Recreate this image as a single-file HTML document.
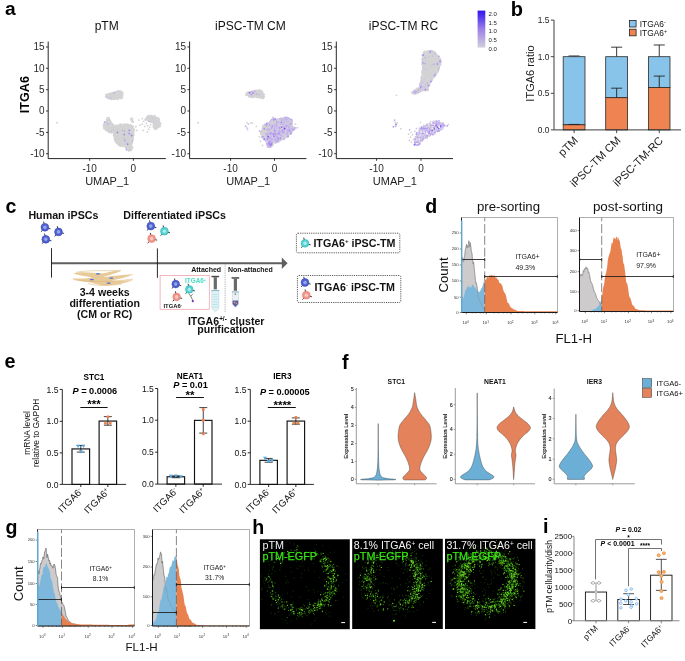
<!DOCTYPE html>
<html lang="en">
<head>
<meta charset="utf-8">
<title>ITGA6 iPSC-TM figure</title>
<style>
html,body{margin:0;padding:0;background:#fff;}
body{width:685px;height:661px;overflow:hidden;font-family:'Liberation Sans', Arial, Helvetica, sans-serif;}
svg{display:block;}
svg text{font-family:'Liberation Sans', Arial, Helvetica, sans-serif;}
</style>
</head>
<body>
<svg width="685" height="661" viewBox="0 0 685 661">
<rect width="685" height="661" fill="#fff"/>
<g id="panel-a"><text x="5" y="14.6" font-size="19.2" font-weight="bold">a</text><text x="29.4" y="94.6" font-size="12.6" text-anchor="middle" font-weight="bold" transform="rotate(-90 29.4 94.6)">ITGA6</text><text x="106.7" y="30.2" font-size="12" text-anchor="middle" fill="#111">pTM</text><text x="250.4" y="30.2" font-size="12" text-anchor="middle" fill="#111">iPSC-TM CM</text><text x="403.4" y="30.2" font-size="12" text-anchor="middle" fill="#111">iPSC-TM RC</text><path d="M48.2 41.5V158.6H165.8" fill="none" stroke="#1a1a1a" stroke-width="0.95"/><text x="44.6" y="50.4" font-size="10" text-anchor="end" fill="#2a2a2a">15</text><text x="44.6" y="71.7" font-size="10" text-anchor="end" fill="#2a2a2a">10</text><text x="44.6" y="93.1" font-size="10" text-anchor="end" fill="#2a2a2a">5</text><text x="44.6" y="114.4" font-size="10" text-anchor="end" fill="#2a2a2a">0</text><text x="44.6" y="135.8" font-size="10" text-anchor="end" fill="#2a2a2a">-5</text><text x="44.6" y="157.1" font-size="10" text-anchor="end" fill="#2a2a2a">-10</text><path d="M48.2 47h-2.2M48.2 68.3h-2.2M48.2 89.7h-2.2M48.2 111h-2.2M48.2 132.4h-2.2M48.2 153.7h-2.2M89.7 158.6v2.2M133.4 158.6v2.2" stroke="#1a1a1a" stroke-width="0.85" fill="none"/><text x="89.7" y="171.5" font-size="10" text-anchor="middle" fill="#2a2a2a">-10</text><text x="133.4" y="171.5" font-size="10" text-anchor="middle" fill="#2a2a2a">0</text><text x="107.2" y="185.3" font-size="11" text-anchor="middle" fill="#222">UMAP_1</text><path d="M118 94.6h0M115.9 95.9h0M120.2 94.8h0M116.7 95.9h0M116.4 95.3h0M114.9 93.4h0M117.4 93.1h0M116.3 96.8h0M118.7 96.2h0M115.5 94.5h0M122.7 95.1h0M119.7 91.9h0M106.3 97.2h0M113.5 93.7h0M112.5 92.7h0M108 97h0M107.3 95h0M107.7 97.5h0M118.6 97.9h0M112.4 98.6h0M116.2 91.7h0M113.5 97.4h0M121 96.1h0M114.5 94.7h0M122.1 97.9h0M118.5 98.8h0M110.3 98.1h0M105.7 96.5h0M110.2 96.6h0M118.6 90.8h0M108.5 93.9h0M118 98.5h0M121.7 91.9h0M110.8 95h0M111.4 96.9h0M118.3 91.5h0" stroke="#d3d3d3" stroke-width="1.9" stroke-linecap="round" fill="none"/><path d="M116.4 97.9h0M114.6 97.6h0" stroke="#c1acee" stroke-width="1.9" stroke-linecap="round" fill="none"/><path d="M114.3 92.8h0" stroke="#b094f0" stroke-width="1.9" stroke-linecap="round" fill="none"/><path d="M112.5 95.2h0M122.4 92.8h0M117.2 94.9h0M108.9 98.5h0M114.2 95.2h0M120.2 95.9h0M119.1 95.3h0M110.2 93.2h0M122.9 93.4h0M120.8 98.6h0M118 94.8h0M105.9 94.8h0M111.4 99.2h0M111.4 98.1h0M118.7 92.5h0M109.8 95.2h0M115 95.6h0M120.2 96.8h0M110.1 98.7h0M121.8 94h0M116.2 98.7h0M114.2 99h0M120.9 94.7h0M120.9 93.7h0M106.6 96.3h0M108.9 96.2h0M121.3 93.3h0M115.2 92.1h0M122.5 97.4h0M117.5 92h0M111.1 94.7h0M118.1 97.2h0M117.5 91.3h0M118.1 96h0M120.1 92.4h0M112 93.5h0M116.4 92.4h0" stroke="#d3d3d3" stroke-width="1.9" stroke-linecap="round" fill="none"/><path d="M110.5 97.6h0" stroke="#c1acee" stroke-width="1.9" stroke-linecap="round" fill="none"/><path d="M107.8 96.4h0" stroke="#cec4ea" stroke-width="1.9" stroke-linecap="round" fill="none"/><path d="M116.8 97.5h0M121.2 92h0M117.5 99.2h0M112.6 94.2h0M109.7 97h0M115.7 93.2h0M119.1 96.9h0M118.7 93.4h0M110.9 96.3h0M118.5 94.6h0M119.4 92.9h0M112.5 95.9h0M111.5 95.1h0M119.9 97.8h0M113.1 94.1h0M121.9 96.4h0M113 99.3h0M113.6 98.3h0M106.6 95.4h0M121.1 96.9h0M115.2 97.8h0M116.2 94.5h0M112.5 93.2h0M115.4 98.8h0M112.8 97.4h0M108 98.2h0M107.6 94.3h0M109.8 94.5h0M113.2 95.9h0M114.3 98h0M121.6 95.5h0M114 96.4h0M120.5 95.1h0M108.8 95.4h0M120.6 91.1h0M107 94.6h0" stroke="#d3d3d3" stroke-width="1.9" stroke-linecap="round" fill="none"/><path d="M57.1 122.8h0" stroke="#d3d3d3" stroke-width="1.9" stroke-linecap="round" fill="none"/><path d="M110.5 127h0M107.4 126h0" stroke="#c1acee" stroke-width="1.9" stroke-linecap="round" fill="none"/><path d="M121.1 143.1h0M117.9 130h0M123.6 130.3h0M124.5 139.4h0M128.6 128h0M122.2 133.6h0M117.8 132.6h0M117.3 133.9h0M132.5 132.3h0M117.4 127.2h0M128.6 141.4h0M108.9 128.2h0M131.7 136.7h0M112.9 132.4h0M129.5 138.8h0M133.9 134.9h0M119.4 127.9h0M111.3 131.5h0M130.3 148.9h0M114.2 134.7h0M125.8 128.1h0M132.5 140.5h0M104.2 128.8h0M128.3 134h0M127.3 139.6h0M131 148.1h0M117.1 129.5h0M122.8 146.5h0M130.5 144.4h0M109.5 120.7h0M116.3 132.9h0M117.3 135.1h0M131.1 132.5h0M119.9 138.2h0M117.3 125.7h0M130 130.6h0M121.1 137.5h0M128.7 134.8h0M126.6 137.7h0M121.5 131.4h0M126.5 148.6h0M129.6 142.4h0M128.8 135.4h0M124.1 136.4h0M109.1 120.9h0M131.1 134.3h0M109.6 130.9h0M121.5 145.1h0M107.3 121h0M124.5 124.4h0M128.4 140.1h0M125.4 133h0M127.4 144.3h0M121.5 140.7h0M130.9 137.6h0M126.8 131.6h0M111.6 127.7h0M131.6 141.4h0M124.7 137.2h0M111.1 132.4h0M115.4 136.5h0M124.9 130.4h0M126.2 144.2h0M104.4 124.1h0M107.7 119.2h0M107.4 128.2h0M129.4 140.3h0M119.7 144.3h0M115.6 129.3h0M130.9 125.1h0M112.9 128.4h0M115.6 127h0M109.6 131.9h0M120.1 132.7h0M122.2 130.7h0M129.6 134.9h0M115.7 129.9h0M114.6 137.2h0M124.4 124.8h0M128.9 150h0M116.4 134.5h0M120.6 136.7h0M133.3 132.1h0M105.7 130.1h0M112.7 130.1h0M123.4 133.7h0M120.7 130.1h0M120.7 140.1h0M122.6 138.8h0M125.9 147.7h0M123.3 140.3h0M127.2 140.3h0M119 126.8h0M109.3 126.2h0M126.2 136.6h0M124.2 140.4h0M126.1 136h0M119.3 131.2h0M126.6 127.1h0M129 129.9h0M119.3 136.1h0M110.4 132h0M132.4 141.7h0M128.1 139.8h0M126.1 132.9h0M128.7 139.4h0M123.9 130.4h0M114.9 131.5h0M130.1 131.6h0M133.7 129.3h0M116.3 135.3h0M121.3 135.5h0M123.1 128.7h0M107.7 122.3h0M108.8 124.4h0M129.4 136.6h0M125.4 143.8h0M112.8 125.7h0M114.4 133h0M124.3 141.6h0M108.3 131.1h0M108.6 119.6h0M127.1 147h0M130.7 128.8h0M132.7 136.9h0M130.6 141.8h0M122.2 134.6h0M105.6 123.8h0M125.5 139h0M104.7 127.9h0M128.4 145.9h0M122.7 125.4h0M117.3 125.3h0M127.9 147.1h0M117.3 128.2h0M126.5 138.1h0M122.2 138.7h0M127.2 133.8h0M129.9 139.4h0M132.1 143h0M120 142.7h0M125.7 144.9h0M112.7 127h0M127.6 128.1h0M112.2 127.7h0M124.4 142.8h0M106.1 128.1h0M121.8 125.2h0M120.3 127.7h0M120.7 125h0M113.2 124.9h0M111.1 126.3h0M129.9 145.4h0M121 141.3h0M103.9 124.6h0M122.9 126.3h0M116.1 138.3h0M119.1 129.7h0M118 141.4h0M130 124.9h0M112.1 130.5h0M115 132.3h0M106.7 122.1h0M119.5 135.1h0M105.6 127.1h0M121 134.3h0M133.3 137.3h0M127.1 145.3h0M118.9 136.6h0M122.9 134.6h0M130.7 136.9h0" stroke="#d3d3d3" stroke-width="1.9" stroke-linecap="round" fill="none"/><path d="M125.1 140.3h0M132.2 140.5h0M122.6 130.1h0M123.7 138.2h0" stroke="#b094f0" stroke-width="1.9" stroke-linecap="round" fill="none"/><path d="M113.5 127.6h0" stroke="#cec4ea" stroke-width="1.9" stroke-linecap="round" fill="none"/><path d="M115.7 139.8h0M105.2 125.6h0M119.9 145.4h0M129.6 150.1h0" stroke="#b094f0" stroke-width="1.9" stroke-linecap="round" fill="none"/><path d="M117.8 130.5h0M123.8 127.2h0M127.1 142.6h0M121.1 124.4h0" stroke="#cec4ea" stroke-width="1.9" stroke-linecap="round" fill="none"/><path d="M113.5 130h0M111.2 130.8h0M118.9 132.7h0" stroke="#c1acee" stroke-width="1.9" stroke-linecap="round" fill="none"/><path d="M110.4 120.4h0M129.2 149h0M105.2 123.6h0M108.5 125.8h0M110.7 122.7h0M127.8 131.2h0M116.4 140.4h0M112.3 125.2h0M111.7 123.2h0M121.8 132.4h0M130.9 143.2h0M116.3 130.4h0M128.7 145.5h0M124.9 125.3h0M119.5 131.9h0M115.5 140.7h0M128 148.6h0M132.4 137.3h0M131.3 127.9h0M123.2 132.1h0M134.2 129.9h0M104.4 123h0M130.7 126.6h0M113.9 133.4h0M127.7 134.9h0M131 147.4h0M115.6 125.8h0M131.7 149.3h0M107.6 129.3h0M109.5 132.4h0M112.3 128.9h0M120.8 130.9h0M126.4 131.1h0M107.5 127.1h0M110.6 124.6h0M118.4 125.5h0M118.1 135.6h0M131.7 130.8h0M127.3 146.1h0M120.6 132.4h0M112.3 127.4h0M121.2 139.3h0M109.4 130h0M106.4 126.9h0M125.4 134.3h0M118.8 140.1h0M124.3 125.7h0M123.5 143.3h0M117.8 125.9h0M133.6 130.2h0M130.5 137.3h0M109.5 119.5h0M117.7 142.2h0M118.8 128.8h0M132 148.8h0M130.5 127.8h0M111.7 124.1h0M124.1 145.8h0M121.6 136.3h0M130.8 131.2h0M126.5 146.1h0M129.7 129.3h0M132.5 128.4h0M108.4 128.3h0M122.7 142.6h0M133.3 131.2h0M120.5 134h0M129 126.2h0M123.2 127.4h0M107.8 131.4h0M133.6 130.6h0M120.3 135.6h0M128.1 142h0M117.3 132.1h0M128.8 147.7h0M125.9 125h0M126.7 127.9h0M118 131.4h0M124.6 135.6h0M115.9 128.2h0M103.9 126.9h0M111.2 128.5h0M118.9 142.3h0M130.5 149.7h0M131.6 139.5h0M103.9 127.7h0M128.6 130.7h0M121 138.3h0M119.2 141h0M108.5 130h0M133.7 132.3h0M113.7 135.2h0M115 130.4h0M108.5 120.2h0M128.3 144.4h0M132.7 139.5h0M116.6 141.4h0M132.8 138.5h0M128.3 136.9h0M131.7 127.3h0M115.1 134.4h0M128.4 127.1h0M129.1 143.7h0M128.3 138.1h0M123.6 135.2h0M120.7 126.2h0M127.6 141.1h0M103.6 125.9h0M118.1 143.2h0M130.4 135.6h0M129 137.1h0M123.7 134.4h0M123.1 132.3h0M123.1 144.4h0M122.6 137.3h0M129.9 147.8h0M127.2 147.9h0M121.8 125.7h0M123.9 145.6h0M103.6 124.9h0M130.1 126.1h0M130.9 138.8h0M122 144.6h0M132.9 135h0M108.3 125.4h0M112.5 123.9h0M123.6 137.4h0M120.5 139.7h0M129.9 126.9h0M119.1 145h0M117 143.4h0M118.5 130.8h0M128 142.9h0M127.9 124.4h0M128.7 150.9h0M119.4 137.4h0M127.6 132.2h0M107.1 120.7h0M109.1 132.5h0M130.4 143.2h0M117.8 133.5h0M109.7 127h0M111.6 132.8h0M125.4 134.1h0M116.2 131.5h0M131.4 132.5h0M132.8 132.1h0M132.8 126.7h0M106.1 125.1h0M122.2 142.6h0M109 117.9h0M129.8 144.4h0M111.6 129.4h0M116.1 136.8h0M129.9 133.7h0M115.5 137.3h0M107.9 125.3h0M109.5 122.4h0M112.5 131.5h0M119.3 128.6h0M125.6 143.4h0M121.8 126.8h0M114.3 136.6h0M120.2 143.1h0M131.9 128.6h0M109 128.7h0M108 118.2h0" stroke="#d3d3d3" stroke-width="1.9" stroke-linecap="round" fill="none"/><path d="M120.6 146h0M131.4 134.9h0M105.7 128.7h0M117 139.3h0M132.3 134.1h0M126.9 130.2h0M124.9 146.3h0M106.7 119.6h0M106.4 123.4h0M130 141.5h0M131.4 146.1h0M122.3 136h0M129.4 131.9h0M133.2 139.1h0M120 125.2h0M126.2 146.8h0M122.1 139.2h0M114.3 130.7h0M113.8 125.3h0M120.7 142h0M113.3 131.9h0M116.2 133.7h0M125.5 138.2h0M124 142.3h0M127 136.9h0M132.1 130.2h0M128.4 144.9h0M122.5 141.5h0M131.1 145h0M127.9 125.7h0M114.4 127h0M121.2 129.4h0M123.2 131.1h0M124.7 129.7h0M115.5 141.7h0M130.4 145.9h0M130.2 146.8h0M131.1 140.7h0M126.1 131.6h0M122 143.6h0M123.8 124.5h0M128.4 125.4h0M128.1 137.6h0M118.1 139.6h0M114.9 138h0M120.8 143.8h0M131.8 138.1h0M132.8 135.9h0M127 150h0M117.8 128.1h0M123.4 136.6h0M115.1 133.6h0M132.5 147.1h0M122.4 127.6h0M121 127.9h0M114.6 129h0M117.1 138.3h0M106.6 121.1h0M133.3 128.3h0M117.1 136.2h0M131.7 141.9h0M123.7 143.9h0M120 124.2h0M114.7 126.4h0M124.2 128.2h0M110.1 121.6h0M127.3 138.7h0M121.8 129.2h0M117.3 140.4h0M126.2 134.8h0M125.4 137.5h0M118.3 138.8h0M120 137.9h0M116.1 142.3h0M124.1 132.7h0M123.5 128h0M127 126h0M116.6 137.4h0M123.7 139.4h0M109 122.9h0M107.3 117.9h0M108.4 127.1h0M117.6 129h0M119.6 133.9h0M114.6 138.7h0M125.3 129.3h0M131.2 125.8h0M119.3 139.5h0M129.6 132.7h0M132.7 126.3h0M124.6 133.7h0M133.1 135.4h0M125.5 124.5h0M126.4 128.5h0M126.6 140.7h0M120.1 132h0M127.1 141h0M109.6 129h0M128.5 128.4h0M107.8 131.1h0M131.5 130.2h0M121.4 134.1h0M120.3 140.9h0M109.9 127.5h0M119.4 135.6h0M106.4 128.9h0M126.1 129.7h0M117.1 134.5h0M114.7 139.8h0M123.2 141.8h0M133.3 133.8h0M105.5 125.2h0M107.3 123.4h0M107.1 124.2h0M110.5 123.7h0M127.2 143.1h0M130.9 150.6h0M131.8 144h0M126.4 141.9h0M125.6 136.6h0M110.5 125.9h0M116.5 129h0M118.4 134.7h0M120.1 140h0M125.3 125.9h0M119.5 126.9h0M127.7 129h0M119 143.1h0M129.9 146.3h0M129.2 146.9h0M120.7 126.9h0M127 124.2h0M131.9 128.1h0M114.6 135.9h0M110.6 121.6h0M123.5 125.7h0M127.5 126.7h0M116.8 126.7h0M125.5 141.7h0M110.2 123.2h0M118.2 144.3h0M127.6 132.3h0M127.7 124.8h0M106.5 130.5h0M115.1 129.8h0M109.9 122.2h0M122.1 145.2h0M121 129.3h0M128.9 132.7h0M113.9 126.1h0M115 127.6h0M122.1 131.9h0M126.8 135.7h0M124 128.7h0M124.4 144.9h0M118.8 125.9h0M131.4 148h0M106.6 130.1h0M112.8 131h0M127.8 135.6h0M131.4 133.4h0M105.6 121.9h0M130.5 129.4h0M124.9 126.6h0M105.5 125.7h0M110.7 129.6h0M131 131.6h0M118.3 137.2h0M110.2 124.7h0M127.8 129.4h0" stroke="#d3d3d3" stroke-width="1.9" stroke-linecap="round" fill="none"/><path d="M129.2 133.5h0" stroke="#b094f0" stroke-width="1.9" stroke-linecap="round" fill="none"/><path d="M107.9 123.9h0M131.6 135.8h0M124.6 131.4h0M126.4 149.5h0M104.8 121.9h0" stroke="#c1acee" stroke-width="1.9" stroke-linecap="round" fill="none"/><path d="M125.5 142.2h0" stroke="#cec4ea" stroke-width="1.9" stroke-linecap="round" fill="none"/><path d="M131.4 118.2h0M132.4 120.6h0M135.8 126.8h0" stroke="#d3d3d3" stroke-width="1.9" stroke-linecap="round" fill="none"/><path d="M132.6 118.9h0M133.2 122h0M136.6 130.4h0" stroke="#d3d3d3" stroke-width="1.9" stroke-linecap="round" fill="none"/><path d="M131 119.8h0M131.8 121.6h0" stroke="#d3d3d3" stroke-width="1.9" stroke-linecap="round" fill="none"/><path d="M117.4 132.4h0M129.2 130.3h0M131.6 135.4h0M124.2 134.6h0M127.6 144.2h0" stroke="#9a84ea" stroke-width="1.7" stroke-linecap="round" fill="none"/><path d="M156.5 121.3h0M152.1 122.1h0M147.1 117.9h0M157 127.6h0M158.1 127.4h0M148.9 118.5h0M158.2 121.4h0M151.9 117.2h0M153.1 119.7h0M149.1 117.7h0M154.6 122.6h0M155.9 117.2h0M152.5 116h0M159.2 124.2h0M155.9 127.7h0M154.3 125.2h0M159.2 121.7h0M153.1 117.5h0M155.5 124.7h0M153.8 123.2h0M151.3 116.5h0M159 119.7h0M158.2 120.3h0M154.8 124h0M154.5 117.5h0M156.7 124.5h0M151.6 119.2h0M154.1 124h0M150.7 116.2h0M148.6 119.4h0M154.9 122.3h0M155.8 126h0M157.1 122.9h0M156.4 124.2h0M158.6 127h0M155.2 126.2h0M156.7 128.9h0M146 118.4h0M150.8 121.4h0M158.8 123.3h0M154.3 122.1h0" stroke="#d3d3d3" stroke-width="1.9" stroke-linecap="round" fill="none"/><path d="M147.7 117.2h0M150.8 118.3h0" stroke="#c1acee" stroke-width="1.9" stroke-linecap="round" fill="none"/><path d="M154.1 127.1h0M154.8 118.3h0M152.5 118.7h0M153.2 121h0M150.5 121.3h0M156.9 124.2h0M159.3 121.3h0M148.3 120.6h0M159 119h0M153.7 116.6h0M154.8 115.8h0M157.4 118.5h0M155.7 118h0M150.5 118.8h0M148.2 119.8h0M153.8 127.4h0M158.5 125.7h0M157.4 123.3h0M158.3 118h0M149.2 118.1h0M155.4 123.4h0M156.9 119.6h0M155.9 126.9h0M154.3 121.2h0M155.2 119.9h0M156.5 120.2h0M160 124.7h0M152 120.9h0M158.2 126.7h0M146.7 119.3h0M157.1 126.6h0M159.8 126.5h0M153.9 125.8h0M154.6 128.7h0M152.4 122.6h0M157.1 119.3h0M153.3 125.1h0" stroke="#d3d3d3" stroke-width="1.9" stroke-linecap="round" fill="none"/><path d="M152.7 118.4h0M153.8 118h0" stroke="#cec4ea" stroke-width="1.9" stroke-linecap="round" fill="none"/><path d="M149.2 121.3h0" stroke="#c1acee" stroke-width="1.9" stroke-linecap="round" fill="none"/><path d="M147.7 116.4h0" stroke="#cec4ea" stroke-width="1.9" stroke-linecap="round" fill="none"/><path d="M158.3 121.6h0M157.5 124.7h0M145.5 120h0M154.6 127.6h0M153.5 126.8h0M150.9 120.3h0M156.8 126h0M151.2 115.6h0M160.7 123.6h0M153.7 119.3h0M148.1 116.2h0M152 118.1h0M151.7 120.4h0M160.2 125.9h0M155.2 121.4h0M155.2 129h0M149.8 115.8h0M147.7 120.3h0M159.2 125.1h0M145.7 119.4h0M151 116.8h0M150.3 117.5h0M159.5 125.6h0M157.7 122.4h0M158.1 124.2h0M156.3 117.6h0M147.2 116.9h0M150.8 122h0M158 119h0M152.8 121.9h0M155.8 119.3h0M148.9 115.7h0M159.7 122.5h0M148.2 119.3h0M154.5 118.8h0M156 122.4h0M154.2 120.3h0M149.8 120h0" stroke="#d3d3d3" stroke-width="1.9" stroke-linecap="round" fill="none"/><path d="M138.9 120.1h0M143.6 121.4h0M143 130.4h0M146.2 123.4h0M147.6 125.8h0" stroke="#d3d3d3" stroke-width="1.8" stroke-linecap="round" fill="none"/><path d="M139.8 125.2h0M142.2 124.2h0M147.4 131.9h0M150.6 124.8h0M145.2 119.4h0" stroke="#d3d3d3" stroke-width="1.8" stroke-linecap="round" fill="none"/><path d="M142.3 118.6h0M144.8 126.4h0M148.6 129.4h0M149.6 127.4h0" stroke="#d3d3d3" stroke-width="1.8" stroke-linecap="round" fill="none"/><path d="M189.6 41.5V158.6H306.4" fill="none" stroke="#1a1a1a" stroke-width="0.95"/><text x="186" y="50.4" font-size="10" text-anchor="end" fill="#2a2a2a">15</text><text x="186" y="71.7" font-size="10" text-anchor="end" fill="#2a2a2a">10</text><text x="186" y="93.1" font-size="10" text-anchor="end" fill="#2a2a2a">5</text><text x="186" y="114.4" font-size="10" text-anchor="end" fill="#2a2a2a">0</text><text x="186" y="135.8" font-size="10" text-anchor="end" fill="#2a2a2a">-5</text><text x="186" y="157.1" font-size="10" text-anchor="end" fill="#2a2a2a">-10</text><path d="M189.6 47h-2.2M189.6 68.3h-2.2M189.6 89.7h-2.2M189.6 111h-2.2M189.6 132.4h-2.2M189.6 153.7h-2.2M230.6 158.6v2.2M274.5 158.6v2.2" stroke="#1a1a1a" stroke-width="0.85" fill="none"/><text x="230.6" y="171.5" font-size="10" text-anchor="middle" fill="#2a2a2a">-10</text><text x="274.5" y="171.5" font-size="10" text-anchor="middle" fill="#2a2a2a">0</text><text x="248.2" y="185.3" font-size="11" text-anchor="middle" fill="#222">UMAP_1</text><path d="M253.6 94.4h0M256.3 94.7h0M257.5 95.2h0M262.9 97.1h0M257.3 97h0M256.2 96.3h0M249.4 95.9h0M260.1 95.1h0M260.7 92.1h0M250.7 93.8h0M248.6 92.9h0M252.8 95.8h0M250.7 92.1h0M262.3 91.7h0M252.8 91.4h0M256.2 97.1h0M247.9 93.4h0M260.4 90.3h0M257.8 94.2h0M257.9 91.4h0M254.4 96h0M252.2 91.4h0M251.6 97.2h0M260 93.5h0M249.1 96.8h0M247.9 92.3h0M263.2 98.4h0M262.5 93.8h0M260.5 98h0M261.3 98h0M261.8 92.3h0" stroke="#d3d3d3" stroke-width="1.9" stroke-linecap="round" fill="none"/><path d="M256.1 91.8h0" stroke="#b094f0" stroke-width="1.9" stroke-linecap="round" fill="none"/><path d="M253.9 93.4h0M251.2 97.1h0" stroke="#cec4ea" stroke-width="1.9" stroke-linecap="round" fill="none"/><path d="M251.3 92h0M256 92.9h0M249.4 95.4h0M252.3 93.4h0" stroke="#c1acee" stroke-width="1.9" stroke-linecap="round" fill="none"/><path d="M256.8 94.3h0M262.8 95.1h0M258.3 95.9h0M258.8 91.9h0M262 95.8h0M254.1 96.2h0M246.7 93.7h0M261.1 96.3h0M252.8 92.1h0M260.8 91.1h0M253.2 97.2h0M254.4 96.8h0M260.4 97.1h0M249.5 92.1h0M256.7 96.2h0M260.4 95.9h0M248.3 95.6h0M263.6 94.4h0M259.6 93.6h0M251.3 93.6h0M246.1 94.1h0M258.8 90.1h0M261.8 91.1h0M258.4 90.4h0M248.9 94.4h0M257.1 92.9h0M258.2 92.2h0M260.1 91.2h0M251.3 93.3h0" stroke="#d3d3d3" stroke-width="1.9" stroke-linecap="round" fill="none"/><path d="M258.8 94.5h0M254.9 90.7h0M256.1 94.3h0M254.6 93.7h0" stroke="#c1acee" stroke-width="1.9" stroke-linecap="round" fill="none"/><path d="M249.5 92.7h0" stroke="#9270f2" stroke-width="1.9" stroke-linecap="round" fill="none"/><path d="M253.4 92h0" stroke="#b094f0" stroke-width="1.9" stroke-linecap="round" fill="none"/><path d="M264.2 94.6h0M253.9 91h0M252.8 93.8h0" stroke="#cec4ea" stroke-width="1.9" stroke-linecap="round" fill="none"/><path d="M250.6 95.1h0" stroke="#c1acee" stroke-width="1.9" stroke-linecap="round" fill="none"/><path d="M252.8 93.3h0M251.8 94.8h0" stroke="#b094f0" stroke-width="1.9" stroke-linecap="round" fill="none"/><path d="M251.4 96.2h0M264 96.9h0" stroke="#cec4ea" stroke-width="1.9" stroke-linecap="round" fill="none"/><path d="M261.6 95.1h0M260.8 94.9h0M255.4 95.1h0M258.2 97.5h0M254.6 91.9h0M248.8 95h0M260.9 92.8h0M246.4 95.3h0M248.1 93.9h0M261 93.9h0M256.7 91.6h0M262.2 97.5h0M250.6 96h0M258.4 96.6h0M263.1 93.1h0M259.6 96.9h0M255.2 93.1h0M259.5 95.8h0M257.2 92.2h0M253 94.9h0M258.4 93.2h0M254.1 94.9h0M259.4 92.6h0M263.6 97.5h0M262.2 96.7h0M262.2 93.4h0M255.3 96.6h0M263.2 96h0M246.5 93.2h0M256.9 90.4h0M247.9 94.8h0M258.7 91.5h0" stroke="#d3d3d3" stroke-width="1.9" stroke-linecap="round" fill="none"/><path d="M198.1 122.8h0" stroke="#d3d3d3" stroke-width="1.9" stroke-linecap="round" fill="none"/><path d="M246.8 128h0" stroke="#cec4ea" stroke-width="1.8" stroke-linecap="round" fill="none"/><path d="M247.2 122.6h0" stroke="#d3d3d3" stroke-width="1.8" stroke-linecap="round" fill="none"/><path d="M248.4 124h0M247.6 129.6h0" stroke="#cec4ea" stroke-width="1.8" stroke-linecap="round" fill="none"/><path d="M245.6 126.2h0" stroke="#c1acee" stroke-width="1.8" stroke-linecap="round" fill="none"/><path d="M256.3 126.3h0M250.8 122.8h0M252.2 123.2h0" stroke="#d3d3d3" stroke-width="1.7" stroke-linecap="round" fill="none"/><path d="M284.7 132.6h0M267.9 144.7h0M276.9 141.6h0M291.8 126.3h0M271.1 120.7h0" stroke="#9270f2" stroke-width="2.0" stroke-linecap="round" fill="none"/><path d="M275 123.8h0M287.6 118.2h0M284 123.3h0M284.1 135.7h0M285.5 128.8h0M289.7 125.9h0M279.5 130h0M269.7 144.5h0M274.8 122.2h0M269 125.4h0M281.8 120.5h0M283.4 138.6h0M268 141h0M265.5 134.9h0M286.4 119.4h0M289.7 120.9h0M271.3 125h0M282.7 120.4h0M294.3 129.2h0M266.4 141h0M282.1 136.4h0M266.8 131.2h0M288.7 130.8h0M284 134.3h0M284.4 127h0M280.6 124.4h0M276.2 131.7h0" stroke="#b094f0" stroke-width="2.0" stroke-linecap="round" fill="none"/><path d="M269.5 139h0M279.5 134h0M286 130h0M276.4 135.5h0M270.4 132.5h0M270.3 136.8h0M285.3 133.6h0M285.7 136h0M277.5 135h0M264.5 131.5h0M275.5 134.7h0M275.2 124h0M281.1 133.4h0M267.1 144.5h0M272.3 123h0M280.9 122.5h0M281.8 126.5h0M274.1 124.4h0M279.5 122.3h0M286.3 133.9h0M270.4 123.4h0M285 120.5h0M279.6 126.8h0M270.5 127.5h0M276.4 119.4h0M276 127.8h0M269.5 132.4h0M272.5 125.7h0M277.4 127.9h0M265.4 127.5h0M268.2 130.9h0M288.7 127.8h0M269.3 124.1h0M280.4 132.7h0M277.1 135.3h0M270.9 138.8h0M265.9 138.7h0M291.4 128.2h0M268.9 133.6h0M276.2 122.3h0M274.4 142.5h0M283 123.3h0M263.3 135.1h0M286.8 130.7h0M264.4 124.5h0M272.7 143.3h0M273.3 130h0M265.5 134.3h0M286.4 118.5h0M288.6 135h0M272.6 127.1h0M290.3 127.8h0M278.4 139.3h0M270.6 142.3h0M282.1 119.3h0M279.1 124.6h0M273.9 137.7h0M264.8 127.1h0M284.3 117.4h0M273.3 140.1h0M281.2 137.1h0M266.2 135.5h0M266 129.1h0M272 130.7h0M283.5 136.9h0M270.6 122.8h0M282.1 122.8h0M278.5 123.8h0M285.5 137.2h0M268.8 144.5h0M286.5 134.9h0M267.6 135.4h0M279.1 140h0M270.4 121.6h0M277.6 139.2h0M272.4 144.5h0M261.6 133.9h0M264.4 136h0M261.3 132.8h0M273.8 142.3h0M264.3 134h0M263.2 130.5h0M275.6 121.8h0M278.6 119.7h0M287.6 120.6h0M290.8 123.2h0M283.7 124h0M270.3 134.5h0M279.2 140.2h0M293.4 127.5h0M286.8 136.4h0M285 119h0M285.1 122.2h0M265.9 139.7h0M287.7 130.6h0M272.5 118.5h0M284.5 135.3h0M265.6 126.1h0M277.3 136.2h0M281 131.1h0M283.7 127.4h0M271.4 126.4h0M267.8 125.4h0" stroke="#d3d3d3" stroke-width="2.0" stroke-linecap="round" fill="none"/><path d="M286.6 117.6h0M280 135h0M279.1 131.4h0M278 121.3h0M268.1 142.5h0M278.8 121.7h0M287.4 122h0M284.1 137.2h0M289.5 132h0M282.6 136.3h0M288.5 123.4h0M273.3 122.2h0M290.8 119.4h0M282.6 132.1h0M274.5 129.2h0M275.4 139.6h0M278 130.3h0M283.1 125h0M274.8 127.3h0M267.4 137.7h0M275.5 135.8h0M292.1 129.1h0M279.6 119h0M270.1 129.2h0M269.8 146.4h0M291.8 124h0M291.6 131.9h0M272.3 135h0M285.2 117.7h0M276.8 132.6h0M267.6 124.1h0M287.9 123.4h0M275.7 137.2h0M268.8 132.3h0M276.1 124.3h0M264.7 125.2h0M274.1 132.1h0M271.1 127h0M274.3 139.8h0M268.1 145.2h0M284.3 118.2h0M282.6 126.6h0" stroke="#c1acee" stroke-width="2.0" stroke-linecap="round" fill="none"/><path d="M271.5 130.4h0M289.6 130.4h0M278.3 120.6h0M279.8 119.7h0M283.3 133.2h0M271.9 137.4h0M280.8 135.6h0M266.7 129.7h0M277.7 133.1h0M287.1 124.1h0M281.1 119.5h0M275.2 133.4h0M283.5 119.8h0M269.4 122.3h0M270.4 138.1h0M271.9 139.5h0M286 123h0M274.3 120.3h0M295.8 128.1h0M289.7 133.5h0M280.2 138.3h0M265.5 129.8h0M274 129.9h0M264.2 131.9h0M292 121.3h0M288.1 119.7h0M275.7 127.1h0M276.4 127.6h0M285.6 125h0M290.2 125.4h0M288 136h0M274.3 121.8h0M282.6 131.1h0M291.1 121.7h0" stroke="#cec4ea" stroke-width="2.0" stroke-linecap="round" fill="none"/><path d="M288.6 124.7h0M275.6 125.7h0M272.1 122.3h0M288.7 132.2h0M287.7 134.4h0M261.4 134.5h0M270.5 125.9h0M268.2 128.1h0M266.7 131.6h0M286.2 128.5h0M285.9 120.5h0M284.2 122.3h0M285.4 130.1h0M268 127.4h0M271.1 135h0M272.5 119.7h0M278.7 128.5h0M282.3 134.5h0M277.5 119.2h0M287.2 128.4h0M266.3 141.3h0M264.5 135.3h0M289 121.4h0M273.7 122.3h0M275.3 128.2h0M283.8 137.4h0M272.8 138h0M269.7 126.4h0M288.7 120h0M285 136.2h0M286 122.9h0M276.4 138.7h0M262.6 134.5h0M291.7 131.4h0M276.5 125h0M275.1 141.8h0M263.2 129.3h0M266 124.4h0M262.8 137.4h0M284 129.9h0M268.9 130.3h0M261.2 131.7h0M264.8 135.8h0M278.4 126.5h0M262.9 126h0M290.9 126.6h0M278.3 138.1h0M270.6 147h0M278.8 122.7h0M269.3 129.3h0M282.9 127.8h0M266.7 128.4h0M262.3 137.4h0M271.7 131.7h0M285.8 127.4h0M262.4 133h0M281.9 137.6h0M262.7 136h0M273.3 133.5h0M292 125.6h0M264.3 126.1h0M284.6 119.2h0M271 129.5h0M269.9 128.6h0M273.6 123.3h0M272.7 145h0M281.8 121.5h0M274.2 136.7h0M265.4 124.2h0M267.2 142.9h0M270 145.1h0M265.3 128h0M287.1 125.9h0M272.1 145.6h0M272.2 137.2h0M271.3 131h0M264.2 128.1h0M276.9 121.3h0M276.2 141.6h0M261.1 133.6h0M279.2 132.1h0M264.8 132.3h0M280.7 133.9h0M265.7 130.7h0" stroke="#d3d3d3" stroke-width="2.0" stroke-linecap="round" fill="none"/><path d="M283.8 128.6h0M273.2 134.9h0M268.4 132.8h0M268.2 137.8h0M283 128.9h0M287.3 125.5h0M285.9 125.9h0M287.4 133h0M267.7 146.2h0M268.6 139.9h0M276.3 142.3h0M286.9 127.2h0M275.2 126.3h0M288.8 129.5h0M278.8 139h0M289.6 118.7h0M266.7 136.4h0M276.6 136.6h0M289.8 128.2h0M291.3 122.7h0M283.5 126.4h0M281.8 131.6h0M276.4 128.9h0M294.1 128h0M271.6 119.9h0M277.5 137.3h0M276.9 133.8h0M282 133.2h0M268.1 136.8h0M274.6 133.3h0M284 139.1h0M290.8 131.8h0M274.7 129.9h0M270.8 132.2h0M284.8 127.9h0M282.5 126.9h0M287.6 130.5h0M288 134h0M290.6 122.8h0M265.8 133h0M273.5 133.4h0M274.8 125h0M261.4 131.5h0M268.2 126.5h0M273 141.3h0M281.3 138.7h0M266.7 133.5h0M271.1 140h0M282.5 118.7h0M271.9 142.8h0M271 136.5h0M270.3 138.7h0M268.3 138.3h0M282.4 133.5h0M272.2 141h0M267.8 145.5h0M287 132.9h0M277.5 122.6h0" stroke="#c1acee" stroke-width="2.0" stroke-linecap="round" fill="none"/><path d="M276.5 125.9h0M287.9 120.2h0M278.2 136h0M280.9 129.2h0M272.2 133.4h0M285.9 134.9h0M267 127.8h0M271 140.6h0M267.7 147h0M281.7 136h0M273.6 118.9h0M277.5 127.4h0M290.3 132.7h0M269.3 131.2h0M283.6 121.3h0M266.1 136.6h0M278.3 124.8h0M271.8 135.4h0M287.2 136h0M284.9 126h0M280.3 125.7h0M272.8 121.6h0M273.8 128.4h0M275.8 138.8h0M286.8 129h0M281.5 125.1h0M288.3 126.3h0M275.7 142.7h0M280 136.7h0M280.8 128.6h0M268.7 140.4h0M280.3 121.9h0M276.5 139.8h0M272 141.5h0M285.2 130.7h0M284.3 125.5h0M279.9 128.7h0M270.8 143.4h0M268.9 133.2h0M279.2 127.4h0M270.7 141.7h0M281.3 128.1h0M287.5 128.8h0M270.4 127.8h0M279.5 125.9h0M289.9 119.6h0" stroke="#cec4ea" stroke-width="2.0" stroke-linecap="round" fill="none"/><path d="M281.4 126.9h0M267.1 123.6h0" stroke="#9270f2" stroke-width="2.0" stroke-linecap="round" fill="none"/><path d="M269.2 129.7h0M284.7 121.5h0M273.8 129.1h0M276.3 123.8h0M291.6 120.1h0M288 136.5h0M279.3 132.9h0M269.5 137.4h0M288 122.1h0M280.3 139.9h0M276.5 120.7h0M275.7 140.5h0M271 132.9h0M263.6 137h0M284.9 129h0M278.3 134.1h0M275.8 131.3h0M290.9 133.7h0M279.5 127.9h0M273.6 136.2h0M290.8 129.8h0" stroke="#b094f0" stroke-width="2.0" stroke-linecap="round" fill="none"/><path d="M267.8 126.1h0M279.4 137.6h0M275.6 119.9h0M283.6 120.9h0M280.2 126.1h0M262 131.7h0M288.5 133.3h0M275.1 120.4h0M292.3 123.5h0M266 126.4h0M274.6 140.8h0M275.4 132.2h0M262.8 131.5h0M262.6 128.6h0M265.2 137.9h0M268.9 127.4h0M283.1 134.5h0M266.5 132.5h0M273.2 120.8h0M293.5 129.9h0M291.2 130.4h0M274.2 141.1h0M264.5 130h0M267.1 131.9h0M287.6 127.6h0M262 130.3h0M271.7 121h0M267.1 127.1h0M264 137.7h0M268.3 141.8h0M282.9 138h0M277.1 130.2h0M289.1 122.7h0M275.9 137.8h0M278.5 129.4h0M270 131.4h0M266.3 138.2h0M265 136.8h0M267.7 143.1h0M277 131.6h0M282.3 125.5h0M290.1 121.2h0M263.8 130.8h0M280.2 120.1h0M273 136.2h0M263.1 132.2h0M264.4 132.9h0M278.9 125.3h0M273.6 121.1h0M263.2 133h0M293.2 130.6h0M263.4 126.9h0M291 130.9h0M271.1 123.4h0M272.6 131.7h0M287 123.6h0M285.4 133.3h0M282 128.8h0M276 133.5h0M288 117.9h0M282.6 123.5h0M277.6 130.7h0M290.8 125.1h0M271.4 144.2h0M268.6 123.8h0M272.1 124.4h0M292.5 126.9h0M290 127.6h0M281.6 139.8h0M263 133.9h0M279.9 120.6h0M272.4 129.2h0M284.9 132h0M288.5 125.1h0M261.6 136.2h0M282.2 139.1h0M283.4 131.3h0M275.8 123.6h0M262.6 128.8h0M262.7 127.5h0M277.7 120.3h0M278.6 137.2h0M279.9 140.6h0M268.8 124.6h0M286.2 137.6h0" stroke="#d3d3d3" stroke-width="2.0" stroke-linecap="round" fill="none"/><path d="M281.4 123.1h0" stroke="#9270f2" stroke-width="2.0" stroke-linecap="round" fill="none"/><path d="M283.8 132.4h0M269.2 143.5h0M290.2 129.3h0M274.2 119.4h0M272 139h0M277.1 126.3h0M287.9 130h0M281.6 121h0M270 124.9h0M266.7 143.7h0M293.3 129.1h0M288.8 127.3h0M269.9 135.5h0M267.6 139.4h0M270.5 140.6h0M268.4 135h0M280.2 131.6h0M273.2 125.4h0M274.3 139h0M288 118.3h0M287.4 132.1h0M269.9 141.2h0M273.2 127.6h0M281.9 130.3h0M278.5 141.4h0M268.8 143.7h0M286.4 121.5h0M266 125h0M291 132.6h0M269.2 147h0M266.7 134.8h0M274.9 138.2h0M285.4 119.4h0M284 131.5h0M277.2 124.3h0M272.1 133.6h0M283.2 124.2h0M281 135.1h0M271.8 143.6h0M292.7 129.9h0M278.7 132.2h0M289.5 124.8h0M267.4 130.3h0M279.3 135h0M287.3 133.6h0M281 118.4h0M276.9 141h0M277.4 137.1h0M267.4 133.7h0M279.8 131.1h0M271.4 128.2h0M270.9 142.3h0M266.7 125.7h0M267.7 129.2h0M262.3 137.1h0M274.3 135.1h0M292.8 128.6h0M277.6 140.3h0M264.4 138.4h0" stroke="#c1acee" stroke-width="2.0" stroke-linecap="round" fill="none"/><path d="M273.9 136.6h0M289.7 130.8h0M278.1 138.4h0M286.5 125.5h0M273.7 119.8h0M274.8 131.2h0M290.5 124h0M270.3 133.9h0M282.4 130.4h0M269.2 142.1h0M280.4 137.9h0M275.2 118.9h0M273.6 134.2h0M270 134.3h0M264.3 128.8h0M272.6 126.2h0M275.5 133.7h0M267.3 139h0" stroke="#b094f0" stroke-width="2.0" stroke-linecap="round" fill="none"/><path d="M270.4 135.7h0M285.3 124.1h0M281.5 123.9h0M290.8 120.5h0M278.2 129.5h0M269.4 139.8h0M294.5 128.1h0M273.3 124.5h0M265.6 140.8h0M286.3 124.6h0M270.3 145.8h0M277.9 123.7h0M273.3 117.6h0M279.5 135.6h0M269.4 146.3h0M291.4 127.4h0M271.2 121.5h0M273.8 138.5h0M271.5 146.3h0M270.3 130.1h0M276.5 131.1h0M267.3 129.5h0M284.7 137.5h0M267.1 141.3h0M294.8 127.4h0M290.7 129.2h0M281 130.5h0M275.2 128.8h0M270.9 124.6h0M283 122.2h0M285.5 121.1h0M277.7 125.2h0M273.1 128.2h0M286.5 132.3h0M279.6 123.1h0M268.1 123.3h0M276.5 130.1h0M287.5 121.6h0M289.6 123.7h0M273.8 126h0M269.1 134.7h0M268.6 136.2h0M282 134.1h0M273.2 140.7h0M269.4 136.4h0M281.6 118.5h0M273.1 130.6h0" stroke="#cec4ea" stroke-width="2.0" stroke-linecap="round" fill="none"/><path d="M284.6 128.6h0M268.2 136.4h0" stroke="#6a48ee" stroke-width="1.5" stroke-linecap="round" fill="none"/><path d="M270.4 145.6h0M269.2 143.8h0M271.4 144.2h0M264.2 139.4h0" stroke="#9077ec" stroke-width="1.8" stroke-linecap="round" fill="none"/><path d="M295.4 124.2h0" stroke="#d3d3d3" stroke-width="1.7" stroke-linecap="round" fill="none"/><path d="M259.6 131.2h0" stroke="#c1acee" stroke-width="1.7" stroke-linecap="round" fill="none"/><path d="M297.6 127.6h0M262.6 145.4h0" stroke="#d3d3d3" stroke-width="1.7" stroke-linecap="round" fill="none"/><path d="M260.6 141.4h0M259.2 136.8h0" stroke="#d3d3d3" stroke-width="1.7" stroke-linecap="round" fill="none"/><path d="M336.3 41.5V158.6H453" fill="none" stroke="#1a1a1a" stroke-width="0.95"/><text x="332.7" y="50.4" font-size="10" text-anchor="end" fill="#2a2a2a">15</text><text x="332.7" y="71.7" font-size="10" text-anchor="end" fill="#2a2a2a">10</text><text x="332.7" y="93.1" font-size="10" text-anchor="end" fill="#2a2a2a">5</text><text x="332.7" y="114.4" font-size="10" text-anchor="end" fill="#2a2a2a">0</text><text x="332.7" y="135.8" font-size="10" text-anchor="end" fill="#2a2a2a">-5</text><text x="332.7" y="157.1" font-size="10" text-anchor="end" fill="#2a2a2a">-10</text><path d="M336.3 47h-2.2M336.3 68.3h-2.2M336.3 89.7h-2.2M336.3 111h-2.2M336.3 132.4h-2.2M336.3 153.7h-2.2M376.6 158.6v2.2M421 158.6v2.2" stroke="#1a1a1a" stroke-width="0.85" fill="none"/><text x="376.6" y="171.5" font-size="10" text-anchor="middle" fill="#2a2a2a">-10</text><text x="421" y="171.5" font-size="10" text-anchor="middle" fill="#2a2a2a">0</text><text x="394.85" y="185.3" font-size="11" text-anchor="middle" fill="#222">UMAP_1</text><path d="M416.6 91.3h0M419.5 90.6h0M421.6 84.9h0M419.4 88.9h0M421.6 80.5h0M425.1 84.5h0M415.9 93.5h0M427.2 86.7h0M430.6 72.1h0M423.5 89.6h0M417.9 92.8h0M417.1 91.9h0M437.9 67.7h0M423.9 61.8h0M423.2 66.5h0M438.5 65.8h0" stroke="#c1acee" stroke-width="2.0" stroke-linecap="round" fill="none"/><path d="M436.7 72.9h0M429 67.7h0M421.9 87.8h0M417.3 90.8h0M424 55.6h0M434.8 62.2h0M426.6 85.7h0M426.9 51.9h0M424.4 87.7h0M433 51.5h0M421.3 81.7h0M427.1 60.1h0M423.6 86.5h0" stroke="#cec4ea" stroke-width="2.0" stroke-linecap="round" fill="none"/><path d="M425.2 87.1h0M439.7 60.7h0M424.2 84.4h0M429.7 69.1h0M416.2 92.5h0M421.5 85.7h0" stroke="#b094f0" stroke-width="2.0" stroke-linecap="round" fill="none"/><path d="M422.2 77.9h0" stroke="#9270f2" stroke-width="2.0" stroke-linecap="round" fill="none"/><path d="M425.1 60.1h0M430.8 66h0M435.8 69.6h0M432.8 77.4h0M425 82.4h0M431.9 59.4h0M438.3 61.3h0M433 66.2h0M428.3 82.3h0M426.3 69.3h0M434.6 56.6h0M422.1 72.7h0M429.8 79h0M430.6 62h0M427 77.3h0M422.9 67.8h0M428.4 53.6h0M424.2 80.5h0M435.1 70.1h0M425.8 63.2h0M425.3 63h0M426.6 80.3h0M431.3 71h0M425.4 81.8h0M418.5 89.6h0M422.8 58.3h0M432.4 67h0M427.6 63.4h0M430.3 81.7h0M435.2 68.1h0M422.9 68.4h0M430.5 53.8h0M428.8 71.8h0M432.3 53.8h0M440 62.4h0M424.2 70.2h0M422.5 61.7h0M433.1 74.8h0M430.6 75.3h0M438.6 60.7h0M433.7 61.8h0M428.2 79.1h0M426.5 60.7h0M432.4 71.3h0M428.3 58.3h0M438.2 58.3h0M436.8 62.4h0M433.6 64.3h0M421.1 80.1h0M425.8 60.8h0M416.3 89.3h0M423.1 74.3h0M426.3 89.6h0M437.2 65.2h0M427.7 71.8h0M431 74h0M433.6 65.8h0M423.6 60.8h0M435.8 58.2h0M433.4 71.2h0M430.4 78.3h0M424 59.1h0M424.3 51.6h0M432.4 66.1h0M433.1 74.1h0M426.4 73.5h0M431.3 64h0M423.1 69.1h0M431.4 57.7h0M431.7 72.7h0M425.1 58.4h0M427.9 66.6h0M422.9 79.9h0M429.1 77.8h0M424.9 65.2h0M421.5 87.1h0M428 90.2h0M437.4 59h0M427.2 65.8h0M425.3 52.7h0M425.6 83.3h0M428.3 63.2h0M424.3 57.6h0M432.1 51.1h0M426.9 64.7h0M428 71.4h0M429.6 79.9h0M429.6 56.9h0M420.5 83.4h0M423.4 75.7h0M433.3 77.7h0M427.6 73h0M437.3 67.3h0M429 60.7h0M430.3 50.9h0M429.1 61.5h0M414.1 91.9h0M432.3 68.3h0M438.2 56.3h0M440.8 62.8h0M428.1 51h0M432.9 56.6h0M436.3 63.2h0M425.8 78.7h0M420.2 87.2h0M432.4 56.8h0M424.2 52.5h0M429 53.3h0M433.6 59.2h0M435.6 74.9h0M438.6 64.4h0M423.2 58.9h0M422.2 74.4h0M426.4 56.1h0M437.2 62h0M427.4 53.9h0M432.4 61.1h0M424.7 81.6h0M424.2 64.7h0M431 64.4h0M435.6 72.5h0M428.9 58.5h0M437.4 60h0M434.6 69.9h0M431.8 72.3h0M433.9 73.2h0M438.5 62.9h0M427.9 64.8h0M429.3 59.7h0M429.9 68.6h0M434.6 67.8h0M441 61h0M420.8 89.9h0M436.3 68.5h0M428 81.4h0M435 63.2h0M423.1 64.5h0M432.4 64.3h0M437.6 68.3h0M430.9 66.9h0M424.2 66.1h0M436.7 57.7h0M431.4 76.3h0M439.5 62h0M421.6 77h0M431.4 56.2h0M427 70.3h0M426.8 55.4h0M424 63.7h0M433.9 77h0M413.7 93h0M435.8 66.2h0M430.6 56h0M436.7 56.7h0M424.6 76.8h0M430.8 80.2h0" stroke="#d3d3d3" stroke-width="2.0" stroke-linecap="round" fill="none"/><path d="M426 59.5h0M423.9 67h0M438.1 62.3h0M429.8 52.7h0M425.4 52.5h0M419.2 91.8h0M438.5 63.6h0M425.7 85.6h0M419.9 85.9h0M424 89.5h0M425.5 68.2h0M422.5 90.5h0M422.5 70.9h0M422.5 86.4h0M422.3 64.3h0M414.2 90.5h0M432.3 61.7h0M420.6 82.8h0M427.1 87.9h0M426.5 84.6h0M439.1 59.8h0M438.3 70.3h0" stroke="#cec4ea" stroke-width="2.0" stroke-linecap="round" fill="none"/><path d="M417.6 91.1h0M422.6 80.1h0M422.4 89.2h0M431.1 58.5h0M438.1 59.9h0M422.3 60.4h0M428.6 68.4h0M424.9 79.1h0M428.7 55.2h0M435.2 62.9h0M422.9 84.1h0M431.4 80.4h0M425.1 67.7h0M430.2 71.4h0M428.4 56.2h0M436.9 70.2h0M429.8 73.3h0M422.7 72.3h0M435.3 56.2h0M424.3 82.8h0M427.4 55.7h0M427.5 77.6h0M432.5 52.7h0M429.3 76.2h0M414.5 91.1h0M439.1 68.8h0M432.3 64h0M421.4 77.6h0M425.3 78.4h0M427.5 60.6h0M426.4 82.9h0M429.9 72.2h0M432 78.5h0M433.9 60.6h0M424.9 74.4h0M430.4 77.1h0M424.8 61.3h0M437.8 56.9h0M425.8 58h0M424.1 85.3h0M436.7 63.7h0M427.5 69.7h0M432.4 65.5h0M414.1 93.5h0M426.9 83.1h0M438.6 58.8h0M432 70.1h0M439.4 65.2h0M424.8 80.2h0M433.7 70.5h0M429.2 51h0M440.6 64.7h0M426.6 63h0M429.3 82.6h0M428.3 52.6h0M427.4 74.9h0M425.2 76.4h0M434.3 72.3h0M434.3 66.6h0M437.6 70.2h0M430.3 82.4h0M433 57.7h0M426.8 58.2h0M435.3 73.2h0M423.9 54.1h0M433.4 69.4h0M427.3 71.4h0M425.2 81.2h0M428 84.7h0M430.8 80.5h0M426.1 90.3h0M431.7 54.3h0M432.2 55.2h0M418.8 88h0M428.3 65.3h0M427.9 70.6h0M435.8 55.5h0M426.6 57.3h0M423 73.6h0M429.1 79.9h0M427.8 80.3h0M429.5 59.2h0M417.6 89.4h0M425.8 81h0M427.8 89.8h0M429.7 80.8h0M429.6 84.7h0M429.8 56.1h0M439.6 58.3h0M436.4 54.2h0M436 71.3h0M427.6 76.2h0M435.6 54.8h0M435.8 72.9h0M428 73.3h0M424.7 75.4h0M434.4 58.7h0M435 61.3h0M430.6 52.9h0M426.8 90.1h0M436.3 65.8h0M424.6 62.7h0M433.2 75.7h0M431.7 77.1h0M434 53.9h0M423.6 88.6h0M436.2 59.7h0M423.4 78.4h0M423.1 82h0M428 77.1h0M432.4 78.5h0M433.7 74.8h0M422.4 58.4h0M428.4 67.6h0M432.8 69.6h0M425.2 87h0M439.7 64h0M426.3 66.1h0M429 52h0M437.9 71.6h0M434.1 58h0M425.1 64.2h0M424.4 83.7h0M424.9 70.9h0M423 85.4h0M435.1 52.3h0M436.8 64.9h0M422.6 63.9h0M421.9 81.5h0M425.1 54.2h0M433.3 72.4h0M431.2 69h0M426.5 77.8h0M432.4 75.6h0M425.5 57.3h0M424.4 72.1h0M429.3 65.4h0M440.3 63.9h0M433.2 55h0M435 65.3h0M431.9 58.9h0M430.7 70.2h0M434 52.7h0M428.6 63h0M432.4 73.6h0M427 76.4h0M437 55.8h0M426.7 83.3h0" stroke="#d3d3d3" stroke-width="2.0" stroke-linecap="round" fill="none"/><path d="M431 81.6h0M437.3 64.1h0M427.5 83.6h0M418.6 90.3h0M416 91.1h0" stroke="#b094f0" stroke-width="2.0" stroke-linecap="round" fill="none"/><path d="M433.5 63.9h0M439.1 67.1h0M428.5 56.9h0M413.3 91.7h0M429.7 63.4h0M427 88.7h0M422.6 55.3h0M422.9 88.6h0M421.8 86.6h0M430 66.4h0M428.1 74.2h0M422.6 63h0M435.5 74h0M421.2 84h0M425.7 70.1h0M420.6 90.1h0M424.1 78h0" stroke="#c1acee" stroke-width="2.0" stroke-linecap="round" fill="none"/><path d="M422.6 59.5h0M421.9 78.5h0M424.6 68.2h0M419.9 84.7h0M424.6 88.2h0M422.4 70.7h0M414.9 90.3h0M422.8 82.7h0M422.2 85.9h0M431.5 65.8h0M422.1 82.7h0M422.4 81.2h0M420.8 84.8h0M425.3 69.3h0M431.9 79.9h0M412.4 93h0" stroke="#cec4ea" stroke-width="2.0" stroke-linecap="round" fill="none"/><path d="M438 69.5h0M433.1 56.1h0M440 59.5h0M427.7 86h0M423.6 62.7h0M438.8 56.6h0M414.8 92h0M431.3 51.2h0M420.2 88.7h0M425.3 64h0M425.3 57.5h0M434.1 64.2h0M433.1 52.5h0M434.8 53.6h0" stroke="#c1acee" stroke-width="2.0" stroke-linecap="round" fill="none"/><path d="M431.4 61.4h0M423.1 78.8h0M435.8 56.8h0M433.7 52.2h0M430.3 62.5h0M428.2 69.5h0M423.7 73.6h0M427.7 56.8h0M430.2 60h0M429.7 70.5h0M439 66.5h0M432.9 68.1h0M430.2 78.6h0M434.3 68.7h0M434.2 60.1h0M436.9 55.2h0M426.9 80.8h0M429.4 54.4h0M425.5 66.4h0M429.7 54.7h0M416.3 90.2h0M429.1 82.1h0M433 59.3h0M423.5 52.7h0M436.3 72.5h0M429.1 83.4h0M434.1 54.8h0M437.4 71.7h0M427.3 53h0M434.5 76.5h0M439.5 59.2h0M426.3 52.8h0M422.8 84.7h0M422.8 65.8h0M428.1 60.1h0M429.6 75.1h0M429 76.8h0M432 74.2h0M437.3 69.4h0M425.9 53.6h0M428.4 75.4h0M419.6 89.8h0M429 71.6h0M435.5 59.2h0M426.9 84.2h0M421.9 83.9h0M423.9 71.6h0M423 56.2h0M424.3 77h0M433.7 67.4h0M431.2 75.1h0M419.7 92h0M426.3 68.1h0M434.3 74h0M436.2 62.1h0M434.6 71.3h0M430.5 57.7h0M427.6 58.8h0M424.6 75.7h0M431.9 52h0M429.6 75.7h0M430.9 72.8h0M436.5 66.7h0M432.1 77.9h0M424.3 69.4h0M435.2 60.5h0M424.5 61.1h0M412.1 92.5h0M417.2 88.6h0M435.2 64.1h0M427.3 87.6h0M428.9 64.6h0M423.6 79.1h0M427.6 68h0M422.3 76.1h0M430.3 73.8h0M428.1 86.7h0M427 79.2h0M425.8 71.1h0M423.4 72.2h0M422.9 77.4h0M426.5 61.7h0M431.1 56.8h0M430.3 69.6h0M424.3 56.5h0M414.3 93.9h0M429.2 58h0M425.1 73.3h0M425.3 90.6h0M425.8 80.1h0M435.2 59.8h0M426.7 73.7h0M437.4 66.8h0M425.7 76.9h0M420.3 91.2h0M430.4 67.3h0M431.5 67h0M427.4 61.8h0M433 62.7h0M431.4 63h0M431.4 78h0M421.6 90.6h0M423.1 56.6h0M424 60h0M439.9 64.4h0M427.7 62.7h0M425.8 73.9h0M412.6 92h0M430.9 63.9h0M422 88.6h0M432.5 62.8h0M428.9 66.2h0M422.9 69.9h0M435.3 58.2h0M433.7 56.1h0M423.1 87.9h0M426 55.4h0M430.2 60.7h0M437.4 60.4h0M424.3 55.4h0M426.5 58.9h0M434.8 69.1h0M428.7 61.9h0M424.2 90h0M429.2 70.6h0M427.9 81h0M423.9 65.5h0M431 68.1h0M432.9 60.7h0M433.6 53.1h0M426.7 51.6h0M431.4 55.4h0M428.1 55.3h0M423.6 74.8h0M429.7 64.2h0M428.6 74.2h0M422.9 75.3h0M425.8 67.7h0M424.2 53.3h0M426.4 72.6h0M427.9 88.6h0M427.2 67.1h0M416.8 93h0M424.9 55.8h0M425.9 72h0M426.2 74.9h0M430.9 60.4h0M425.7 88.5h0M436.4 67.5h0M425.8 86.6h0M426.1 52h0M436.8 58.7h0M426.3 82.1h0M436.2 61.1h0M425.9 65.1h0" stroke="#d3d3d3" stroke-width="2.0" stroke-linecap="round" fill="none"/><path d="M428.7 85.7h0M430.1 52.1h0M440.1 61.6h0M434.7 75.5h0M420.8 87h0M425.4 89.8h0M423.2 55h0" stroke="#b094f0" stroke-width="2.0" stroke-linecap="round" fill="none"/><path d="M396.5 95.3h0" stroke="#d3d3d3" stroke-width="1.8" stroke-linecap="round" fill="none"/><path d="M394.6 120.2h0" stroke="#c1acee" stroke-width="1.8" stroke-linecap="round" fill="none"/><path d="M396 124.4h0" stroke="#9270f2" stroke-width="1.8" stroke-linecap="round" fill="none"/><path d="M393.4 126.8h0" stroke="#b094f0" stroke-width="1.8" stroke-linecap="round" fill="none"/><path d="M395.2 122.4h0" stroke="#d3d3d3" stroke-width="1.8" stroke-linecap="round" fill="none"/><path d="M395.6 126.2h0" stroke="#c1acee" stroke-width="1.8" stroke-linecap="round" fill="none"/><path d="M397.2 123h0" stroke="#d3d3d3" stroke-width="1.8" stroke-linecap="round" fill="none"/><path d="M400.8 128.7h0M420.6 122.5h0" stroke="#d3d3d3" stroke-width="1.7" stroke-linecap="round" fill="none"/><path d="M433.1 125.2h0M437.7 131.2h0M429.7 128.9h0M430.9 134.1h0M436.4 124.4h0M421.2 129.1h0M439.4 130.7h0M429.8 134h0M430.2 135.1h0M421.5 127.1h0M422.6 138.7h0" stroke="#b094f0" stroke-width="1.9" stroke-linecap="round" fill="none"/><path d="M434.7 133.5h0M435.3 130.2h0M427.3 138h0M420.7 141.8h0M441.8 124.8h0M428 132h0M425.8 134.6h0M436 131.4h0M429.6 132.9h0M422.7 137.1h0M418.2 134.8h0M427.8 128.9h0M418.7 142h0M419.2 131.9h0M421.3 138.3h0" stroke="#cec4ea" stroke-width="1.9" stroke-linecap="round" fill="none"/><path d="M430.7 129.1h0M427.3 130.5h0M426.5 136.9h0M430.9 126.9h0M434.1 123.3h0M434.3 129.5h0M421.8 133.8h0M427.9 135.8h0M416.1 144.8h0M426 130.4h0M440.8 129.3h0M415.4 139.7h0M425.4 135.9h0M415.7 136.9h0M436.8 121.9h0M431.5 132.1h0M425.4 132.9h0M425.6 131.7h0M422 135.9h0M423.7 136.9h0M422.5 132.6h0M431.2 134h0" stroke="#c1acee" stroke-width="1.9" stroke-linecap="round" fill="none"/><path d="M437 129.2h0M420.8 137h0M428 127h0M417.6 133.1h0M433.9 133.8h0M431.5 131.3h0M422.2 131.3h0M431.5 127.1h0M420.7 130h0M437.8 125.2h0M432.8 127.3h0M418.3 144.1h0M433.2 129.5h0M424.6 135.6h0M424.3 131.1h0M440.4 130.1h0M436.3 129.7h0M416.4 136.3h0M435 126.4h0" stroke="#d3d3d3" stroke-width="1.9" stroke-linecap="round" fill="none"/><path d="M428.7 133h0" stroke="#9270f2" stroke-width="1.9" stroke-linecap="round" fill="none"/><path d="M418.3 138.1h0M438.6 124.2h0M427.9 127.7h0M442.6 124.1h0M427.1 124.5h0M435.8 123.3h0M424.4 134.9h0M422.7 130h0M436.5 120.9h0M439 120.9h0M419.5 130.7h0M436.8 124.5h0M425.3 137.9h0M437.6 123.1h0M430.7 125.2h0M438.5 130.1h0M426.1 128.6h0M443 123.1h0M423.3 138.3h0M443.8 124.6h0" stroke="#c1acee" stroke-width="1.9" stroke-linecap="round" fill="none"/><path d="M440.9 127.4h0M431.3 125.1h0M429.7 127.8h0M443.1 126h0M426.9 128.6h0M424.8 129h0M422.7 128h0M421.5 128.3h0M432.9 134.5h0M423.3 133.7h0M414.9 141.9h0M417.7 142h0M416.6 134.2h0M429.8 130.6h0M417.6 137.3h0M414.7 144.2h0" stroke="#b094f0" stroke-width="1.9" stroke-linecap="round" fill="none"/><path d="M428.7 127.8h0M418.9 138.6h0M427.6 136.3h0M432.6 122.4h0M435 121.4h0M429.6 136h0M438.2 128.6h0M419.4 141.3h0M419.4 128.2h0M436 126.6h0M431.1 128.3h0M421.4 138.6h0M426.6 126.2h0" stroke="#d3d3d3" stroke-width="1.9" stroke-linecap="round" fill="none"/><path d="M428.5 129.9h0M442.9 127.2h0M418 135.2h0M419.4 134.4h0M425.3 125.7h0M434.5 131.5h0M432.6 131.7h0M423.2 127.2h0M416.8 138.6h0M431.2 131.1h0M442.6 128.9h0M429.1 127.2h0M441.3 126.1h0M428.3 131.6h0M418.2 140h0M441.1 123.1h0M434.6 122.7h0M420.3 133.7h0" stroke="#cec4ea" stroke-width="1.9" stroke-linecap="round" fill="none"/><path d="M429.5 131.4h0M425.7 128.2h0M415 139h0M423.7 128.4h0M419.6 143.7h0M427.1 135.8h0M416.8 142.1h0M427.3 125.9h0M434.1 127.5h0M419.4 144.2h0" stroke="#b094f0" stroke-width="1.9" stroke-linecap="round" fill="none"/><path d="M426.8 126.2h0M428.9 134.4h0M430.5 121.6h0M435.6 127.4h0M416.1 137.9h0M434.3 130.3h0M419.6 137.4h0M423.8 125.3h0M420.3 130.7h0M439.1 123.5h0M424.7 136.3h0M428.6 126h0M437.2 127.3h0M420.9 136.3h0M440.2 125.5h0M429.9 124.7h0M424.4 137.8h0" stroke="#d3d3d3" stroke-width="1.9" stroke-linecap="round" fill="none"/><path d="M414.5 144.7h0" stroke="#9270f2" stroke-width="1.9" stroke-linecap="round" fill="none"/><path d="M424.2 134.5h0M433.6 121.4h0M439.9 122.6h0M419.3 130.3h0M415.7 140.5h0M430.2 123.7h0M425.5 126.8h0M436.4 129.5h0M437.7 128.4h0M431 124.8h0M423.4 130.7h0M433.7 132.3h0M419.3 136.3h0M429.1 123.6h0M424.9 130.1h0M420.6 139.8h0M432.5 133.6h0M416 141.5h0M437.4 127h0" stroke="#cec4ea" stroke-width="1.9" stroke-linecap="round" fill="none"/><path d="M433 122.9h0M422.5 140.6h0M441.3 126.5h0M444.7 125.7h0M423.4 139.1h0M417.3 141.8h0M435.3 126h0M419.4 132.9h0M439 122.6h0M420.8 137.6h0M416.6 132.8h0M421.1 140.4h0M424.1 126.9h0M415.2 142.9h0M420.5 129.1h0M417.3 145.3h0M418.2 144.9h0M435 132.5h0M436.5 121.7h0M440 124.1h0" stroke="#c1acee" stroke-width="1.9" stroke-linecap="round" fill="none"/><path d="M437.6 127.2h0M438.8 128.6h0M432.2 130.4h0M440.6 126h0M436.2 125.4h0M434.4 128.8h0" stroke="#8468ee" stroke-width="1.8" stroke-linecap="round" fill="none"/><path d="M412.4 134.8h0M411.6 142.2h0M448.4 124.4h0" stroke="#d3d3d3" stroke-width="1.7" stroke-linecap="round" fill="none"/><path d="M409.6 129.8h0" stroke="#c1acee" stroke-width="1.7" stroke-linecap="round" fill="none"/><path d="M409.4 140.6h0M416.4 128.6h0" stroke="#cec4ea" stroke-width="1.7" stroke-linecap="round" fill="none"/><path d="M411.2 132.4h0M408.6 134.2h0" stroke="#d3d3d3" stroke-width="1.7" stroke-linecap="round" fill="none"/><path d="M447.2 125.8h0" stroke="#b094f0" stroke-width="1.7" stroke-linecap="round" fill="none"/><path d="M410.4 137.2h0M413.4 139.6h0M414.8 131.2h0" stroke="#d3d3d3" stroke-width="1.7" stroke-linecap="round" fill="none"/><defs><linearGradient id="cb" x1="0" y1="0" x2="0" y2="1"><stop offset="0" stop-color="#2f12f0"/><stop offset="0.5" stop-color="#9b80e6"/><stop offset="1" stop-color="#d3d0dc"/></linearGradient></defs><rect x="477.6" y="10.6" width="7.7" height="37" fill="url(#cb)"/><text x="488.5" y="15.9" font-size="6.0" fill="#222">2.0</text><text x="488.5" y="24.58" font-size="6.0" fill="#222">1.5</text><text x="488.5" y="33.26" font-size="6.0" fill="#222">1.0</text><text x="488.5" y="41.94" font-size="6.0" fill="#222">0.5</text><text x="488.5" y="50.62" font-size="6.0" fill="#222">0.0</text></g>
<g id="panel-b"><text x="510.8" y="15.5" font-size="20" font-weight="bold">b</text><path d="M574.1 56.7V55.97M568.6 55.97h11" stroke="#222" stroke-width="0.9" fill="none"/><rect x="563.2" y="56.7" width="21.8" height="68.08" fill="#88c4ea" stroke="#2a2a2a" stroke-width="0.8"/><rect x="563.2" y="124.78" width="21.8" height="5.12" fill="#f08352" stroke="#2a2a2a" stroke-width="0.8"/><path d="M574.1 124.78V124.41M568.6 124.41h11" stroke="#222" stroke-width="0.9" fill="none"/><path d="M616.65 56.7V47.18M611.15 47.18h11" stroke="#222" stroke-width="0.9" fill="none"/><rect x="605.7" y="56.7" width="21.9" height="40.99" fill="#88c4ea" stroke="#2a2a2a" stroke-width="0.8"/><rect x="605.7" y="97.69" width="21.9" height="32.21" fill="#f08352" stroke="#2a2a2a" stroke-width="0.8"/><path d="M616.65 97.69V88.18M611.15 88.18h11" stroke="#222" stroke-width="0.9" fill="none"/><path d="M659.25 56.7V44.99M653.75 44.99h11" stroke="#222" stroke-width="0.9" fill="none"/><rect x="648.5" y="56.7" width="21.5" height="30.74" fill="#88c4ea" stroke="#2a2a2a" stroke-width="0.8"/><rect x="648.5" y="87.44" width="21.5" height="42.46" fill="#f08352" stroke="#2a2a2a" stroke-width="0.8"/><path d="M659.25 87.44V76.1M653.75 76.1h11" stroke="#222" stroke-width="0.9" fill="none"/><path d="M554 20.1V129.9H681" fill="none" stroke="#333" stroke-width="0.95"/><text x="549.4" y="132.8" font-size="8.4" text-anchor="end" fill="#222">0.0</text><text x="549.4" y="96.2" font-size="8.4" text-anchor="end" fill="#222">0.5</text><text x="549.4" y="59.6" font-size="8.4" text-anchor="end" fill="#222">1.0</text><text x="549.4" y="23" font-size="8.4" text-anchor="end" fill="#222">1.5</text><path d="M554 129.9h-3.2M554 93.3h-3.2M554 56.7h-3.2M554 20.1h-3.2M574.1 129.9v3.2M616.65 129.9v3.2M659.25 129.9v3.2" stroke="#333" stroke-width="0.9" fill="none"/><text x="534.2" y="73.5" font-size="11" text-anchor="middle" fill="#222" transform="rotate(-90 534.2 73.5)">ITGA6 ratio</text><text x="578.7" y="141.2" font-size="11.2" text-anchor="end" fill="#222" transform="rotate(-45 578.7 141.2)">pTM</text><text x="621.25" y="141.2" font-size="11.2" text-anchor="end" fill="#222" transform="rotate(-45 621.25 141.2)">iPSC-TM CM</text><text x="663.85" y="141.2" font-size="11.2" text-anchor="end" fill="#222" transform="rotate(-45 663.85 141.2)">iPSC-TM-RC</text><rect x="629.5" y="20.4" width="6.6" height="6.6" fill="#88c4ea" stroke="#222" stroke-width="0.8"/><rect x="629.5" y="29.2" width="6.6" height="6.6" fill="#f08352" stroke="#222" stroke-width="0.8"/><text x="639.8" y="27.2" font-size="8.4" fill="#111">ITGA6<tspan dy="-3.02" font-size="5.21">-</tspan></text><text x="639.8" y="35.9" font-size="8.4" fill="#111">ITGA6<tspan dy="-3.02" font-size="5.21">+</tspan></text></g>
<g id="panel-c"><text x="5.4" y="213.4" font-size="19.6" font-weight="bold">c</text><text x="28.4" y="219.2" font-size="10.7" font-weight="bold" fill="#111">Human iPSCs</text><text x="123.2" y="218.8" font-size="10.7" font-weight="bold" fill="#111">Differentiated iPSCs</text><path d="M48.41 228.28l1.7 0.5M42.56 230.23l-1.3 1.2M44.12 223.59l-0.4 -1.6" stroke="#223" stroke-width="0.9" stroke-linecap="round"/><circle cx="44.9" cy="227.3" r="3.9" fill="#4f60d4" stroke="#3443b0" stroke-width="0.55"/><circle cx="44.9" cy="227.3" r="2.03" fill="#95a6ec" stroke="#3443b0" stroke-width="0.3"/><path d="M62.01 232.88l1.7 0.5M56.16 234.83l-1.3 1.2M57.72 228.19l-0.4 -1.6" stroke="#223" stroke-width="0.9" stroke-linecap="round"/><circle cx="58.5" cy="231.9" r="3.9" fill="#4f60d4" stroke="#3443b0" stroke-width="0.55"/><circle cx="58.5" cy="231.9" r="2.03" fill="#95a6ec" stroke="#3443b0" stroke-width="0.3"/><path d="M49.31 240.28l1.7 0.5M43.46 242.23l-1.3 1.2M45.02 235.59l-0.4 -1.6" stroke="#223" stroke-width="0.9" stroke-linecap="round"/><circle cx="45.8" cy="239.3" r="3.9" fill="#4f60d4" stroke="#3443b0" stroke-width="0.55"/><circle cx="45.8" cy="239.3" r="2.03" fill="#95a6ec" stroke="#3443b0" stroke-width="0.3"/><path d="M154.31 227.07l1.7 0.5M148.46 229.03l-1.3 1.2M150.02 222.39l-0.4 -1.6" stroke="#223" stroke-width="0.9" stroke-linecap="round"/><circle cx="150.8" cy="226.1" r="3.9" fill="#4f60d4" stroke="#3443b0" stroke-width="0.55"/><circle cx="150.8" cy="226.1" r="2.03" fill="#95a6ec" stroke="#3443b0" stroke-width="0.3"/><path d="M167.91 232.17l1.7 0.5M162.06 234.12l-1.3 1.2M163.62 227.49l-0.4 -1.6" stroke="#223" stroke-width="0.9" stroke-linecap="round"/><circle cx="164.4" cy="231.2" r="3.9" fill="#55d4d2" stroke="#2fb0b0" stroke-width="0.55"/><circle cx="164.4" cy="231.2" r="2.03" fill="#aeeef0" stroke="#2fb0b0" stroke-width="0.3"/><path d="M155.11 239.57l1.7 0.5M149.26 241.53l-1.3 1.2M150.82 234.89l-0.4 -1.6" stroke="#223" stroke-width="0.9" stroke-linecap="round"/><circle cx="151.6" cy="238.6" r="3.9" fill="#f2958c" stroke="#e07a6a" stroke-width="0.55"/><circle cx="151.6" cy="238.6" r="2.03" fill="#fbcabf" stroke="#e07a6a" stroke-width="0.3"/><path d="M51.5 263.3H283" stroke="#5f5f5f" stroke-width="1.9" fill="none"/><path d="M281.8 257.6L287.6 263.3L281.8 269z" fill="#5f5f5f"/><line x1="51.5" y1="248.2" x2="51.5" y2="277.6" stroke="#111" stroke-width="0.9"/><line x1="157.4" y1="248.4" x2="157.4" y2="277.8" stroke="#111" stroke-width="0.9"/><path d="M73 273.5C85 270 97 274.5 105 273C112 271.5 118 270.5 121 271C114 274 108 275.5 103 277C112 276 124 274.5 134 274.2C126 277.5 118 279.5 111 280.5C118 281.5 127 280.5 133 280C125 283.5 116 284.6 109 285.2C102 286 97 284.4 92 282.8C88 281.6 80 281.8 72 278.5C80 278.8 87 278.4 92 277.4C86 276 79 275.6 73 273.5z" fill="#e6c48f" fill-opacity="0.92"/><path d="M76 272.4C90 269.5 105 271.5 121 270.3M73 279.5C90 283 112 281.5 133 279.2M88 283.5C98 286.5 112 285.5 122 284" stroke="#d9b57a" stroke-width="0.7" fill="none" stroke-opacity="0.8"/><rect x="96.1" y="273.25" width="3.8" height="1.3" rx="0.6" fill="#4a6fd8"/><rect x="89.9" y="278.95" width="3.8" height="1.3" rx="0.6" fill="#4a6fd8"/><rect x="109.4" y="277.45" width="3.8" height="1.3" rx="0.6" fill="#4a6fd8"/><rect x="106.7" y="282.55" width="3.8" height="1.3" rx="0.6" fill="#4a6fd8"/><text x="104.7" y="296.2" font-size="10.6" text-anchor="middle" font-weight="bold" fill="#111">3-4 weeks</text><text x="104.7" y="306.95" font-size="10.6" text-anchor="middle" font-weight="bold" fill="#111">differentiation</text><text x="104.7" y="317.7" font-size="10.6" text-anchor="middle" font-weight="bold" fill="#111">(CM or RC)</text><text x="191.2" y="271.5" font-size="7" font-weight="bold" fill="#111">Attached</text><text x="228" y="271.5" font-size="7" font-weight="bold" fill="#111">Non-attached</text><path d="M225.1 264.5V313" stroke="#777" stroke-width="0.7" stroke-dasharray="0.8 1" fill="none"/><rect x="160.1" y="275.5" width="49.2" height="33.8" fill="#fff" stroke="#f2a4ad" stroke-width="0.8"/><path d="M179.12 285.05l1.7 0.5M173.42 286.95l-1.3 1.2M174.94 280.49l-0.4 -1.6" stroke="#223" stroke-width="0.9" stroke-linecap="round"/><circle cx="175.7" cy="284.1" r="3.8" fill="#4f60d4" stroke="#3443b0" stroke-width="0.55"/><circle cx="175.7" cy="284.1" r="1.98" fill="#95a6ec" stroke="#3443b0" stroke-width="0.3"/><path d="M180.02 297.85l1.7 0.5M174.32 299.75l-1.3 1.2M175.84 293.29l-0.4 -1.6" stroke="#223" stroke-width="0.9" stroke-linecap="round"/><circle cx="176.6" cy="296.9" r="3.8" fill="#f2958c" stroke="#e07a6a" stroke-width="0.55"/><circle cx="176.6" cy="296.9" r="1.98" fill="#fbcabf" stroke="#e07a6a" stroke-width="0.3"/><path d="M188.6 293.6L190.8 296.2L192.8 300.6M192.9 293.8L190.8 296.2" stroke="#333" stroke-width="0.6" fill="none"/><path d="M192.72 290.35l1.7 0.5M187.02 292.25l-1.3 1.2M188.54 285.79l-0.4 -1.6" stroke="#223" stroke-width="0.9" stroke-linecap="round"/><circle cx="189.3" cy="289.4" r="3.8" fill="#55d4d2" stroke="#2fb0b0" stroke-width="0.55"/><circle cx="189.3" cy="289.4" r="1.98" fill="#aeeef0" stroke="#2fb0b0" stroke-width="0.3"/><circle cx="192.8" cy="301.2" r="1.1" fill="#7a2fb0"/><text x="185" y="283.4" font-size="6.4" font-weight="bold" fill="#48dcc6">ITGA6<tspan dy="-2" font-size="3.8">+</tspan></text><text x="163.4" y="308" font-size="5.9" font-weight="bold" fill="#111">ITGA6<tspan dy="-2" font-size="3.6">-</tspan></text><rect x="211.5" y="275.8" width="7.6" height="1.5" fill="#4a4a4a"/><rect x="213.7" y="277.2" width="3.2" height="12.2" fill="#6a6a6a"/><path d="M211.8 290.6h7v17.8l-3.5 3.2l-3.5 -3.2z" fill="#dff3f6" stroke="#a6cfd8" stroke-width="0.5"/><rect x="211.3" y="290" width="8" height="1" fill="#8fb9c4"/><path d="M213 294.5h4.6M213 297h4.6M213 299.5h4.6M213 302h4.6M213 304.5h4.6M213 307h4.6" stroke="#8fd0d8" stroke-width="0.45"/><rect x="231.6" y="277.2" width="7.6" height="1.5" fill="#4a4a4a"/><rect x="233.8" y="278.6" width="3.2" height="12.2" fill="#6a6a6a"/><path d="M232.4 292h6v12.4l-3 3.2l-3 -3.2z" fill="#eef1f4" stroke="#a6cfd8" stroke-width="0.5"/><rect x="231.9" y="291.4" width="7" height="1" fill="#8fb9c4"/><path d="M232.6 300.6h5.6v3.4l-2.8 3l-2.8 -3z" fill="#5c5f9e"/><circle cx="234.6" cy="302.4" r="0.8" fill="#ee9a70"/><circle cx="236.3" cy="303.4" r="0.7" fill="#ee9a70"/><rect x="234.7" y="293.6" width="1.4" height="1.1" fill="#555"/><text x="226.2" y="324.6" font-size="10.6" text-anchor="middle" font-weight="bold" fill="#111">ITGA6<tspan dy="-3.6" font-size="6.4">+/-</tspan><tspan dy="3.6"> cluster</tspan></text><text x="226.2" y="333.2" font-size="10.6" text-anchor="middle" font-weight="bold" fill="#111">purification</text><rect x="296.4" y="233.2" width="103.4" height="19.6" fill="#fff" stroke="#333" stroke-width="0.8" rx="1.5" stroke-dasharray="1.2 1"/><path d="M308.51 244.28l1.7 0.5M302.66 246.23l-1.3 1.2M304.22 239.59l-0.4 -1.6" stroke="#223" stroke-width="0.9" stroke-linecap="round"/><circle cx="305" cy="243.3" r="3.9" fill="#55d4d2" stroke="#2fb0b0" stroke-width="0.55"/><circle cx="305" cy="243.3" r="2.03" fill="#aeeef0" stroke="#2fb0b0" stroke-width="0.3"/><text x="313.4" y="246.6" font-size="10.7" font-weight="bold" fill="#111">ITGA6<tspan dy="-3.4" font-size="6.2">+</tspan><tspan dy="3.4"> iPSC-TM</tspan></text><rect x="297.4" y="275.5" width="103.4" height="27" fill="#fff" stroke="#333" stroke-width="0.8" rx="1.5" stroke-dasharray="1.2 1"/><path d="M308.51 283.48l1.7 0.5M302.66 285.43l-1.3 1.2M304.22 278.8l-0.4 -1.6" stroke="#223" stroke-width="0.9" stroke-linecap="round"/><circle cx="305" cy="282.5" r="3.9" fill="#4f60d4" stroke="#3443b0" stroke-width="0.55"/><circle cx="305" cy="282.5" r="2.03" fill="#95a6ec" stroke="#3443b0" stroke-width="0.3"/><path d="M309.81 296.18l1.7 0.5M303.96 298.12l-1.3 1.2M305.52 291.5l-0.4 -1.6" stroke="#223" stroke-width="0.9" stroke-linecap="round"/><circle cx="306.3" cy="295.2" r="3.9" fill="#f2958c" stroke="#e07a6a" stroke-width="0.55"/><circle cx="306.3" cy="295.2" r="2.03" fill="#fbcabf" stroke="#e07a6a" stroke-width="0.3"/><text x="314.4" y="290.6" font-size="10.7" font-weight="bold" fill="#111">ITGA6<tspan dy="-3.4" font-size="6.2">-</tspan><tspan dy="3.4"> iPSC-TM</tspan></text></g>
<g id="panel-d"><text x="425.2" y="212.8" font-size="19.6" font-weight="bold">d</text><text x="508.5" y="210.9" font-size="13.2" text-anchor="middle" fill="#111">pre-sorting</text><text x="627.9" y="210.9" font-size="13.4" text-anchor="middle" fill="#111">post-sorting</text><text x="448.4" y="275" font-size="13.2" text-anchor="middle" fill="#111" transform="rotate(-90 448.4 275)">Count</text><text x="573.8" y="342.5" font-size="13.2" text-anchor="middle" fill="#111">FL1-H</text><path d="M461.5 312.5L461.5 258.3L462.1 258.4L462.6 257.6L463.2 261.9L463.7 261.6L464.3 257.3L464.8 254.9L465.4 249.1L465.9 247.5L466.5 244.4L467 248.1L467.6 245.6L468.1 247.2L468.7 240.8L469.2 241.4L469.8 247.2L470.3 242.7L470.9 247.1L471.4 251.8L472 253.4L472.5 259.8L473.1 263.8L473.6 261.9L474.2 267.8L474.7 272.9L475.3 278.8L475.8 283.4L476.4 282.8L476.9 286.1L477.5 289.6L478 295.3L478.6 298.7L479.1 300L479.7 300.3L480.2 301.8L480.8 303.5L481.3 304.4L481.9 306L482.4 307.3L483 307.9L483.5 308.2L484.1 308.5L484.6 308.9L485.2 309.5L485.7 309.9L486.3 310.5L486.8 310.9L487.4 311.4L487.9 311.4L488.5 311.5L489 311.6L489.6 311.7L490.1 311.7L490.7 311.9L491.2 311.9L491.8 312.1L492.3 312.2L492.9 312.4L493.4 312.5L494 312.5L494.5 312.5L495 312.6L495 312.5z" fill="#cdcbcb" stroke="#8a8888" stroke-width="0.5" stroke-linejoin="round"/><path d="M461.5 312.5L461.5 296.3L462.1 295.9L462.6 297.3L463.2 298.5L463.7 296.9L464.3 294.7L464.8 292.5L465.4 289.4L465.9 290.5L466.5 288.6L467 287.5L467.6 287.2L468.1 285.4L468.7 287.1L469.2 286.1L469.8 287.8L470.3 287.2L470.9 287.6L471.4 287L472 284.5L472.5 284.4L473.1 285.5L473.6 284.4L474.2 287.1L474.7 287.7L475.3 287.5L475.8 288.6L476.4 290L476.9 288.5L477.5 291.1L478 291.7L478.6 291.3L479.1 292.3L479.7 291.8L480.2 291.1L480.8 289.8L481.3 287.9L481.9 288.4L482.4 286.2L483 284.9L483.5 282.7L484.1 279.4L484.6 280.1L484.7 280L484.7 312.5z" fill="#7db8dc"/><path d="M461.5 258.3L462.1 258.4L462.6 257.6L463.2 261.9L463.7 261.6L464.3 257.3L464.8 254.9L465.4 249.1L465.9 247.5L466.5 244.4L467 248.1L467.6 245.6L468.1 247.2L468.7 240.8L469.2 241.4L469.8 247.2L470.3 242.7L470.9 247.1L471.4 251.8L472 253.4L472.5 259.8L473.1 263.8L473.6 261.9L474.2 267.8L474.7 272.9L475.3 278.8L475.8 283.4L476.4 282.8L476.9 286.1L477.5 289.6L478 295.3L478.6 298.7L479.1 300L479.7 300.3L480.2 301.8L480.8 303.5L481.3 304.4L481.9 306L482.4 307.3L483 307.9L483.5 308.2L484.1 308.5L484.6 308.9L485.2 309.5L485.7 309.9L486.3 310.5L486.8 310.9L487.4 311.4L487.9 311.4L488.5 311.5L489 311.6L489.6 311.7L490.1 311.7L490.7 311.9L491.2 311.9L491.8 312.1L492.3 312.2L492.9 312.4L493.4 312.5L494 312.5L494.5 312.5L495 312.6" fill="none" stroke="#8a8888" stroke-width="0.45" stroke-linejoin="round"/><path d="M484.7 312.5L484.7 280.8L485.2 279.7L485.8 280.1L486.4 279L486.9 276.5L487.5 276.6L488 277.7L488.6 277.5L489.1 275.7L489.7 274.9L490.2 276.8L490.8 274.7L491.3 274.7L491.9 275.2L492.4 275.4L493 276.1L493.5 276.2L494.1 274L494.6 276.5L495.2 276.1L495.7 278L496.3 277.3L496.8 278.2L497.4 279.1L497.9 280L498.5 279.6L499 282.2L499.6 282.9L500.1 283.2L500.7 283.2L501.2 283.8L501.8 285.3L502.3 285.5L502.9 288.5L503.4 290.6L504 291.8L504.5 292.7L505.1 293.6L505.6 294.5L506.2 296.4L506.7 298.9L507.3 301.7L507.8 303L508.4 302.9L508.9 303.7L509.5 305.1L510 306.3L510.6 307.2L511.1 307.6L511.7 307.9L512.2 308.3L512.8 308.6L513.3 309.2L513.9 309.4L514.4 309.6L515 309.7L515.5 310L516.1 310.2L516.6 310.6L517.2 310.8L517.7 311L518.2 311L518.8 311L519.3 311L519.9 311L520.4 311L521 311L521.5 311L522.1 311.1L522.6 311.1L523.2 311.1L523.7 311.1L524.3 311.2L524.8 311.2L525.4 311.2L525.9 311.2L526.5 311.2L527 311.3L527.6 311.3L528.1 311.3L528.7 311.3L529.2 311.3L529.8 311.3L530.3 311.3L530.9 311.3L531.4 311.3L532 311.3L532.5 311.3L533.1 311.3L533.6 311.3L534.2 311.3L534.7 311.3L535.3 311.3L535.8 311.3L536.4 311.3L536.9 311.3L537.5 311.3L538 311.3L538.6 311.3L539.1 311.2L539.7 311.3L540.2 311.3L540.8 311.3L541.3 311.2L541.9 311.3L542.4 311.3L543 311.2L543.5 311.2L544.1 311.3L544.6 311.2L545.2 311.3L545.7 311.2L546.3 311.3L546.8 311.2L547.4 311.2L547.9 311.2L548.5 311.2L549 311.2L549.6 311.2L550.1 311.2L550.7 311.2L551.2 311.2L551.8 311.2L552.3 311.2L552.9 311.2L553.4 311.2L554 311.2L554.5 311.2L555.1 311.2L555.6 311.2L556.2 311.2L556.7 311.2L557.3 311.2L557.5 311.2L557.5 312.5z" fill="#e9814f"/><path d="M461.5 217.5H557.5V312.5" fill="none" stroke="#777" stroke-width="0.6"/><path d="M461.5 217.5V312.5H557.5" fill="none" stroke="#1a1a1a" stroke-width="1.0"/><text x="458.7" y="313.9" font-size="4.2" text-anchor="end" fill="#333">0</text><text x="458.7" y="298.5" font-size="4.2" text-anchor="end" fill="#333">50</text><text x="458.7" y="282.3" font-size="4.2" text-anchor="end" fill="#333">100</text><text x="458.7" y="266.4" font-size="4.2" text-anchor="end" fill="#333">150</text><text x="458.7" y="250.4" font-size="4.2" text-anchor="end" fill="#333">200</text><text x="458.7" y="234.4" font-size="4.2" text-anchor="end" fill="#333">250</text><text x="465.7" y="324.1" font-size="4.2" text-anchor="middle" fill="#333">10<tspan dy="-1.6" font-size="3.15">0</tspan></text><text x="485.7" y="324.1" font-size="4.2" text-anchor="middle" fill="#333">10<tspan dy="-1.6" font-size="3.15">1</tspan></text><text x="510.4" y="324.1" font-size="4.2" text-anchor="middle" fill="#333">10<tspan dy="-1.6" font-size="3.15">2</tspan></text><text x="534.2" y="324.1" font-size="4.2" text-anchor="middle" fill="#333">10<tspan dy="-1.6" font-size="3.15">3</tspan></text><text x="555.2" y="324.1" font-size="4.2" text-anchor="middle" fill="#333">10<tspan dy="-1.6" font-size="3.15">4</tspan></text><path d="M461.5 312.5h-1.8M461.5 297.1h-1.8M461.5 280.9h-1.8M461.5 265h-1.8M461.5 249h-1.8M461.5 233h-1.8M466.3 312.5v1.8M486.3 312.5v1.8M511 312.5v1.8M534.8 312.5v1.8M555.8 312.5v1.8M472.32 312.5v0.9M475.84 312.5v0.9M480.28 312.5v0.9M483.2 312.5v0.9M493.74 312.5v0.9M498.08 312.5v0.9M503.56 312.5v0.9M507.17 312.5v0.9M518.16 312.5v0.9M522.36 312.5v0.9M527.64 312.5v0.9M531.11 312.5v0.9M541.12 312.5v0.9M544.82 312.5v0.9M549.48 312.5v0.9M552.55 312.5v0.9" stroke="#222" stroke-width="0.55" fill="none"/><path d="M484.7 217.8V312.5" stroke="#555" stroke-width="0.7" stroke-dasharray="9 2.8" stroke-dashoffset="5.5" fill="none"/><path d="M461.5 259.5H484.7M461.7 258v3M484.7 258v3" stroke="#1a1a1a" stroke-width="0.85" fill="none"/><path d="M484.7 276.5H557.5M484.7 275v3M557.3 275v3" stroke="#1a1a1a" stroke-width="0.85" fill="none"/><text x="515.4" y="258.6" font-size="7.0" fill="#222">ITGA6+</text><text x="515.4" y="269.8" font-size="7.0" fill="#222">49.3%</text><rect x="461" y="220.5" width="1.4" height="92" fill="#5fa6d0"/><path d="M579.5 311.5L579.5 276L580 276.4L580.6 274.6L581.1 273.9L581.7 275.2L582.2 276.1L582.8 275.1L583.3 270.7L583.9 271.8L584.4 268.8L585 269L585.5 269.3L586.1 266.9L586.6 269L587.2 268.3L587.7 268.5L588.3 272.5L588.8 271.9L589.4 274.5L589.9 277.2L590.5 280.6L591 281.8L591.6 283.2L592.1 283.8L592.7 285.9L593.2 288.1L593.8 290L594.3 291.6L594.9 292.8L595.4 293.5L596 295.6L596.5 297.6L597.1 298.7L597.6 299.6L598.2 300.4L598.7 301L599.3 302.1L599.8 303.2L600.4 304.5L600.9 304.9L601.5 305L602 305.7L602.6 306.3L603.1 307.1L603.7 308.1L604.2 308.5L604.8 308.9L605.3 309.1L605.9 309.2L606.4 309.5L607 309.8L607.5 310.2L608.1 310.6L608.6 311L609.2 311.2L609.7 311.4L610 311.4L610 311.5z" fill="#cdcbcb" stroke="#8a8888" stroke-width="0.5" stroke-linejoin="round"/><path d="M585 311.5L585 311.5L585.5 311.5L586.1 311.4L586.6 311.4L587.2 311.3L587.7 311.2L588.3 311.1L588.8 311.1L589.4 311L589.9 311L590.5 310.9L591 310.8L591.6 310.5L592.1 310.2L592.7 309.8L593.2 309.5L593.8 309.3L594.3 309.2L594.9 309L595.4 308.9L596 308.4L596.5 307.8L597.1 307.2L597.6 306.4L598.2 306.2L598.7 305.8L599.3 305.2L599.8 303.8L600.4 302L600.9 301.1L601.5 300.3L601.7 300L601.7 311.5z" fill="#7db8dc"/><path d="M579.5 276L580 276.4L580.6 274.6L581.1 273.9L581.7 275.2L582.2 276.1L582.8 275.1L583.3 270.7L583.9 271.8L584.4 268.8L585 269L585.5 269.3L586.1 266.9L586.6 269L587.2 268.3L587.7 268.5L588.3 272.5L588.8 271.9L589.4 274.5L589.9 277.2L590.5 280.6L591 281.8L591.6 283.2L592.1 283.8L592.7 285.9L593.2 288.1L593.8 290L594.3 291.6L594.9 292.8L595.4 293.5L596 295.6L596.5 297.6L597.1 298.7L597.6 299.6L598.2 300.4L598.7 301L599.3 302.1L599.8 303.2L600.4 304.5L600.9 304.9L601.5 305L602 305.7L602.6 306.3L603.1 307.1L603.7 308.1L604.2 308.5L604.8 308.9L605.3 309.1L605.9 309.2L606.4 309.5L607 309.8L607.5 310.2L608.1 310.6L608.6 311L609.2 311.2L609.7 311.4L610 311.4" fill="none" stroke="#8a8888" stroke-width="0.45" stroke-linejoin="round"/><path d="M601.7 311.5L601.7 298L602.2 295.3L602.8 290.2L603.3 286.9L603.9 285.2L604.4 282.2L605 276.2L605.5 274.4L606.1 272.7L606.6 270L607.2 267L607.7 261.2L608.3 257.7L608.8 256L609.4 254.1L609.9 252.9L610.5 250.8L611 247.4L611.6 243L612.1 242L612.7 244.3L613.2 239.5L613.8 237.2L614.3 238.4L614.9 238L615.4 239.4L616 237.2L616.5 237L617.1 236.7L617.6 240.4L618.2 236.4L618.7 239.3L619.3 240.4L619.8 240.9L620.4 245.4L620.9 248.7L621.5 249.2L622 253.8L622.6 256.4L623.1 262L623.7 263.9L624.2 265L624.8 269.8L625.3 273.7L625.9 279.4L626.4 282.5L627 283.4L627.5 284.5L628.1 288.3L628.6 292.3L629.2 295.9L629.7 297.6L630.3 297.8L630.8 299.8L631.4 301.2L631.9 303.7L632.5 305.1L633 305.6L633.6 305.8L634.1 306.7L634.7 307.6L635.2 308.4L635.8 309L636.3 309L636.9 309.2L637.4 309.4L638 309.6L638.5 309.9L639.1 310L639.6 310.2L640.2 310.2L640.7 310.2L641.3 310.2L641.8 310.3L642.4 310.3L642.9 310.3L643.5 310.3L644 310.3L644.6 310.3L645.1 310.4L645.7 310.4L646.2 310.5L646.8 310.5L647.3 310.5L647.9 310.5L648.4 310.6L649 310.6L649.5 310.6L650.1 310.6L650.6 310.6L651.2 310.6L651.7 310.6L652.3 310.6L652.8 310.6L653.4 310.6L653.9 310.6L654.5 310.6L655 310.6L655.6 310.6L656.1 310.6L656.7 310.6L657.2 310.6L657.8 310.6L658.3 310.6L658.9 310.6L659.4 310.6L660 310.6L660.5 310.6L661.1 310.6L661.6 310.6L662.2 310.6L662.7 310.6L663.3 310.6L663.8 310.6L664.4 310.6L664.9 310.6L665.5 310.6L666 310.6L666.6 310.6L667.1 310.6L667.7 310.6L668.2 310.6L668.8 310.6L669.3 310.6L669.9 310.6L670.4 310.6L671 310.6L671.5 310.6L672.1 310.6L672.6 310.6L673.2 310.6L673.5 310.6L673.5 311.5z" fill="#e9814f"/><path d="M579.5 217.5H673.5V311.5" fill="none" stroke="#777" stroke-width="0.6"/><path d="M579.5 217.5V311.5H673.5" fill="none" stroke="#1a1a1a" stroke-width="1.0"/><text x="576.7" y="312.1" font-size="4.2" text-anchor="end" fill="#333">0</text><text x="576.7" y="293.3" font-size="4.2" text-anchor="end" fill="#333">100</text><text x="576.7" y="273.1" font-size="4.2" text-anchor="end" fill="#333">200</text><text x="576.7" y="252" font-size="4.2" text-anchor="end" fill="#333">300</text><text x="576.7" y="232" font-size="4.2" text-anchor="end" fill="#333">400</text><text x="584.7" y="323.1" font-size="4.2" text-anchor="middle" fill="#333">10<tspan dy="-1.6" font-size="3.15">0</tspan></text><text x="604" y="323.1" font-size="4.2" text-anchor="middle" fill="#333">10<tspan dy="-1.6" font-size="3.15">1</tspan></text><text x="627.8" y="323.1" font-size="4.2" text-anchor="middle" fill="#333">10<tspan dy="-1.6" font-size="3.15">2</tspan></text><text x="651" y="323.1" font-size="4.2" text-anchor="middle" fill="#333">10<tspan dy="-1.6" font-size="3.15">3</tspan></text><text x="670.3" y="323.1" font-size="4.2" text-anchor="middle" fill="#333">10<tspan dy="-1.6" font-size="3.15">4</tspan></text><path d="M579.5 310.7h-1.8M579.5 291.9h-1.8M579.5 271.7h-1.8M579.5 250.6h-1.8M579.5 230.6h-1.8M585.3 311.5v1.8M604.6 311.5v1.8M628.4 311.5v1.8M651.6 311.5v1.8M670.9 311.5v1.8M591.11 311.5v0.9M594.51 311.5v0.9M598.79 311.5v0.9M601.61 311.5v0.9M611.76 311.5v0.9M615.96 311.5v0.9M621.24 311.5v0.9M624.71 311.5v0.9M635.38 311.5v0.9M639.47 311.5v0.9M644.62 311.5v0.9M648.01 311.5v0.9M657.41 311.5v0.9M660.81 311.5v0.9M665.09 311.5v0.9M667.91 311.5v0.9" stroke="#222" stroke-width="0.55" fill="none"/><path d="M601.7 217.8V311.5" stroke="#555" stroke-width="0.7" stroke-dasharray="9 2.8" stroke-dashoffset="5.5" fill="none"/><path d="M579.5 259.5H601.7M579.7 258v3M601.7 258v3" stroke="#1a1a1a" stroke-width="0.85" fill="none"/><path d="M601.7 276.5H673.5M601.7 275v3M673.3 275v3" stroke="#1a1a1a" stroke-width="0.85" fill="none"/><text x="636.2" y="256.6" font-size="7.0" fill="#222">ITGA6+</text><text x="636.2" y="267.8" font-size="7.0" fill="#222">97.9%</text></g>
<g id="panel-e"><text x="4.4" y="367.6" font-size="19.8" font-weight="bold">e</text><text x="29.8" y="432.9" font-size="8.4" text-anchor="middle" fill="#111" transform="rotate(-90 29.8 432.9)">mRNA level</text><text x="38.9" y="432.9" font-size="8.4" text-anchor="middle" fill="#111" transform="rotate(-90 38.9 432.9)">relative to GAPDH</text><rect x="72" y="448.93" width="17.6" height="35.47" fill="#fff" stroke="#111" stroke-width="1.15"/><path d="M80.8 445.45V452.1M76.8 445.45h8M76.8 452.1h8" stroke="#111" stroke-width="0.8" fill="none"/><path d="M78 448.1l-2 -3.3h4z" fill="#55a6de"/><path d="M83.4 448.1l-2 -3.3h4z" fill="#55a6de"/><path d="M80.8 453.48l-2 -3.3h4z" fill="#55a6de"/><rect x="99.1" y="421.07" width="17.5" height="63.33" fill="#fff" stroke="#111" stroke-width="1.15"/><path d="M107.85 416.63V425.18M103.85 416.63h8M103.85 425.18h8" stroke="#111" stroke-width="0.8" fill="none"/><circle cx="107.85" cy="416.63" r="1.5" fill="#f0804a"/><circle cx="105.45" cy="423.28" r="1.5" fill="#f0804a"/><circle cx="110.25" cy="422.97" r="1.5" fill="#f0804a"/><path d="M62.3 389.4V484.4H126.1" fill="none" stroke="#111" stroke-width="0.9"/><text x="58.5" y="392.5" font-size="8.6" text-anchor="end" fill="#111">1.5</text><text x="58.5" y="424.4" font-size="8.6" text-anchor="end" fill="#111">1.0</text><text x="58.5" y="456" font-size="8.6" text-anchor="end" fill="#111">0.5</text><text x="58.5" y="487.5" font-size="8.6" text-anchor="end" fill="#111">0.0</text><path d="M62.3 389.4h-2.6M62.3 421.3h-2.6M62.3 452.9h-2.6M62.3 484.4h-2.6M80.8 484.4v2.6M107.85 484.4v2.6" stroke="#111" stroke-width="0.9" fill="none"/><text x="93.9" y="380.2" font-size="8.2" text-anchor="middle" font-weight="bold">STC1</text><text x="94.8" y="393.8" font-size="9.2" text-anchor="middle" font-weight="bold"><tspan font-style="italic">P</tspan> = 0.0006</text><text x="94" y="407.8" font-size="11.5" text-anchor="middle" font-weight="bold">***</text><line x1="80.3" y1="407.5" x2="107.6" y2="407.5" stroke="#111" stroke-width="1.0"/><text x="83.2" y="492" font-size="9.7" text-anchor="end" fill="#111" transform="rotate(-45 83.2 492)">ITGA6<tspan dy="-3.2" font-size="6">-</tspan></text><text x="110.25" y="492" font-size="9.7" text-anchor="end" fill="#111" transform="rotate(-45 110.25 492)">ITGA6<tspan dy="-3.2" font-size="6">+</tspan></text><rect x="167.1" y="476.77" width="17.5" height="7.33" fill="#fff" stroke="#111" stroke-width="1.15"/><path d="M175.85 475.81V477.73M171.85 475.81h8M171.85 477.73h8" stroke="#111" stroke-width="0.8" fill="none"/><path d="M170.85 478.15l-2 -3.3h4z" fill="#55a6de"/><path d="M175.85 477.83l-2 -3.3h4z" fill="#55a6de"/><path d="M180.85 478.47l-2 -3.3h4z" fill="#55a6de"/><rect x="194.5" y="420.37" width="17.5" height="63.73" fill="#fff" stroke="#111" stroke-width="1.15"/><path d="M203.25 407.62V433.11M199.25 407.62h8M199.25 433.11h8" stroke="#111" stroke-width="0.8" fill="none"/><circle cx="203.25" cy="409.53" r="1.5" fill="#f0804a"/><circle cx="203.25" cy="420.37" r="1.5" fill="#f0804a"/><circle cx="203.25" cy="433.75" r="1.5" fill="#f0804a"/><path d="M157.7 388.5V484.1H222" fill="none" stroke="#111" stroke-width="0.9"/><text x="153.9" y="391.6" font-size="8.6" text-anchor="end" fill="#111">1.5</text><text x="153.9" y="423.3" font-size="8.6" text-anchor="end" fill="#111">1.0</text><text x="153.9" y="455.3" font-size="8.6" text-anchor="end" fill="#111">0.5</text><text x="153.9" y="487.2" font-size="8.6" text-anchor="end" fill="#111">0.0</text><path d="M157.7 388.5h-2.6M157.7 420.2h-2.6M157.7 452.2h-2.6M157.7 484.1h-2.6M175.85 484.1v2.6M203.25 484.1v2.6" stroke="#111" stroke-width="0.9" fill="none"/><text x="189.9" y="378.7" font-size="8.2" text-anchor="middle" font-weight="bold">NEAT1</text><text x="190.5" y="388.1" font-size="9.2" text-anchor="middle" font-weight="bold"><tspan font-style="italic">P</tspan> = 0.01</text><text x="189.9" y="398.6" font-size="11.5" text-anchor="middle" font-weight="bold">**</text><line x1="176.1" y1="397.5" x2="203.9" y2="397.5" stroke="#111" stroke-width="1.0"/><text x="178.25" y="491.7" font-size="9.7" text-anchor="end" fill="#111" transform="rotate(-45 178.25 491.7)">ITGA6<tspan dy="-3.2" font-size="6">-</tspan></text><text x="205.65" y="491.7" font-size="9.7" text-anchor="end" fill="#111" transform="rotate(-45 205.65 491.7)">ITGA6<tspan dy="-3.2" font-size="6">+</tspan></text><rect x="259.9" y="460.33" width="17.5" height="24.07" fill="#fff" stroke="#111" stroke-width="1.15"/><path d="M268.65 458.43V462.23M264.65 458.43h8M264.65 462.23h8" stroke="#111" stroke-width="0.8" fill="none"/><path d="M265.05 460.13l-2 -3.3h4z" fill="#55a6de"/><path d="M268.65 463.3l-2 -3.3h4z" fill="#55a6de"/><path d="M272.05 462.67l-2 -3.3h4z" fill="#55a6de"/><rect x="287.1" y="421.07" width="17.5" height="63.33" fill="#fff" stroke="#111" stroke-width="1.15"/><path d="M295.85 417.9V424.23M291.85 417.9h8M291.85 424.23h8" stroke="#111" stroke-width="0.8" fill="none"/><circle cx="295.85" cy="417.27" r="1.5" fill="#f0804a"/><circle cx="293.85" cy="422.97" r="1.5" fill="#f0804a"/><circle cx="298.05" cy="422.97" r="1.5" fill="#f0804a"/><path d="M250.3 389.4V484.4H313.9" fill="none" stroke="#111" stroke-width="0.9"/><text x="246.5" y="392.5" font-size="8.6" text-anchor="end" fill="#111">1.5</text><text x="246.5" y="424.3" font-size="8.6" text-anchor="end" fill="#111">1.0</text><text x="246.5" y="455.9" font-size="8.6" text-anchor="end" fill="#111">0.5</text><text x="246.5" y="487.5" font-size="8.6" text-anchor="end" fill="#111">0.0</text><path d="M250.3 389.4h-2.6M250.3 421.2h-2.6M250.3 452.8h-2.6M250.3 484.4h-2.6M268.65 484.4v2.6M295.85 484.4v2.6" stroke="#111" stroke-width="0.9" fill="none"/><text x="282.4" y="379.4" font-size="8.2" text-anchor="middle" font-weight="bold">IER3</text><text x="284.8" y="394.8" font-size="9.2" text-anchor="middle" font-weight="bold"><tspan font-style="italic">P</tspan> = 0.00005</text><text x="282.4" y="408.6" font-size="11.5" text-anchor="middle" font-weight="bold">****</text><line x1="267.8" y1="407.5" x2="295.8" y2="407.5" stroke="#111" stroke-width="1.0"/><text x="271.05" y="492" font-size="9.7" text-anchor="end" fill="#111" transform="rotate(-45 271.05 492)">ITGA6<tspan dy="-3.2" font-size="6">-</tspan></text><text x="298.25" y="492" font-size="9.7" text-anchor="end" fill="#111" transform="rotate(-45 298.25 492)">ITGA6<tspan dy="-3.2" font-size="6">+</tspan></text></g>
<g id="panel-f"><text x="342" y="368.8" font-size="19.6" font-weight="bold">f</text><path d="M356.3 388V483.8H436.6" fill="none" stroke="#555" stroke-width="0.6"/><text x="353.7" y="391.3" font-size="5.4" text-anchor="end" fill="#222" stroke="#222" stroke-width="0.1">5</text><text x="353.7" y="409.4" font-size="5.4" text-anchor="end" fill="#222" stroke="#222" stroke-width="0.1">4</text><text x="353.7" y="427.3" font-size="5.4" text-anchor="end" fill="#222" stroke="#222" stroke-width="0.1">3</text><text x="353.7" y="445.3" font-size="5.4" text-anchor="end" fill="#222" stroke="#222" stroke-width="0.1">2</text><text x="353.7" y="463.4" font-size="5.4" text-anchor="end" fill="#222" stroke="#222" stroke-width="0.1">1</text><text x="353.7" y="481.3" font-size="5.4" text-anchor="end" fill="#222" stroke="#222" stroke-width="0.1">0</text><path d="M356.3 389.4h-1.5M356.3 407.5h-1.5M356.3 425.4h-1.5M356.3 443.4h-1.5M356.3 461.5h-1.5M356.3 479.4h-1.5M378.2 483.8v1.5M414.7 483.8v1.5" stroke="#555" stroke-width="0.5" fill="none"/><text x="396.3" y="383.8" font-size="6.8" text-anchor="middle" font-weight="bold" fill="#111">STC1</text><text x="348.2" y="436.2" font-size="5.9" text-anchor="middle" fill="#111" transform="rotate(-90 348.2 436.2)" stroke="#111" stroke-width="0.12">Expression Level</text><path d="M378.1 423.6L378.1 424.4L378.1 425.2L378.1 426.1L378.1 426.9L378.1 427.7L378.1 428.5L378.1 429.3L378.1 430.2L378.1 431L378.1 431.8L378.1 432.6L378.1 433.4L378.1 434.3L378.1 435.1L378.1 435.9L378.1 436.7L378.1 437.5L378.1 438.4L378.1 439.2L378.1 440L378 440.8L378 441.7L378 442.5L378 443.3L378 444.2L378 445L378 445.8L378 446.7L378 447.5L378 448.3L378 449.2L378 450L378 450.8L377.9 451.7L377.9 452.5L377.9 453.3L377.9 454.2L377.9 455L377.9 455.8L377.9 456.7L377.8 457.5L377.8 458.3L377.8 459.2L377.8 460L377.8 460.8L377.7 461.7L377.7 462.5L377.7 463.3L377.6 464.2L377.6 465L377.5 465.9L377.5 466.7L377.4 467.6L377.3 468.4L377.2 469.3L377.1 470.1L377 471L376.8 471.8L376.7 472.6L376.5 473.4L376.3 474.2L376 475L375.4 475.9L374.8 476.7L373.7 477.6L371.2 478.1L368.2 478.7L364.7 478.9L361.9 479.2L360.5 479.5L361.9 479.9L370 480L378.1 480.2L378.3 480.2L386.4 480L394.5 479.9L395.9 479.5L394.5 479.2L391.7 478.9L388.2 478.7L385.2 478.1L382.7 477.6L381.6 476.7L381 475.9L380.4 475L380.1 474.2L379.9 473.4L379.7 472.6L379.6 471.8L379.4 471L379.3 470.1L379.2 469.3L379.1 468.4L379 467.6L378.9 466.7L378.9 465.9L378.8 465L378.8 464.2L378.7 463.3L378.7 462.5L378.7 461.7L378.6 460.8L378.6 460L378.6 459.2L378.6 458.3L378.6 457.5L378.5 456.7L378.5 455.8L378.5 455L378.5 454.2L378.5 453.3L378.5 452.5L378.5 451.7L378.4 450.8L378.4 450L378.4 449.2L378.4 448.3L378.4 447.5L378.4 446.7L378.4 445.8L378.4 445L378.4 444.2L378.4 443.3L378.4 442.5L378.4 441.7L378.4 440.8L378.3 440L378.3 439.2L378.3 438.4L378.3 437.5L378.3 436.7L378.3 435.9L378.3 435.1L378.3 434.3L378.3 433.4L378.3 432.6L378.3 431.8L378.3 431L378.3 430.2L378.3 429.3L378.3 428.5L378.3 427.7L378.3 426.9L378.3 426.1L378.3 425.2L378.3 424.4L378.2 423.6z" fill="#6bafd6" stroke="#222" stroke-width="0.35" stroke-linejoin="round"/><path d="M414.6 392.7L414.5 393.5L414.4 394.3L414.3 395.1L414.2 396L414 396.8L413.9 397.6L413.8 398.4L413.6 399.2L413.5 400L413.4 400.8L413.3 401.6L413.2 402.4L413.1 403.2L413 404L412.8 404.9L412.6 405.9L412.4 406.9L412 407.8L411.7 408.6L411.3 409.4L410.9 410.2L410.5 411.1L410 411.9L409.5 412.7L409 413.5L408.4 414.3L407.8 415.1L407.1 415.9L406.4 416.7L405.7 417.5L405 418.3L404.3 419.1L403.6 419.9L403 420.7L402.3 421.5L401.6 422.4L401 423.2L400.5 424L400 424.8L399.6 425.6L399.4 426.4L399.1 427.2L399 428.1L398.8 428.9L398.7 429.7L398.6 430.5L398.5 431.3L398.4 432.1L398.3 432.9L398.2 433.8L398.1 434.6L398.1 435.4L398.1 436.2L398.1 437L398.1 437.8L398.2 438.6L398.2 439.4L398.3 440.2L398.5 441L398.7 441.8L398.9 442.6L399.1 443.5L399.4 444.3L399.7 445.2L400 446L400.4 446.9L400.7 447.7L401.1 448.6L401.5 449.4L401.9 450.2L402.4 451.1L402.8 451.9L403.3 452.8L403.8 453.6L404.3 454.5L404.8 455.3L405.3 456.2L405.7 457L406.1 457.8L406.5 458.7L406.9 459.5L407.2 460.3L407.6 461.2L407.9 462L408.2 462.8L408.5 463.7L408.7 464.5L409 465.3L409.2 466.1L409.4 466.9L409.5 467.8L409.6 468.6L409.5 469.4L409.4 470.2L408.9 471.1L408 472.1L407.1 473.1L406.2 474L405.2 474.9L404.1 475.9L403.4 476.8L402.9 477.7L402.9 478.6L403.1 479.1L403.5 479.6L404.2 479.8L404.9 480L424.5 480L425.2 479.8L425.9 479.6L426.3 479.1L426.5 478.6L426.5 477.7L426 476.8L425.3 475.9L424.2 474.9L423.2 474L422.3 473.1L421.4 472.1L420.5 471.1L420 470.2L419.9 469.4L419.8 468.6L419.9 467.8L420 466.9L420.2 466.1L420.4 465.3L420.7 464.5L420.9 463.7L421.2 462.8L421.5 462L421.8 461.2L422.2 460.3L422.5 459.5L422.9 458.7L423.3 457.8L423.7 457L424.1 456.2L424.6 455.3L425.1 454.5L425.6 453.6L426.1 452.8L426.6 451.9L427 451.1L427.5 450.2L427.9 449.4L428.3 448.6L428.7 447.7L429 446.9L429.4 446L429.7 445.2L430 444.3L430.3 443.5L430.5 442.6L430.7 441.8L430.9 441L431.1 440.2L431.2 439.4L431.2 438.6L431.3 437.8L431.3 437L431.3 436.2L431.3 435.4L431.3 434.6L431.2 433.8L431.1 432.9L431 432.1L430.9 431.3L430.8 430.5L430.7 429.7L430.6 428.9L430.4 428.1L430.3 427.2L430 426.4L429.8 425.6L429.4 424.8L428.9 424L428.4 423.2L427.8 422.4L427.1 421.5L426.4 420.7L425.8 419.9L425.1 419.1L424.4 418.3L423.7 417.5L423 416.7L422.3 415.9L421.6 415.1L421 414.3L420.4 413.5L419.9 412.7L419.4 411.9L418.9 411.1L418.5 410.2L418.1 409.4L417.7 408.6L417.4 407.8L417 406.9L416.8 405.9L416.6 404.9L416.4 404L416.3 403.2L416.2 402.4L416.1 401.6L416 400.8L415.9 400L415.8 399.2L415.6 398.4L415.5 397.6L415.4 396.8L415.2 396L415.1 395.1L415 394.3L414.9 393.5L414.8 392.7z" fill="#e4835b" stroke="#222" stroke-width="0.35" stroke-linejoin="round"/><path d="M455.3 388V483.8H535" fill="none" stroke="#555" stroke-width="0.6"/><text x="452.7" y="406.5" font-size="5.4" text-anchor="end" fill="#222" stroke="#222" stroke-width="0.1">6</text><text x="452.7" y="431.3" font-size="5.4" text-anchor="end" fill="#222" stroke="#222" stroke-width="0.1">4</text><text x="452.7" y="456.2" font-size="5.4" text-anchor="end" fill="#222" stroke="#222" stroke-width="0.1">2</text><text x="452.7" y="481.3" font-size="5.4" text-anchor="end" fill="#222" stroke="#222" stroke-width="0.1">0</text><path d="M455.3 404.6h-1.5M455.3 429.4h-1.5M455.3 454.3h-1.5M455.3 479.4h-1.5M477.2 483.8v1.5M513.7 483.8v1.5" stroke="#555" stroke-width="0.5" fill="none"/><text x="495" y="383.8" font-size="6.8" text-anchor="middle" font-weight="bold" fill="#111">NEAT1</text><text x="447.4" y="436.2" font-size="5.9" text-anchor="middle" fill="#111" transform="rotate(-90 447.4 436.2)" stroke="#111" stroke-width="0.12">Expression Level</text><path d="M477.1 392.9L477.1 393.7L477.1 394.5L477.1 395.4L477.1 396.2L477.1 397L477.1 397.8L477.1 398.6L477.1 399.4L477.1 400.3L477.1 401.1L477.1 401.9L477.1 402.7L477.1 403.5L477.1 404.4L477.1 405.2L477.1 406L477.1 406.8L477.1 407.6L477.1 408.5L477.1 409.3L477.1 410.1L477.1 410.9L477.1 411.7L477.1 412.5L477.1 413.4L477.1 414.2L477.1 415L477 415.8L477 416.7L477 417.5L477 418.3L477 419.2L477 420L477 420.8L477 421.7L477 422.5L477 423.3L477 424.2L477 425L476.9 425.8L476.9 426.7L476.9 427.5L476.9 428.3L476.9 429.2L476.9 430L476.9 430.8L476.9 431.7L476.9 432.5L476.8 433.3L476.8 434.2L476.8 435L476.8 435.8L476.8 436.7L476.8 437.5L476.8 438.3L476.7 439.2L476.7 440L476.7 440.9L476.6 441.8L476.6 442.6L476.5 443.5L476.4 444.4L476.4 445.2L476.3 446.1L476.2 447L476.1 447.9L476 448.7L475.9 449.6L475.7 450.4L475.6 451.3L475.5 452.1L475.3 453L475.1 453.9L475 454.7L474.8 455.6L474.6 456.4L474.4 457.3L474.2 458.1L474 459L473.8 459.8L473.6 460.7L473.3 461.5L473.1 462.3L472.9 463.2L472.6 464L472.3 464.8L472 465.6L471.6 466.4L471.2 467.2L470.8 468L470.2 468.9L469.5 469.8L468.7 470.6L467.9 471.5L466.6 472.3L465.3 473.2L464 474L462.3 475L461 476L460.5 476.8L460.6 477.6L461.5 478.3L462.7 479L464.1 479.4L465.2 479.9L489.2 479.9L490.3 479.4L491.7 479L492.9 478.3L493.8 477.6L493.9 476.8L493.4 476L492.1 475L490.4 474L489.1 473.2L487.8 472.3L486.5 471.5L485.7 470.6L484.9 469.8L484.2 468.9L483.6 468L483.2 467.2L482.8 466.4L482.4 465.6L482.1 464.8L481.8 464L481.5 463.2L481.3 462.3L481.1 461.5L480.8 460.7L480.6 459.8L480.4 459L480.2 458.1L480 457.3L479.8 456.4L479.6 455.6L479.4 454.7L479.3 453.9L479.1 453L478.9 452.1L478.8 451.3L478.7 450.4L478.5 449.6L478.4 448.7L478.3 447.9L478.2 447L478.1 446.1L478 445.2L478 444.4L477.9 443.5L477.8 442.6L477.8 441.8L477.7 440.9L477.7 440L477.7 439.2L477.6 438.3L477.6 437.5L477.6 436.7L477.6 435.8L477.6 435L477.6 434.2L477.6 433.3L477.5 432.5L477.5 431.7L477.5 430.8L477.5 430L477.5 429.2L477.5 428.3L477.5 427.5L477.5 426.7L477.5 425.8L477.4 425L477.4 424.2L477.4 423.3L477.4 422.5L477.4 421.7L477.4 420.8L477.4 420L477.4 419.2L477.4 418.3L477.4 417.5L477.4 416.7L477.4 415.8L477.3 415L477.3 414.2L477.3 413.4L477.3 412.5L477.3 411.7L477.3 410.9L477.3 410.1L477.3 409.3L477.3 408.5L477.3 407.6L477.3 406.8L477.3 406L477.3 405.2L477.3 404.4L477.3 403.5L477.3 402.7L477.3 401.9L477.3 401.1L477.3 400.3L477.3 399.4L477.3 398.6L477.3 397.8L477.3 397L477.3 396.2L477.3 395.4L477.3 394.5L477.3 393.7L477.2 392.9z" fill="#6bafd6" stroke="#222" stroke-width="0.35" stroke-linejoin="round"/><path d="M513.6 407L513.4 408L513.2 409L512.9 410L512.5 411L512.1 412L511.5 413L510.9 413.9L510.2 414.8L509.4 415.6L508.5 416.5L507.5 417.4L506.4 418.2L505.3 419.1L504.2 420L503 420.9L501.8 421.8L500.7 422.6L499.7 423.5L498.7 424.5L497.9 425.5L497.3 426.5L497 427.5L497.1 428.5L497.4 429.3L497.9 430.2L498.7 431L499.5 431.9L500.6 432.8L501.6 433.6L502.7 434.5L503.5 435.3L504.3 436.1L505.2 436.9L506 437.7L506.7 438.5L507.4 439.4L508 440.3L508.6 441.2L509.2 442.1L509.7 443L510.1 443.8L510.5 444.6L510.8 445.4L511.1 446.2L511.3 447L511.5 447.8L511.7 448.6L511.9 449.4L512 450.2L512 451L511.9 451.8L511.8 452.6L511.6 453.4L511.5 454.2L511.4 455L511.4 455.8L511.5 456.6L511.6 457.4L511.8 458.2L511.9 459L512 459.8L512.1 460.7L512.2 461.5L512.3 462.3L512.4 463.2L512.5 464L512.6 464.9L512.7 465.7L512.7 466.6L512.8 467.4L512.9 468.3L512.9 469.1L513 470L513.1 470.8L513.1 471.7L513.2 472.5L513.2 473.3L513.3 474.2L513.3 475L513.4 475.9L513.4 476.8L513.5 477.8L513.6 478.7L513.6 479.6L513.8 479.6L513.8 478.7L513.9 477.8L514 476.8L514 475.9L514.1 475L514.1 474.2L514.2 473.3L514.2 472.5L514.3 471.7L514.3 470.8L514.4 470L514.5 469.1L514.5 468.3L514.6 467.4L514.7 466.6L514.7 465.7L514.8 464.9L514.9 464L515 463.2L515.1 462.3L515.2 461.5L515.3 460.7L515.4 459.8L515.5 459L515.6 458.2L515.8 457.4L515.9 456.6L516 455.8L516 455L515.9 454.2L515.8 453.4L515.6 452.6L515.5 451.8L515.4 451L515.4 450.2L515.5 449.4L515.7 448.6L515.9 447.8L516.1 447L516.3 446.2L516.6 445.4L516.9 444.6L517.3 443.8L517.7 443L518.2 442.1L518.8 441.2L519.4 440.3L520 439.4L520.7 438.5L521.4 437.7L522.2 436.9L523.1 436.1L523.9 435.3L524.7 434.5L525.8 433.6L526.9 432.8L527.9 431.9L528.7 431L529.5 430.2L530 429.3L530.3 428.5L530.5 427.5L530.1 426.5L529.5 425.5L528.7 424.5L527.7 423.5L526.7 422.6L525.6 421.8L524.4 420.9L523.2 420L522.1 419.1L521 418.2L519.9 417.4L518.9 416.5L518 415.6L517.2 414.8L516.5 413.9L515.9 413L515.3 412L514.9 411L514.5 410L514.2 409L514 408L513.8 407z" fill="#e4835b" stroke="#222" stroke-width="0.35" stroke-linejoin="round"/><path d="M554.2 388.5V483.8H634.8" fill="none" stroke="#555" stroke-width="0.6"/><text x="551.6" y="400.3" font-size="5.4" text-anchor="end" fill="#222" stroke="#222" stroke-width="0.1">4</text><text x="551.6" y="420.4" font-size="5.4" text-anchor="end" fill="#222" stroke="#222" stroke-width="0.1">3</text><text x="551.6" y="440.7" font-size="5.4" text-anchor="end" fill="#222" stroke="#222" stroke-width="0.1">2</text><text x="551.6" y="461" font-size="5.4" text-anchor="end" fill="#222" stroke="#222" stroke-width="0.1">1</text><text x="551.6" y="481.2" font-size="5.4" text-anchor="end" fill="#222" stroke="#222" stroke-width="0.1">0</text><path d="M554.2 398.4h-1.5M554.2 418.5h-1.5M554.2 438.8h-1.5M554.2 459.1h-1.5M554.2 479.3h-1.5M575.9 483.8v1.5M612.8 483.8v1.5" stroke="#555" stroke-width="0.5" fill="none"/><text x="594.4" y="383.8" font-size="6.8" text-anchor="middle" font-weight="bold" fill="#111">IER3</text><text x="546.2" y="436.2" font-size="5.9" text-anchor="middle" fill="#111" transform="rotate(-90 546.2 436.2)" stroke="#111" stroke-width="0.12">Expression Level</text><path d="M575.9 414.2L575.8 415L575.8 415.9L575.8 416.7L575.8 417.5L575.8 418.4L575.8 419.2L575.8 420L575.8 420.8L575.8 421.7L575.7 422.5L575.7 423.3L575.7 424.2L575.7 425L575.7 425.8L575.7 426.7L575.7 427.5L575.7 428.3L575.6 429.2L575.6 430L575.6 430.8L575.6 431.7L575.6 432.5L575.6 433.3L575.5 434.2L575.5 435L575.4 435.9L575.4 436.7L575.3 437.6L575.2 438.4L575.2 439.3L575 440.1L574.9 441L574.7 441.8L574.4 442.6L574 443.4L573.7 444.2L573.3 445L572.9 445.8L572.4 446.6L572 447.4L571.4 448.2L570.9 449L570.3 449.9L569.7 450.8L569 451.7L568.4 452.6L567.7 453.5L567 454.4L566.3 455.3L565.5 456.2L564.8 457.1L564.1 458L563.4 458.8L562.8 459.6L562.2 460.4L561.6 461.2L561.1 462L560.5 462.9L560 463.8L559.6 464.7L559.3 465.6L559.3 466.8L559.9 468L560.7 469L561.8 470L562.9 471L563.9 472L565 473L565.9 474L566.7 474.8L567.3 475.7L567.7 476.5L567.6 477.2L567.3 478L567.4 478.7L567.5 479.4L584.3 479.4L584.4 478.7L584.5 478L584.2 477.2L584.1 476.5L584.5 475.7L585.1 474.8L585.9 474L586.8 473L587.9 472L588.9 471L590 470L591.1 469L591.9 468L592.5 466.8L592.5 465.6L592.2 464.7L591.8 463.8L591.3 462.9L590.7 462L590.2 461.2L589.6 460.4L589 459.6L588.4 458.8L587.7 458L587 457.1L586.3 456.2L585.5 455.3L584.8 454.4L584.1 453.5L583.4 452.6L582.8 451.7L582.1 450.8L581.5 449.9L580.9 449L580.4 448.2L579.8 447.4L579.4 446.6L578.9 445.8L578.5 445L578.1 444.2L577.8 443.4L577.4 442.6L577.1 441.8L576.9 441L576.8 440.1L576.6 439.3L576.6 438.4L576.5 437.6L576.4 436.7L576.4 435.9L576.3 435L576.3 434.2L576.2 433.3L576.2 432.5L576.2 431.7L576.2 430.8L576.2 430L576.2 429.2L576.1 428.3L576.1 427.5L576.1 426.7L576.1 425.8L576.1 425L576.1 424.2L576.1 423.3L576.1 422.5L576 421.7L576 420.8L576 420L576 419.2L576 418.4L576 417.5L576 416.7L576 415.9L576 415L575.9 414.2z" fill="#6bafd6" stroke="#222" stroke-width="0.35" stroke-linejoin="round"/><path d="M612.7 392.7L612.7 393.6L612.6 394.5L612.5 395.4L612.5 396.2L612.4 397.1L612.3 398L612.2 398.8L612.1 399.7L612 400.5L611.8 401.3L611.7 402.2L611.5 403L611.2 403.8L610.9 404.6L610.6 405.4L610.2 406.2L609.8 407L609.3 407.8L608.7 408.6L608.1 409.4L607.5 410.2L606.8 411L606.1 411.8L605.4 412.6L604.6 413.4L603.9 414.2L603.2 415L602.5 415.8L601.9 416.6L601.2 417.4L600.6 418.2L600 419L599.4 419.8L598.8 420.6L598.3 421.4L597.8 422.2L597.4 423L596.9 423.9L596.6 424.8L596.3 425.7L596.2 426.6L596.3 427.5L596.5 428.3L596.9 429.1L597.4 430L597.9 430.8L598.6 431.6L599.3 432.4L600 433.2L600.8 434L601.6 434.8L602.4 435.6L603.2 436.4L604 437.2L604.8 438L605.6 438.8L606.3 439.6L607.1 440.4L607.7 441.2L608.3 442L608.8 442.8L609.1 443.6L609.5 444.4L609.7 445.2L609.9 446L610 446.8L610.1 447.6L610.2 448.4L610.1 449.2L610.1 450L610 450.8L609.9 451.7L609.8 452.5L609.7 453.3L609.5 454.2L609.4 455L609.3 455.8L609.2 456.7L609.1 457.5L609 458.3L608.9 459.2L608.9 460L608.9 460.8L609 461.7L609.1 462.5L609.2 463.3L609.4 464.2L609.5 465L609.6 465.8L609.8 466.7L610 467.5L610.1 468.3L610.3 469.2L610.5 470L610.7 470.8L610.9 471.7L611.1 472.5L611.3 473.3L611.5 474.2L611.7 475L611.9 475.9L612.2 476.8L612.4 477.6L612.6 478.5L612.7 479.4L612.9 479.4L613 478.5L613.2 477.6L613.4 476.8L613.7 475.9L613.9 475L614.1 474.2L614.3 473.3L614.5 472.5L614.7 471.7L614.9 470.8L615.1 470L615.3 469.2L615.5 468.3L615.6 467.5L615.8 466.7L616 465.8L616.1 465L616.2 464.2L616.4 463.3L616.5 462.5L616.6 461.7L616.7 460.8L616.7 460L616.7 459.2L616.6 458.3L616.5 457.5L616.4 456.7L616.3 455.8L616.2 455L616.1 454.2L615.9 453.3L615.8 452.5L615.7 451.7L615.6 450.8L615.5 450L615.5 449.2L615.4 448.4L615.5 447.6L615.6 446.8L615.7 446L615.9 445.2L616.1 444.4L616.5 443.6L616.8 442.8L617.3 442L617.9 441.2L618.5 440.4L619.3 439.6L620 438.8L620.8 438L621.6 437.2L622.4 436.4L623.2 435.6L624 434.8L624.8 434L625.6 433.2L626.3 432.4L627 431.6L627.7 430.8L628.2 430L628.7 429.1L629.1 428.3L629.3 427.5L629.4 426.6L629.3 425.7L629 424.8L628.7 423.9L628.2 423L627.8 422.2L627.3 421.4L626.8 420.6L626.2 419.8L625.6 419L625 418.2L624.4 417.4L623.7 416.6L623.1 415.8L622.4 415L621.7 414.2L621 413.4L620.2 412.6L619.5 411.8L618.8 411L618.1 410.2L617.5 409.4L616.9 408.6L616.3 407.8L615.8 407L615.4 406.2L615 405.4L614.7 404.6L614.4 403.8L614.1 403L613.9 402.2L613.8 401.3L613.6 400.5L613.5 399.7L613.4 398.8L613.3 398L613.2 397.1L613.1 396.2L613 395.4L613 394.5L612.9 393.6L612.9 392.7z" fill="#e4835b" stroke="#222" stroke-width="0.35" stroke-linejoin="round"/><rect x="642.4" y="378.6" width="9.3" height="8.8" fill="#6bafd6" stroke="#333" stroke-width="0.5"/><rect x="642.4" y="388.6" width="9.3" height="8.8" fill="#e4835b" stroke="#333" stroke-width="0.5"/><text x="656.4" y="385.6" font-size="7.7" fill="#111">ITGA6-</text><text x="656.4" y="395.6" font-size="7.7" fill="#111">ITGA6+</text></g>
<g id="panel-g"><text x="5.6" y="534.4" font-size="19.6" font-weight="bold">g</text><text x="23.4" y="583.8" font-size="13.0" text-anchor="middle" fill="#111" transform="rotate(-90 23.4 583.8)">Count</text><text x="141.6" y="651.2" font-size="11.6" text-anchor="middle" fill="#111">FL1-H</text><path d="M37.5 626L37.5 573L38 572.1L38.5 570.9L39 574L39.5 570L40 567.4L40.5 563.4L41 564.1L41.5 563.2L42 560.2L42.5 559.8L43 556.9L43.5 559L44 557.9L44.5 552L45 551.8L45.5 549.7L46 548.1L46.5 552.8L47 557.5L47.5 554.2L48 556.5L48.5 558.6L49 561.2L49.5 560.3L50 564.1L50.5 562.8L51 566L51.5 565.7L52 565.6L52.5 567.3L53 568.2L53.5 565.7L54 564L54.5 564.5L55 566.7L55.5 568.8L56 574.1L56.5 575.5L57 576.5L57.5 578.3L58 585.5L58.5 589.6L59 591.3L59.5 592.6L60 594.5L60.5 596.9L61 599.1L61.5 601.4L62 601.8L62.5 603.2L63 604.6L63.5 605L64 605.9L64.5 607.6L65 610.4L65.5 612.8L66 615.7L66.5 616.7L67 617.7L67.5 618.6L68 619.7L68.5 621L69 621.3L69.5 621.7L70 621.7L70.5 622.4L71 622.8L71.5 623.3L72 623.5L72.5 623.9L73 623.9L73.5 624L74 624L74.5 624.1L75 624.2L75.5 624.3L76 624.5L76.5 624.5L77 624.7L77.5 624.9L78 625L78.5 625.1L79 625.2L79.5 625.2L80 625.2L80 626z" fill="#cdcbcb" stroke="#6e6c6c" stroke-width="0.55" stroke-linejoin="round"/><path d="M37.5 626L37.5 583.9L38 584.7L38.5 584.7L39 586.7L39.5 585.6L40 582.7L40.5 581.1L41 577.6L41.5 574.6L42 575.4L42.5 573.8L43 569.3L43.5 567.6L44 566.4L44.5 566.9L45 567.1L45.5 564.8L46 563.1L46.5 563.1L47 564.7L47.5 565.7L48 567.4L48.5 568L49 569.8L49.5 570.8L50 572.3L50.5 577.8L51 578.5L51.5 580.5L52 581.1L52.5 583.2L53 588.4L53.5 589.6L54 593L54.5 592.7L55 594.8L55.5 598L56 600L56.5 602.2L57 603.1L57.5 603.3L58 605.8L58.5 607.1L59 608L59.5 609.4L60 609.1L60.5 611L61 611.6L61.5 612.6L61.5 626z" fill="#7db8dc"/><path d="M37.5 573L38 572.1L38.5 570.9L39 574L39.5 570L40 567.4L40.5 563.4L41 564.1L41.5 563.2L42 560.2L42.5 559.8L43 556.9L43.5 559L44 557.9L44.5 552L45 551.8L45.5 549.7L46 548.1L46.5 552.8L47 557.5L47.5 554.2L48 556.5L48.5 558.6L49 561.2L49.5 560.3L50 564.1L50.5 562.8L51 566L51.5 565.7L52 565.6L52.5 567.3L53 568.2L53.5 565.7L54 564L54.5 564.5L55 566.7L55.5 568.8L56 574.1L56.5 575.5L57 576.5L57.5 578.3L58 585.5L58.5 589.6L59 591.3L59.5 592.6L60 594.5L60.5 596.9L61 599.1L61.5 601.4L62 601.8L62.5 603.2L63 604.6L63.5 605L64 605.9L64.5 607.6L65 610.4L65.5 612.8L66 615.7L66.5 616.7L67 617.7L67.5 618.6L68 619.7L68.5 621L69 621.3L69.5 621.7L70 621.7L70.5 622.4L71 622.8L71.5 623.3L72 623.5L72.5 623.9L73 623.9L73.5 624L74 624L74.5 624.1L75 624.2L75.5 624.3L76 624.5L76.5 624.5L77 624.7L77.5 624.9L78 625L78.5 625.1L79 625.2L79.5 625.2L80 625.2" fill="none" stroke="#77757599" stroke-width="0.5" stroke-linejoin="round"/><path d="M61.5 626L61.5 612.3L62 612.9L62.5 614.3L63 615.3L63.5 616L64 616.3L64.5 617.2L65 618.3L65.5 619.1L66 619.6L66.5 619.6L67 620.2L67.5 620.7L68 621.3L68.5 621.8L69 622L69.5 622L70 622.2L70.5 622.5L71 622.8L71.5 623.1L72 623.4L72.5 623.5L73 623.6L73.5 623.6L74 623.7L74.5 623.7L75 623.8L75.5 623.8L76 623.9L76.5 624L77 624.1L77.5 624.2L78 624.3L78.5 624.3L79 624.4L79.5 624.4L80 624.4L80.5 624.4L81 624.4L81.5 624.4L82 624.4L82.5 624.4L83 624.4L83.5 624.4L84 624.4L84.5 624.4L85 624.5L85.5 624.5L86 624.5L86.5 624.5L87 624.5L87.5 624.5L88 624.6L88.5 624.5L89 624.6L89.5 624.6L90 624.6L90.5 624.6L91 624.6L91.5 624.6L92 624.7L92.5 624.6L93 624.7L93.5 624.7L94 624.7L94.5 624.7L95 624.8L95.5 624.7L96 624.8L96.5 624.8L97 624.8L97.5 624.8L98 624.8L98.5 624.8L99 624.8L99.5 624.8L100 624.8L100.5 624.8L101 624.8L101.5 624.8L102 624.8L102.5 624.8L103 624.8L103.5 624.8L104 624.8L104.5 624.8L105 624.8L105.5 624.8L106 624.8L106.5 624.8L107 624.8L107.5 624.8L108 624.8L108.5 624.8L109 624.9L109.5 624.9L110 624.9L110.5 624.9L111 624.9L111.5 624.9L112 624.9L112.5 624.9L113 624.9L113.5 624.9L114 624.9L114.5 624.9L115 624.9L115.5 624.9L116 624.9L116.5 624.9L117 625L117.5 625L118 625L118.5 625L119 625L119.5 625L120 625L120.5 625L121 625L121.5 625L122 625L122.5 625L123 625L123.5 625L124 625L124.5 625L125 625L125.5 625L126 625L126.5 624.9L127 624.9L127.5 624.9L128 624.8L128.5 624.8L129 624.7L129.5 624.6L130 624.6L130.5 624.6L131 624.6L131.5 624.6L132 624.5L132.5 624.5L133 624.4L133.5 624.3L134 624.2L134.5 624.2L134.5 626z" fill="#e9814f"/><path d="M37.5 529.5H134.5V626" fill="none" stroke="#777" stroke-width="0.6"/><path d="M37.5 529.5V626H134.5" fill="none" stroke="#1a1a1a" stroke-width="1.0"/><text x="34.7" y="626.9" font-size="4.2" text-anchor="end" fill="#333">0</text><text x="34.7" y="605.9" font-size="4.2" text-anchor="end" fill="#333">50</text><text x="34.7" y="584.9" font-size="4.2" text-anchor="end" fill="#333">100</text><text x="34.7" y="562.9" font-size="4.2" text-anchor="end" fill="#333">150</text><text x="34.7" y="541.4" font-size="4.2" text-anchor="end" fill="#333">200</text><text x="42.3" y="637.6" font-size="4.2" text-anchor="middle" fill="#333">10<tspan dy="-1.6" font-size="3.15">0</tspan></text><text x="61.8" y="637.6" font-size="4.2" text-anchor="middle" fill="#333">10<tspan dy="-1.6" font-size="3.15">1</tspan></text><text x="87.6" y="637.6" font-size="4.2" text-anchor="middle" fill="#333">10<tspan dy="-1.6" font-size="3.15">2</tspan></text><text x="111.4" y="637.6" font-size="4.2" text-anchor="middle" fill="#333">10<tspan dy="-1.6" font-size="3.15">3</tspan></text><text x="131.8" y="637.6" font-size="4.2" text-anchor="middle" fill="#333">10<tspan dy="-1.6" font-size="3.15">4</tspan></text><path d="M37.5 625.5h-1.8M37.5 604.5h-1.8M37.5 583.5h-1.8M37.5 561.5h-1.8M37.5 540h-1.8M42.9 626v1.8M62.4 626v1.8M88.2 626v1.8M112 626v1.8M132.4 626v1.8M48.77 626v0.9M52.2 626v0.9M56.53 626v0.9M59.38 626v0.9M70.17 626v0.9M74.71 626v0.9M80.43 626v0.9M84.2 626v0.9M95.36 626v0.9M99.56 626v0.9M104.84 626v0.9M108.31 626v0.9M118.14 626v0.9M121.73 626v0.9M126.26 626v0.9M129.24 626v0.9" stroke="#222" stroke-width="0.55" fill="none"/><path d="M61.5 529.8V626" stroke="#555" stroke-width="0.7" stroke-dasharray="9 2.8" stroke-dashoffset="5.5" fill="none"/><path d="M37.5 599.5H61.5M37.7 598v3M61.5 598v3" stroke="#1a1a1a" stroke-width="0.85" fill="none"/><path d="M61.5 587.5H134.5M61.5 586v3M134.3 586v3" stroke="#1a1a1a" stroke-width="0.85" fill="none"/><text x="100.6" y="571" font-size="6.8" text-anchor="middle" fill="#222">ITGA6<tspan dy="-2.2" font-size="4.42">+</tspan></text><text x="100.6" y="580.8" font-size="6.8" text-anchor="middle" fill="#222">8.1%</text><rect x="37" y="531.5" width="1.5" height="94.5" fill="#5fa6d0"/><path d="M152.5 626L152.5 581.4L153 579.2L153.5 578.2L154 574.4L154.5 574.7L155 572.4L155.5 569.1L156 566.4L156.5 564L157 564.3L157.5 562.9L158 558.2L158.5 559.5L159 558.2L159.5 556.7L160 554.9L160.5 551.9L161 554L161.5 554.2L162 563.1L162.5 561.2L163 566.5L163.5 570.8L164 576.2L164.5 576.5L165 580.6L165.5 586.4L166 590L166.5 589.1L167 591.8L167.5 596.9L168 598.2L168.5 600.8L169 601.3L169.5 601.3L170 603.2L170.5 604.5L171 606.3L171.5 607L172 607.6L172.5 607.9L173 608.4L173.5 609.8L174 610.3L174.5 611.3L175 611.1L175.5 612.1L176 613.9L176.5 614.5L177 615.9L177.5 616.2L178 616.6L178.5 616.9L179 618.2L179.5 618.8L180 620.2L180.5 620.6L181 620.9L181.5 621.1L182 621.4L182.5 621.7L183 622.2L183.5 622.9L184 623.3L184.5 623.8L185 624.2L185.5 624.5L186 624.6L186.5 624.6L187 624.6L187.5 624.8L188 624.9L188.5 625L189 625.1L189.5 625.2L190 625.4L190.5 625.4L191 625.5L191.5 625.6L192 625.6L192 626z" fill="#cdcbcb" stroke="#6e6c6c" stroke-width="0.55" stroke-linejoin="round"/><path d="M152.5 626L152.5 623L153 622.7L153.5 622.3L154 621.7L154.5 621.2L155 620.9L155.5 620.4L156 618.9L156.5 616.9L157 614.8L157.5 613.4L158 612.7L158.5 612.2L159 609.5L159.5 606.1L160 603.1L160.5 600.3L161 599.4L161.5 599.6L162 596.6L162.5 593.8L163 591L163.5 588L164 585.9L164.5 585.6L165 585.4L165.5 582.7L166 580L166.5 576.6L167 577.1L167.5 577.4L168 574.6L168.5 573.6L169 572.2L169.5 568.8L170 566.8L170.5 567L171 565.7L171.5 566L172 562.7L172.5 561L173 560L173.5 560.7L174 561.1L174.5 556.2L175 557.8L175.5 555.5L176 556.5L176.4 556.3L176.4 626z" fill="#7db8dc"/><path d="M152.5 581.4L153 579.2L153.5 578.2L154 574.4L154.5 574.7L155 572.4L155.5 569.1L156 566.4L156.5 564L157 564.3L157.5 562.9L158 558.2L158.5 559.5L159 558.2L159.5 556.7L160 554.9L160.5 551.9L161 554L161.5 554.2L162 563.1L162.5 561.2L163 566.5L163.5 570.8L164 576.2L164.5 576.5L165 580.6L165.5 586.4L166 590L166.5 589.1L167 591.8L167.5 596.9L168 598.2L168.5 600.8L169 601.3L169.5 601.3L170 603.2L170.5 604.5L171 606.3L171.5 607L172 607.6L172.5 607.9L173 608.4L173.5 609.8L174 610.3L174.5 611.3L175 611.1L175.5 612.1L176 613.9L176.5 614.5L177 615.9L177.5 616.2L178 616.6L178.5 616.9L179 618.2L179.5 618.8L180 620.2L180.5 620.6L181 620.9L181.5 621.1L182 621.4L182.5 621.7L183 622.2L183.5 622.9L184 623.3L184.5 623.8L185 624.2L185.5 624.5L186 624.6L186.5 624.6L187 624.6L187.5 624.8L188 624.9L188.5 625L189 625.1L189.5 625.2L190 625.4L190.5 625.4L191 625.5L191.5 625.6L192 625.6" fill="none" stroke="#77757580" stroke-width="0.5" stroke-linejoin="round"/><path d="M176.4 626L176.4 555.3L176.9 559.1L177.4 564.2L177.9 566.1L178.4 567.3L178.9 570.3L179.4 575.7L179.9 577.5L180.4 579.3L180.9 581.6L181.4 586.9L181.9 589.3L182.4 591.2L182.9 593.7L183.4 595.3L183.9 599.3L184.4 602.9L184.9 605.4L185.4 605.4L185.9 607.4L186.4 610.2L186.9 612.4L187.4 613.7L187.9 614.3L188.4 615.4L188.9 617.4L189.4 618.8L189.9 619.5L190.4 619.7L190.9 620.1L191.4 621L191.9 621.9L192.4 622.6L192.9 622.9L193.4 623.1L193.9 623.2L194.4 623.4L194.9 623.8L195.4 624.1L195.9 624.4L196.4 624.7L196.9 624.9L197.4 625L197.9 625L198.4 625L198.9 625L199.4 625L199.9 625L200.4 625.1L200.9 625.1L201.4 625.1L201.9 625.2L202.4 625.2L202.9 625.2L203.4 625.3L203.9 625.3L204.4 625.3L204.9 625.4L205.4 625.4L205.9 625.4L206.4 625.5L206.9 625.5L207.4 625.5L207.9 625.5L208.4 625.6L208.9 625.6L209.4 625.6L209.9 625.6L210.4 625.6L210.9 625.6L211.4 625.6L211.9 625.6L212.4 625.6L212.9 625.6L213.4 625.6L213.9 625.6L214.4 625.6L214.9 625.6L215.4 625.6L215.9 625.6L216.4 625.6L216.9 625.6L217.4 625.6L217.9 625.6L218.4 625.6L218.9 625.6L219.4 625.6L219.9 625.6L220.4 625.6L220.9 625.6L221.4 625.6L221.9 625.6L222.4 625.6L222.9 625.6L223.4 625.6L223.9 625.6L224.4 625.6L224.9 625.6L225.4 625.6L225.9 625.6L226.4 625.6L226.9 625.6L227.4 625.6L227.9 625.6L228.4 625.6L228.9 625.6L229.4 625.6L229.9 625.6L230.4 625.6L230.9 625.6L231.4 625.6L231.9 625.6L232.4 625.6L232.9 625.6L233.4 625.6L233.9 625.6L234.4 625.6L234.9 625.6L235.4 625.6L235.9 625.6L236.4 625.6L236.9 625.6L237.4 625.6L237.9 625.6L238.4 625.6L238.9 625.6L239.4 625.6L239.9 625.6L240.4 625.6L240.9 625.6L241.4 625.6L241.9 625.6L242.4 625.6L242.9 625.6L243.4 625.6L243.9 625.6L244.4 625.6L244.9 625.6L245.4 625.6L245.9 625.6L246.4 625.6L246.9 625.6L247.4 625.6L247.9 625.6L248.4 625.6L248.9 625.6L249.4 625.6L249.5 625.6L249.5 626z" fill="#e9814f"/><path d="M152.5 529.5H249.5V626" fill="none" stroke="#777" stroke-width="0.6"/><path d="M152.5 529.5V626H249.5" fill="none" stroke="#1a1a1a" stroke-width="1.0"/><text x="149.7" y="626.9" font-size="4.2" text-anchor="end" fill="#333">0</text><text x="149.7" y="598.2" font-size="4.2" text-anchor="end" fill="#333">100</text><text x="149.7" y="568.4" font-size="4.2" text-anchor="end" fill="#333">200</text><text x="149.7" y="537.8" font-size="4.2" text-anchor="end" fill="#333">300</text><text x="157.8" y="637.6" font-size="4.2" text-anchor="middle" fill="#333">10<tspan dy="-1.6" font-size="3.15">0</tspan></text><text x="177" y="637.6" font-size="4.2" text-anchor="middle" fill="#333">10<tspan dy="-1.6" font-size="3.15">1</tspan></text><text x="202" y="637.6" font-size="4.2" text-anchor="middle" fill="#333">10<tspan dy="-1.6" font-size="3.15">2</tspan></text><text x="226" y="637.6" font-size="4.2" text-anchor="middle" fill="#333">10<tspan dy="-1.6" font-size="3.15">3</tspan></text><text x="245.6" y="637.6" font-size="4.2" text-anchor="middle" fill="#333">10<tspan dy="-1.6" font-size="3.15">4</tspan></text><path d="M152.5 625.5h-1.8M152.5 596.8h-1.8M152.5 567h-1.8M152.5 536.4h-1.8M158.4 626v1.8M177.6 626v1.8M202.6 626v1.8M226.6 626v1.8M246.2 626v1.8M164.18 626v0.9M167.56 626v0.9M171.82 626v0.9M174.63 626v0.9M185.13 626v0.9M189.53 626v0.9M195.07 626v0.9M198.73 626v0.9M209.82 626v0.9M214.05 626v0.9M219.38 626v0.9M222.88 626v0.9M232.5 626v0.9M235.95 626v0.9M240.3 626v0.9M243.16 626v0.9" stroke="#222" stroke-width="0.55" fill="none"/><path d="M176.4 529.8V626" stroke="#555" stroke-width="0.7" stroke-dasharray="9 2.8" stroke-dashoffset="5.5" fill="none"/><path d="M152.5 612.5H176.4M152.7 611v3M176.4 611v3" stroke="#1a1a1a" stroke-width="0.85" fill="none"/><path d="M176.4 584.5H249.5M176.4 583v3M249.3 583v3" stroke="#1a1a1a" stroke-width="0.85" fill="none"/><text x="214.6" y="570.4" font-size="6.8" text-anchor="middle" fill="#222">ITGA6<tspan dy="-2.2" font-size="4.42">+</tspan></text><text x="214.6" y="580.2" font-size="6.8" text-anchor="middle" fill="#222">31.7%</text></g>
<g id="panel-h"><text x="252.2" y="533.8" font-size="19.6" font-weight="bold">h</text><rect x="259.9" y="539.3" width="89.9" height="89.9" fill="#000"/><path d="M315.5 605.3h0M263.9 581.3h0M343.4 597.2h0M302.2 562.2h0M308.7 590.7h0M262.5 559.6h0M285.7 620.4h0M327.9 554.7h0M330.7 552.9h0M315.1 551.8h0M279.6 559.5h0M308.3 599.7h0M339.1 566.8h0M292.8 555.2h0M274.1 546.5h0M287.6 593.2h0M261.7 599.7h0M290.8 567.7h0M332.5 582.6h0M288.8 582.6h0M322.6 545.8h0M326.6 614.2h0M293.2 591.1h0M278.5 606.5h0M291.3 571.6h0M307 608.2h0M270.8 605.8h0M269.3 570.4h0M314.5 620.6h0M290.9 621.1h0M308.8 568h0M288.9 556.2h0M268.2 553.7h0M275.4 545h0M296.7 561.4h0M313 612.6h0M301 577.5h0M264.2 583.7h0M334.3 552.1h0M316.2 609.3h0M270.7 578.6h0M274.4 614.2h0M287 580.2h0M346.2 580.2h0M303.8 604.2h0M303 566.1h0M296.5 553.5h0M304.8 570.2h0M269.1 564.5h0M329.4 616.2h0M292.8 609.1h0M328.7 601.2h0M319.1 606.8h0M293 602h0M285.8 583h0M328.3 600.8h0M286.9 623h0M317.9 591.3h0M262.4 588.3h0M283.2 599.2h0M301.6 611.8h0M317.7 610.1h0M291.6 596.8h0M325.5 612.8h0M291.8 614h0M337 600.6h0M306.4 586.8h0M275.8 613.5h0M342.9 582.3h0M321.5 603.3h0M324.9 555.7h0M329.2 591.3h0M319.2 577.4h0M315.6 608.1h0M316.7 603.4h0M263.8 554.7h0M299.7 597.3h0M280.4 600.4h0M316.2 544.4h0M302.4 560.5h0M266.1 552.4h0M289 556.6h0M278.2 543.9h0M301.8 573.8h0M314.6 592.1h0M282.1 619.3h0M261.5 576h0M285.6 576.4h0M271.4 613h0M293.9 543.9h0M314.7 549h0M308.8 570.3h0M311.9 624.1h0M332.5 577.2h0M332 596.6h0M293.5 553.1h0M313.2 589.8h0M314.3 571.3h0M270.8 590h0M314.9 553h0M316.1 618.3h0M294.1 578.3h0M281.1 566.1h0M345.9 573.8h0M313.2 563.4h0M297.5 568.5h0M286.3 582.2h0M272 594.8h0M299.9 566.3h0M329.3 612.6h0" stroke="#2a7f0e" stroke-width="0.8" stroke-linecap="round" fill="none" stroke-opacity="0.65"/><path d="M328.9 571.3h0M291.1 550.4h0M329.3 559.4h0M272 560.1h0M336.4 588.2h0M318.2 607.8h0M314.1 610h0M321.5 561.3h0M321.9 565.5h0M319.2 604.9h0M329.5 578.6h0M328.1 599.9h0M268.3 574.3h0M293.6 613.6h0M299.4 615.1h0M308.9 611.1h0M335 576.9h0M286.1 606.9h0M284.5 602h0M307.8 605.8h0M313.4 606.6h0M280 597h0M333.1 578.4h0M283.9 609h0M325.4 556.6h0M269 587.5h0M305.8 551.8h0M306.4 607.6h0M296.2 608.3h0M334.4 584.8h0M310.9 608.9h0M331 564.7h0M311.9 611.1h0M278.8 602h0M326.4 597.7h0M333.6 581h0M308.7 610.6h0M330 584.7h0M327.8 589.2h0M298.9 617h0M333.4 573.8h0M292.7 604.2h0M309.7 551.9h0M327.5 595.3h0M312 611h0M321.2 592.2h0M310.1 554.1h0M314.5 558.8h0M332.8 570.9h0M272.6 569.3h0M272.8 585.9h0M314.7 553.3h0M321.8 602.5h0M332.5 575.9h0M320.1 604.8h0M330 561.4h0M326.1 600.4h0M324.4 563.1h0M328.5 587h0M314.5 614.6h0M277.5 601.7h0M299 612.4h0M324.3 561.8h0M322.4 610.2h0M268.1 561.5h0M333.7 591.6h0M325.3 571.2h0M321.9 562.9h0M328.9 564.4h0M329.7 566.2h0M295.7 550.5h0M280.4 561.2h0M291.1 550h0M323.4 601.4h0M332.1 593.6h0M317.7 610.1h0M330.2 572.2h0M326.6 600.3h0M325 563.5h0M331.9 578.5h0M289.9 542.8h0M323 556.3h0M288.6 607.7h0M318.8 601.5h0M327.7 600.5h0M333.2 592.1h0M280.3 557.4h0M331.4 593.2h0M274.9 571.3h0M333.5 577.6h0M302.4 613.8h0M271.9 573.8h0M309.3 611.5h0M333.4 574h0M276.8 599.4h0M326.5 584.4h0M333.1 593.7h0M323.9 601.2h0M293.6 612.3h0M329.4 591.6h0M273.9 562.3h0M337.6 589.1h0M313.4 608.6h0M334.1 587h0M318.4 603.9h0M329.1 577.4h0M330.6 579.1h0M313.3 608.4h0M335.6 600.8h0M303.8 553.2h0M292.9 607h0M331.6 586.5h0M272.3 584.4h0M317.7 602.2h0M324.2 563.5h0M307.1 615.7h0M275.8 598.6h0M328 598.8h0M326.1 599.5h0M280 603.5h0M299.8 552.1h0M275.6 595.9h0M330.4 587.1h0M294.1 552.4h0M323.8 571.3h0M301.1 609.2h0M302.6 556.5h0M333.8 575.8h0M330.2 593.9h0M329.1 587.3h0M326.7 585.7h0M301.9 613.9h0M313 611.5h0M277.1 604.4h0M278.4 596.5h0M332.5 570h0M272.3 583.2h0M331.2 583.1h0M332 589.7h0M280.4 606.9h0M334.8 591.9h0M296.4 547.4h0M334 569h0M337.1 591.7h0M327.9 567.2h0M323 557.8h0M333.7 586.6h0M324.8 597.1h0M305.6 613.9h0M261.5 589.7h0M334.1 571.6h0M330.4 581.2h0M330.7 591.8h0M334.1 586.3h0M315.8 552.8h0M329.1 582h0M335.3 594.8h0M291.4 612.4h0M268.5 585.2h0M335.2 578.3h0M324.9 565.9h0M321.9 608.1h0M279.1 604.5h0M325.1 579.6h0M268.1 581.7h0M327.9 569.3h0M329 590.9h0M321.4 559.3h0M278.9 612.1h0M329 560.7h0M311.1 609.6h0M329.6 593.9h0M314.8 608.5h0M267.3 582.1h0M332.3 595.6h0M329.5 589.5h0M318.6 601h0M289.3 615h0M328.1 600.6h0M322.1 598h0M314.2 603.2h0M329.3 597.1h0M334.2 580.6h0M324.4 564.7h0M270.9 560.7h0M329.7 572.7h0M300.2 612.9h0M299.7 614h0M321.4 561.1h0M296.7 618.7h0M311.2 610.2h0M334.6 567.2h0M320.6 603.4h0M334.6 574h0M329.7 596.4h0M310.5 609.9h0M297.2 549.1h0M333.7 564h0M323.6 594.6h0M332 595.7h0M326.9 592.3h0M274.4 597.8h0M330.9 593.1h0M331.4 588h0M328.6 586.6h0M327.6 587h0M294.7 612.6h0M321.8 559.3h0M318.5 554.9h0M317 610.6h0M293.2 611.9h0M328.2 582.2h0M279.9 569.9h0M303.7 609.1h0M332.6 595.4h0M293.9 614.5h0M331.2 571.7h0M272.5 596.9h0M282.2 606.7h0M321.7 604.7h0M337.8 576.1h0M328.5 605.2h0M323.7 561.3h0M276 592.9h0M275.6 592.7h0M332.6 569.8h0M299.9 612.1h0M320.2 560.4h0M267.9 577.2h0M300.1 607.7h0M330.1 571.1h0M327.8 562.8h0M326.8 589.3h0M327.1 598.4h0" stroke="#33950f" stroke-width="0.85" stroke-linecap="round" fill="none" stroke-opacity="0.75"/><path d="M284.7 609.6h0M267.3 591h0M331.1 592.6h0M291.4 606.3h0M320.4 603.2h0M329.8 564.8h0M279.8 597.7h0M276.2 596.3h0M325.3 566.5h0M284 606h0M309.4 610.5h0M308.6 612.3h0M272.9 593.8h0M332.2 573.2h0M318.3 602.4h0M324.9 558.4h0M275 583h0M298.1 546.7h0M305 609h0M317.2 609.2h0M271.8 604.7h0M278.8 599.6h0M336.9 566h0M272.1 591.2h0M313.8 609.1h0M316.8 555h0M337.4 575.1h0M335.6 571.1h0M270.8 579.3h0M290.7 605.2h0M328.6 566.8h0M328.7 592.6h0M329.7 593h0M274.9 562.3h0M297.4 545.7h0M327.6 595.2h0M326.2 599.8h0M326.9 573.6h0M304.9 611.9h0M301.9 607.6h0M338.7 585.8h0M333.3 586.1h0M273.1 567h0M328.8 601.7h0M299.1 613.4h0M312.8 559h0M318.7 599.9h0M327.2 569.4h0M312.9 557.9h0M328.2 558.4h0M281.6 599.2h0M298.3 608.7h0M280.5 557.4h0M297.4 613.3h0M314.2 553.5h0M323.7 594.2h0M329.7 595.1h0M330.2 579.6h0M296.5 610.1h0M294.3 550.3h0M279.2 559.3h0M309.6 613h0M329 596.5h0M269.9 580.7h0M317.6 607.5h0M281.1 555.6h0M309.4 602.8h0M282.9 604.4h0M333.1 579.7h0M322 600.5h0M317.5 604.2h0M334.8 589.6h0M265.8 580.3h0M315.8 551.3h0M310.3 612.1h0M304.1 613.6h0M296.7 552h0M321 606h0M325.8 599.5h0M331 567h0M323.8 571.6h0M323.3 604.3h0M327 568.5h0M325.2 604.3h0M328 589.6h0M330.3 594.3h0M330.7 589.1h0M282.8 607.9h0M271.8 594.5h0M326.7 597.8h0M273.1 586.5h0M292 604.9h0M324.1 606.2h0M281.7 562.8h0M325 569.9h0M330.9 570.5h0M331 585.4h0M270.6 592.7h0M332.3 567.2h0M325.1 593.4h0M326.1 597.2h0M285.1 608.8h0M333.2 564.5h0M323.4 561.2h0M322.7 567.1h0M293.3 607.6h0M325.6 592.6h0M299.6 609.3h0M304.3 611.6h0M328.7 605.9h0M292.7 611.4h0M292.3 607.7h0M333.1 567.3h0M324.1 558.9h0M284.6 609.3h0M323.2 563.4h0M336.7 579.9h0M330.5 565.7h0M319 604.2h0M335.4 587.6h0M302.3 616.7h0M327.2 558.2h0M301.6 612.4h0M333.2 582.7h0M273.5 587h0M335.9 581.7h0M282.4 561h0M316.9 605.7h0M272.6 598.2h0M332.4 591.9h0M332.5 566h0M327.4 592.8h0M327.5 597.5h0M320.4 607.1h0M328.1 578h0M331.7 580.8h0M326.9 583h0M316.6 554.8h0M320.5 560h0M321 554.4h0M321.7 599.1h0M320.7 602.3h0M290.5 609.4h0M324.6 605.2h0M265 577.9h0M327.8 598.5h0M315.4 610.3h0M276.3 557.9h0M332 583.7h0M296.4 554.7h0M270 587.2h0M325.9 560.2h0M329.6 602.1h0M287.2 617.5h0M319.9 605.7h0M329.2 566.4h0M313.5 613.5h0M312.2 610.7h0M326.3 600.6h0M321.4 599.1h0M298 613.7h0M324.4 585.1h0M290.3 557.9h0M304.2 605.7h0M327.8 562h0M311.9 610.2h0M300.1 608.8h0M318.1 604.2h0M322.1 566.5h0M284.6 552.8h0M331.5 592.8h0M325.1 562.2h0M334.6 593.2h0M321.1 553.2h0M297.6 615.7h0M288.5 610.5h0M302 613.3h0M333.1 570.4h0M292.9 607.3h0M327.6 592.8h0M333.3 578.1h0M269.4 577.3h0" stroke="#4bbd17" stroke-width="0.95" stroke-linecap="round" fill="none" stroke-opacity="0.85"/><path d="M325.7 558h0M336.3 580.1h0M281.4 553.9h0M328.5 583.1h0M294 613.6h0M272.5 585.8h0M301.9 609.6h0M320.6 594.7h0M326.4 569.9h0M334.5 577.4h0M278.2 608.1h0M335.8 588.8h0M333.4 575.6h0M327.5 565.5h0M327.8 568h0M322.3 611.6h0M319.9 608.5h0M318.6 604.2h0M309.9 604.5h0M330.9 597.8h0M325.1 566h0M336 590.8h0M290.8 610.4h0M320.9 604.7h0M335 590.4h0M324.8 586h0M334.1 593.8h0M279.3 597.7h0M333.7 581.3h0M324.2 558.4h0M313.2 605.1h0M317.8 605.4h0M302.3 610.5h0M273.2 599.2h0M323.1 553.3h0M328.2 573.5h0M325.8 560.1h0M299.6 612.7h0M331.2 587.9h0M314.5 610.3h0M333.8 569.3h0M287.8 551.4h0M320.2 604.6h0M329.7 599.4h0M302.1 609.7h0M282.1 605.9h0M331.6 586.2h0M271.3 596.6h0M331.1 578.8h0M276.5 552.2h0M287.4 605.3h0M330.9 561.5h0M268.9 576.3h0M292 609.4h0M324.9 601h0M330 578.3h0M328.2 604.3h0M322.4 600.2h0M314.6 607.6h0M321.3 603.8h0M333.3 569.5h0M296.9 549.8h0M331.7 571.3h0M266.6 579h0M323.3 559.5h0M334.6 573.7h0M331.3 581.6h0M278.3 599.8h0M328.1 576.9h0M301.1 609.7h0M320.3 601.2h0M317 553.7h0M315 603.3h0M276.4 602.6h0M275.7 600.4h0M277.6 558.4h0M314 605.8h0M326.6 559.3h0M286.8 601.8h0M307.9 608.4h0M287.8 554.1h0M320.2 561.5h0M326.5 581.6h0M282 601.9h0M322 605h0M333.6 570.4h0M293.8 611.5h0M272.6 590.9h0M319.2 606.3h0M333.4 575.9h0M316.9 607.6h0M280.6 563.4h0M330.8 605.6h0M301 614.8h0M327.5 589h0M333.4 579.3h0M326.8 566.5h0M291.2 604.6h0M326.8 595.8h0M278.4 595.1h0M309 607.1h0M338 575.5h0M271.9 582h0M325.2 596.3h0" stroke="#6fe026" stroke-width="1.3" stroke-linecap="round" fill="none" stroke-opacity="0.95"/><rect x="341.2" y="622.1" width="3.8" height="1" fill="#fff"/><rect x="352.2" y="538.8" width="90.6" height="90.2" fill="#000"/><path d="M363.5 578.1h0M422.7 555.7h0M384.1 576.6h0M416.8 557.2h0M412 605.5h0M371.7 562.8h0M409.7 611.7h0M375.4 558.2h0M410.6 566.6h0M368.8 562.6h0M383.9 554.7h0M412.6 579.6h0M419 576.4h0M375 605.1h0M369.2 589.6h0M371.9 553.6h0M397.5 587h0M416.7 549.5h0M385.4 583.5h0M357.9 567h0M394.8 546.6h0M383.6 582.5h0M374.8 558h0M358.5 589.5h0M427 598.5h0M418.1 584h0M407.4 587.7h0M400.5 584.8h0M417.2 588.6h0M382.2 555.4h0M371.8 590.7h0M367.2 594h0M363.8 597.6h0M422.6 589.6h0M372.2 608.3h0M403.7 555.9h0M386.9 557.6h0M419.6 586h0M412.5 560.6h0M410 576.5h0M428.2 582.4h0M358.7 565.2h0M373.5 611.1h0M389.8 601.1h0M390.7 552.1h0M379.5 605.5h0M403 596.3h0M414.1 548.2h0M413.1 597.9h0M421.5 561.7h0M360.1 572.7h0M391.9 593.7h0M396.9 587.6h0M373 562.2h0M378.8 555.3h0M428.4 569.6h0M359.6 584.4h0M405.8 569.3h0M388.3 596.2h0M370.7 605.6h0M374.1 596.6h0M407.4 579.2h0M370.4 549.6h0M362.6 597.7h0M388.1 567.5h0M403.8 572.8h0M361.2 593.2h0M387.8 584h0M380.9 573.6h0M362.4 586.3h0M409.9 596.5h0M380.3 565.6h0M414.6 551.5h0M374 577.6h0M389.1 599.8h0M405.1 609.3h0M404.2 569.6h0M393.1 553.1h0M392.1 555.2h0M371.9 603.2h0M411.6 552.9h0M379.3 582.9h0M391.1 558.1h0M398.9 553.5h0M431.4 578h0M399.7 578.5h0M410.7 575.9h0M428.3 582.9h0M368.5 554.4h0M357.4 578.1h0M381 596.5h0M399.3 595.7h0M397 563.9h0M391.4 588.3h0M415.3 579.7h0M398.7 555.6h0M406.1 583.6h0M420.4 604.9h0M385.1 548.3h0M421.7 564.4h0M415.2 560.1h0M361 589.1h0M430.3 568.8h0M361 590.4h0M426.8 585h0M361.4 582h0M364.3 593.3h0M363.6 556.6h0M393.5 588.9h0M430 568h0M382.9 596.1h0M405.6 616h0M419.2 602.2h0M387.5 597.8h0M407.3 571.3h0M382.1 562.4h0M381.4 556.4h0M413.3 611.8h0M375.5 593.6h0M371.5 571.5h0M396 562.9h0M420.6 560h0M389.8 555.1h0M403.3 573.4h0M377.8 546.1h0M422.4 595h0M410.9 549.4h0M399.1 557.3h0M365.2 567.7h0M368 608.8h0M382.1 600.8h0M414.8 566.5h0M401.7 568.7h0M393.9 554.2h0M424.3 583.1h0M394.3 589h0M406 601.7h0M417.5 569.3h0M402.5 600.2h0M419.6 598.6h0M408.9 582h0M392.1 578.2h0M410.9 601.8h0M382.3 547h0M399.3 555h0M429.7 576.1h0M391.1 546.7h0M426.7 561.2h0M417.5 609.9h0M370.5 587h0M377.2 607.5h0M428.9 585.1h0M398.7 565.6h0M417.2 589.3h0M381.9 583.1h0M399.3 547h0M393 614.6h0M397.8 554.4h0M371.6 578.6h0M399.9 550.2h0M407.9 611.7h0M401.1 548.4h0M399.3 611.1h0M394.4 590h0M388.7 570.3h0M391 553.4h0M368.6 588.1h0M374.5 557.1h0M402.5 595.3h0M429.4 593.6h0" stroke="#2a7f0e" stroke-width="0.8" stroke-linecap="round" fill="none" stroke-opacity="0.65"/><path d="M365.1 562.6h0M370.5 570.2h0M405.9 556.7h0M417.2 572.3h0M372.6 587.9h0M415.1 562.3h0M413.3 592h0M413.4 584.3h0M414.9 594.4h0M422.2 566.2h0M374.9 597.8h0M419.8 563.3h0M398.8 607.8h0M419.7 581.7h0M367.8 593.9h0M423.4 576h0M416.2 599.2h0M420.8 580.3h0M417 582.5h0M371.6 575.3h0M400.2 603.7h0M419.1 585.8h0M368.1 575.2h0M382.7 610.1h0M421.2 589.4h0M375.5 559h0M372.5 568.8h0M411.9 597.2h0M410.4 550.2h0M379.4 601.7h0M403.3 556.7h0M383.6 555.3h0M414.7 582.8h0M418.1 590.9h0M421.7 587.9h0M412.3 560.8h0M409.3 558.3h0M422.9 575h0M409.7 600.5h0M369.6 574.5h0M370.2 578.5h0M416.9 559.2h0M396 610.6h0M406.5 598.7h0M420.7 565.5h0M406.8 595.2h0M420.8 570.8h0M421.7 585.3h0M366.1 599.4h0M414.4 572.4h0M414.7 582.8h0M416.7 574.7h0M423.2 585.5h0M422.7 586.4h0M368.3 590.2h0M417 584.9h0M422.1 568.4h0M371.5 570h0M414.6 602.7h0M368.4 579.7h0M383.2 597.6h0M368.5 573.4h0M418.1 570h0M362.8 577.1h0M398.4 602.6h0M367.1 578h0M412.6 563h0M392.5 550.6h0M392.5 552.8h0M418.4 567.9h0M373.1 593.8h0M370.6 573.1h0M412.1 562h0M370.1 577.7h0M422.6 589.6h0M417.3 563.2h0M412 589.5h0M415.3 597.8h0M420.6 568.8h0M410.8 596.7h0M421.2 579.1h0M405.9 564.2h0M375.3 590.4h0M410.4 570.3h0M375.2 572.1h0M419.9 572.2h0M392.2 604.2h0M422.5 572.4h0M415.6 595h0M421.7 573.9h0M416.9 593.8h0M399.6 601.3h0M414 559h0M367.9 587.4h0M415.9 564.3h0M371 582.7h0M420.4 587h0M420.9 596.5h0M362.5 580.4h0M403.4 554.1h0M423 576.7h0M395.9 556.6h0M421.3 575.8h0M404.5 599.6h0M366.5 577.4h0M413.7 576.5h0M416.5 598.9h0M408.9 606.7h0M415.4 561.4h0M419.8 586.5h0M400.4 605.1h0M363 565.9h0M373.1 598.1h0M421.6 596.5h0M416.1 594.9h0M412.5 605.8h0M411.5 586.5h0M375.3 576.5h0M372.2 565h0M411.4 567.9h0M419.5 583.5h0M411.6 601.7h0M377.6 605.2h0M417.2 565.1h0M376.7 569.6h0M362.2 581.4h0M415.3 571.5h0M374.1 580.4h0M373.6 556.5h0M412.3 606.6h0M424.7 576.5h0M404.9 602.8h0M382.6 596.8h0M389.3 604.6h0M384.9 559.3h0M368.4 573.6h0M373.4 584.3h0M407.7 603.7h0M421.8 588h0M416.6 601h0M421.7 578.1h0M418.1 577.4h0M392.6 607.9h0M380.3 600.5h0M403.5 603h0M391.7 605.2h0M423.6 589.8h0M416.2 583.6h0M368.6 573.7h0M405.7 595.6h0M385.1 556.5h0M364.2 578.2h0M376.3 606.4h0M418.3 587.6h0M364.4 573.9h0M416 564.4h0M411.2 562.2h0M408.3 596.2h0M422.2 573.1h0M415 558.1h0M410 596.8h0M424.1 588.5h0M422.7 596h0M416.4 586h0M414.2 565.9h0M377 601.5h0M387.7 597.6h0M373.3 558.8h0M417.5 574.5h0M413.4 596.5h0M417 591.5h0M427.2 576.7h0M416.5 569.3h0M408 568.9h0M417.7 591.1h0M382.4 597.9h0M411.6 597.7h0M367.1 585.7h0M419.9 567.8h0M363.1 588h0M371.5 569h0M412.1 586.9h0M410.2 564.5h0M422.6 584.9h0M406.3 603.8h0M372.4 583.7h0M419.4 565.8h0M405.4 606.5h0M414.9 590.8h0M410.9 598.9h0M412.2 592.1h0M372.5 562.2h0M415.9 588.4h0M371.8 595.6h0M423.6 575.8h0M397.1 559h0M375.4 598.2h0M419.4 588.1h0M379.8 602.2h0M370.7 559.8h0M371.6 579.9h0M362.4 567.5h0M359.8 581.8h0M415.1 569.5h0M373.6 575.6h0M381 562h0M369.9 591h0M425.9 565.5h0M418.8 563.3h0M372.8 605.9h0M374.8 585.9h0M367.3 585.3h0M418.2 579.1h0M403.3 609.4h0M416.7 566.9h0M423 577.8h0M416.1 565.9h0M416.4 561.4h0M372 568.6h0M405.9 605.1h0M405.6 602.6h0M371.8 565.7h0M380.3 597.7h0M373.4 577.2h0M416.4 590.7h0M415.1 577.8h0M372.8 594.5h0M375.3 596.3h0M405.6 563.9h0M420.3 595.5h0M371.1 596.7h0M370.8 599.5h0M408.3 595.1h0M416.6 563.9h0M410.7 561.9h0M371.5 578.8h0M417.4 565.8h0M419.1 598.3h0M418.4 588.1h0M425.3 579.5h0M394.2 553.7h0M366.3 579h0M363.9 568.5h0M420.7 565.9h0M382.5 559.4h0M416.2 567.4h0M415.8 594h0M391.2 546.9h0M419.9 582.2h0M395.4 551.4h0M415.4 564.6h0M376.3 563.9h0M417.2 588.6h0M368.3 583.8h0M419.5 587.6h0M411.1 553.7h0M417.9 567.1h0M418 566.6h0M423.6 590.4h0M362.9 586.6h0M404.7 555.5h0M415.5 567.8h0M373.8 596.2h0M411.1 600.5h0M417.2 565.1h0M417.3 577.2h0M416.4 563.9h0M367.6 596.1h0M377.5 566.3h0M370.5 594.1h0M416.3 599.8h0M372.3 588.4h0M414.6 578.3h0M414 595.7h0M369.3 586.9h0M420 567.4h0M415.6 568.1h0M421.2 582.7h0M369.7 577.1h0M412.6 552.5h0M417.2 592.2h0M381.6 604.3h0M403.5 559.9h0M410 581.9h0M424.4 576.8h0M396.4 605h0M365.6 580h0M366.5 579.1h0" stroke="#33950f" stroke-width="0.85" stroke-linecap="round" fill="none" stroke-opacity="0.75"/><path d="M375.9 598h0M419.5 572.9h0M421.5 587.9h0M369.8 586.9h0M364.8 578.3h0M414.6 570.2h0M419.6 584.8h0M373.7 601.8h0M418 578.2h0M413.6 603.4h0M369.9 595.8h0M406.4 560.6h0M414.7 565.2h0M418.6 560.6h0M367.2 578.4h0M420.8 566.3h0M373.6 570.1h0M410.5 560.9h0M403 608.5h0M423.4 568.9h0M375.4 595.3h0M417.7 577.7h0M369.6 596.5h0M417.3 594.8h0M402.2 551.7h0M369.1 569.9h0M369.3 591.5h0M412 567.4h0M407.7 555.4h0M416.7 589.3h0M416.1 558h0M379.9 569.9h0M402.1 562.8h0M371.2 567.9h0M424.1 583.4h0M394 610.3h0M417.6 587.3h0M418.3 591.6h0M369.4 584.2h0M373.9 600.6h0M363.2 585.9h0M366.3 567.9h0M415.8 572.4h0M405.7 559.9h0M403.3 600.4h0M419.8 585.9h0M395.9 614h0M372.1 565.4h0M415.4 600.3h0M409.9 597.9h0M418.2 580.2h0M409.9 591.2h0M411.1 599.8h0M419.4 578.3h0M373.8 566.2h0M367.6 580.5h0M418.6 579.9h0M411.3 598.1h0M420.7 575.9h0M408.7 559.1h0M395.1 554.7h0M366.9 599h0M421.4 569.1h0M379.3 559.8h0M370.6 584.1h0M418.1 567.5h0M413.7 582.4h0M417.8 578h0M405.7 565.9h0M408 600.4h0M416.6 568.4h0M417.2 586.8h0M406 552.8h0M420.9 583.4h0M373.4 562.9h0M412.8 560.9h0M421.7 579.1h0M407.2 553.1h0M371.9 596.7h0M412.5 560.9h0M417 574.7h0M361.7 586.3h0M407.4 553.5h0M379 597.9h0M366.5 569.7h0M413 598.8h0M378.5 590.9h0M413.8 564.8h0M383.7 610.4h0M417.9 581.2h0M406.8 558.8h0M396.3 606.3h0M420.4 575.9h0M413.7 601.6h0M371.1 569.5h0M415.8 602.5h0M413.5 591.8h0M365 579.6h0M422.5 584.7h0M411.1 596.5h0M416.6 574h0M405.1 558.3h0M400.9 599.9h0M399.5 603h0M420.4 583.3h0M425.8 574.2h0M368.7 580.1h0M367.6 576.9h0M366.7 590.1h0M393.3 606.3h0M369.6 585.9h0M410 560.2h0M425.9 578.4h0M385.6 558.3h0M415.6 574.3h0M417.3 570.5h0M371.1 586.4h0M408.6 586.7h0M406.1 563.1h0M415.8 573.9h0M377.3 596.2h0M368.4 561h0M414.6 600.8h0M403.5 556.8h0M373.4 562.9h0M414.4 601.3h0M418.7 580.5h0M416.3 584.5h0M413.2 593.7h0M370.5 571.5h0M415.5 581.7h0M373.6 558.9h0M407.7 609.3h0M417.6 581.1h0M378.2 590h0M423.7 602.1h0M411.5 598.5h0M417.8 588.6h0M416.8 570.2h0M422.6 563.2h0M411.8 558.7h0M376.9 558.9h0M412 594.8h0M394.4 599.9h0M418.8 577.5h0M413.3 595.5h0M417 581.8h0M370.9 567.2h0M391.2 554h0M365.3 586.6h0M373.4 596.5h0M423.2 576.1h0M416.1 574.7h0M413.5 566h0M383.2 554.6h0M419.3 587.4h0M420 578h0M408.8 607.4h0M372.3 560.3h0M366.3 570.7h0M370.4 587.4h0M377.4 594h0M368 579.3h0M378.3 591.1h0M379.7 554.7h0M371.4 567.9h0M383.3 604.5h0M359.5 577.4h0M380.9 553.5h0M377.8 606h0M376 560.6h0M416.6 579.6h0M378.7 610.2h0M371.5 592h0M419.8 590.6h0M422.7 586.6h0M380.9 559.1h0M404.8 599h0M398.9 555.7h0M420.8 581.1h0M363.9 588.3h0M420.3 569.1h0M412.2 595.7h0M373.3 566.1h0M416.1 571.8h0M400.6 600.1h0M365 577h0M417.8 599h0M415.3 597.5h0M370.3 581.1h0M366.8 587.2h0M420 590.9h0M415.2 596.7h0M363.8 584.1h0M416.8 585.8h0M379.7 566h0M416.3 553.7h0M414.6 573.9h0M367 580h0M411 593h0M367.8 573.9h0M366.5 575.9h0M399.8 608.8h0M412.9 573.6h0M417.9 573.8h0M419.8 586.3h0M403.3 609.7h0M368.1 584.2h0M364.1 576.8h0M421.4 588.1h0M413.3 595.7h0M364.4 581.6h0M424.1 576.9h0M409.4 602.8h0M415 589.5h0M400.9 607.8h0M408.1 565.3h0M372.7 568.5h0M418.3 587.1h0M411.8 607.6h0M418.5 573.3h0M422.9 585.7h0M421.5 590h0M426.3 576h0" stroke="#4bbd17" stroke-width="0.95" stroke-linecap="round" fill="none" stroke-opacity="0.85"/><path d="M377.4 596.3h0M406.6 555.6h0M407.3 601.9h0M421.9 585.1h0M410.6 567.6h0M431.2 581.5h0M375.8 579h0M411.6 561.1h0M409.5 564.9h0M409.1 600.9h0M373.7 572.4h0M417.5 579.3h0M417.5 594.7h0M419.7 569.1h0M416.5 582.6h0M420.6 573.9h0M370.6 593.8h0M360.4 575.2h0M415.4 575.4h0M371.2 582h0M366.8 588h0M375.1 603h0M367.2 595.4h0M383.4 609h0M413.2 607.3h0M418.5 590.9h0M368 562.7h0M403.3 561.3h0M384.2 602h0M373.7 600.4h0M420 578.5h0M380.4 604.7h0M373.5 563h0M366.8 570.9h0M366.8 580.4h0M412.9 587.3h0M420.6 573.3h0M416.9 567.4h0M412.9 589.5h0M369.3 578.8h0M416.7 590.6h0M415.8 597h0M387.8 608.8h0M415 576.5h0M415.1 573h0M424.7 585.7h0M411.4 562h0M414.9 578.3h0M414.2 593.3h0M405.4 602.9h0M418.3 599.1h0M392.8 603.4h0M418.1 585.1h0M418.6 590h0M418.4 589.2h0M419.9 597.5h0M373.6 570.8h0M415.3 592.1h0M395 606.6h0M417.6 569.1h0M411 555.7h0M388.8 557.6h0M410.6 594h0M370.3 587.7h0M416.1 594.7h0M371.1 573h0M400.4 604.4h0M415.2 574.7h0M380.6 603.8h0M420.4 578.8h0M420.4 565h0M392.7 553.1h0M414.8 598.6h0M376.1 593.2h0M413.1 561.2h0M399 557.9h0M373.9 562h0M412.2 598.8h0M409.5 599.8h0M413 563.5h0M371.3 586.8h0M381.4 600.1h0M370.1 580h0M407.1 557.6h0M407.8 590.7h0M411.6 566h0M367.4 597.8h0M414.6 586h0M405.8 600.6h0M413.5 562.5h0M409.9 570h0M414.8 591.6h0M411.1 560.3h0M418.2 597.5h0M402.7 605.1h0M411.6 564.6h0M365.2 574.5h0M413.8 576h0M417.4 596.8h0M418.2 571.1h0M365.4 595.3h0M402.8 559.1h0M411.3 560.3h0M365.8 578.3h0M412.6 597.9h0M416.4 588.5h0M422.4 577.6h0M418.9 593.6h0M419.3 586h0M412.6 562.9h0M371.5 570h0M420 582.1h0M408.5 603h0M413.2 570.4h0M414.5 566h0M377.1 555.2h0M375.8 599.9h0M367.9 576.8h0M363.6 582.1h0M373.3 596h0M420.5 590.9h0M377 555.7h0M367.8 563.4h0M381.3 567.4h0M422.8 587.3h0M422.4 584.5h0M416.5 594.7h0M414.5 588.3h0" stroke="#6fe026" stroke-width="1.3" stroke-linecap="round" fill="none" stroke-opacity="0.95"/><rect x="432.2" y="621.9" width="3.8" height="1" fill="#fff"/><circle cx="394" cy="620.8" r="1.0" fill="#6cf02a"/><rect x="445" y="538.8" width="90.4" height="90.2" fill="#000"/><path d="M497.7 574.9h0M499.4 592.6h0M470.7 546.6h0M452.8 566.1h0M451.3 585.9h0M462.8 581h0M497.9 595.1h0M458.4 560.4h0M469 604.2h0M460.6 588.3h0M497.5 569.9h0M491 564.6h0M491 555.7h0M463.5 587.6h0M503.9 598.7h0M491.6 563.5h0M479.2 553.5h0M460.9 573.5h0M478.1 587h0M495.5 573h0M504.8 551.9h0M481.1 582.5h0M478.5 602.5h0M461.5 583.7h0M457.1 598.2h0M468 608.4h0M506.6 570.7h0M461.2 562.8h0M520.3 573.5h0M468.5 587.4h0M461.8 566.1h0M512.3 558.5h0M483.8 571.4h0M488.5 587.2h0M464 564.7h0M499.1 609.5h0M481.9 547.8h0M505.8 573.5h0M471.6 614.6h0M465.6 586.2h0M482.6 564.1h0M503.6 612.5h0M506.4 570.7h0M468.5 558.5h0M486 617.7h0M472.2 583.1h0M471.6 548.3h0M457.5 590.3h0M458.7 585h0M468.2 608.7h0M516.1 582.3h0M511.1 572.4h0M520.3 600h0M458.1 591.5h0M487.4 584.1h0M473.5 565.5h0M507.2 579.3h0M496.1 603.5h0M467.6 603h0M478.4 552.5h0M524.3 582.7h0M492.6 544.9h0M482.1 577.1h0M490.9 584.2h0M516.3 571.4h0M511.3 580.7h0M467.1 552.8h0M456.8 571.9h0M471.9 588.2h0M469.3 555.2h0M512.7 566h0M466 599.6h0M472.3 599.1h0M458.3 582.9h0M483.7 589h0M465.2 594.6h0M475.1 605.5h0M454 583.4h0M493.4 577.9h0M469.2 557.5h0M491.1 580.1h0M469.4 572.7h0M467.4 555.4h0M474.8 583h0M480.6 573.4h0M522.6 595.3h0M522 596.3h0M471.1 613.1h0M496.7 605.5h0M495.6 558.6h0M464.1 566.6h0M462.2 573.4h0M486.5 557.1h0M451 585.1h0M448.9 583.7h0M509.6 581.3h0M468.7 565.8h0M464.6 589.9h0M506.8 606.6h0M486 599h0M480.3 568.2h0M499.8 594.7h0M459 593.5h0M471.2 547.3h0M466 565h0M483.8 544.4h0M471.2 591.6h0M497.7 568.9h0M456.2 589.1h0M453 596.7h0M497.8 590h0M494.3 611.2h0M482.5 564.7h0M508.7 582.4h0M467.3 602.4h0M494.3 570.8h0M495.3 606h0M497.8 594.6h0M497.7 545.3h0M476.4 545.3h0M468.2 556.9h0M491.4 583h0M502.4 599.2h0M521.1 572.5h0M479.5 596.4h0M483 577.1h0M513.8 604.3h0M455.9 561h0M514.5 593.1h0M500.7 603.8h0M464.6 609.8h0M474.8 588.1h0M472.5 602.1h0M462.5 574.3h0M469.5 606.8h0M523.3 581.2h0M450.3 578.4h0M485.6 590.6h0M507.8 600.9h0M496.1 558.1h0M467.6 563.4h0M494.6 607.1h0M499.1 575.1h0M524.2 573.8h0M485.4 619.6h0M464.4 568.8h0M467.6 554.6h0M471.5 600.8h0M507.9 608.2h0M456.4 571h0M482 573.4h0M483.1 598.7h0M497.5 611.9h0M449.1 576.3h0M511.5 572.7h0M509.3 558.9h0M455.4 571h0M501.6 594.7h0M495 615.3h0M496.9 601.2h0M508.9 569.7h0M500.2 590.1h0M469.8 581.8h0M493.2 590.9h0M507.1 559h0M488.5 614.3h0M486 615h0M459.8 554.1h0M491.7 571.8h0M509.7 607.7h0M497.2 553h0M523.3 578.7h0M495.7 566.6h0M509.7 571.8h0M517.7 590.1h0M504.5 600.8h0M501.6 578.4h0M466.6 597.9h0M485.6 594h0M478.2 551.9h0M511.3 587.6h0M479.9 559.5h0M485.3 579.6h0M510.6 561.7h0M470.6 586.3h0M478.2 564.8h0M463.7 588.2h0M461.5 570.7h0M488.7 563.7h0M484.3 556.7h0M504.8 565.9h0M474.4 584.6h0M476.3 614.2h0M464.4 575.5h0M509.4 585.7h0M496.2 553.3h0M486.3 607.9h0M469.2 560.1h0M455.3 576.7h0M504.8 579.8h0M481.6 611.9h0M505.5 587.9h0M474.5 547.1h0M458.9 565.6h0M499.1 596.3h0M465.2 600.2h0M489 584.7h0M490.8 558.5h0M499.8 592.9h0M483.3 576.9h0M519.8 600.2h0M513.1 565.1h0M486.2 551.8h0M453.6 579.6h0M470.6 559.4h0M482.3 557h0M454.1 585.1h0M505.9 570.5h0M508.9 554.6h0M494.1 559.8h0M499.7 562.1h0M465.7 574.2h0M480 601.6h0M484.3 582.8h0M481 564.3h0M472.1 557.5h0M522.4 581.4h0M476.8 558.3h0M495.2 555.5h0M497.7 598.4h0M491.9 574.7h0M460.8 585.3h0M467.5 548.1h0M496 556.2h0M505.7 551h0M497.9 575h0M490.8 570.2h0M492 572.4h0M521.3 596.1h0M459.7 596.7h0M509.5 587.7h0M464.3 559.6h0M466.7 608.8h0M501.3 613.8h0M518.8 564.7h0M470.1 574.4h0M476.4 615.5h0M470.3 581.9h0M490.1 558.5h0M495.1 605.8h0M464.2 557h0M517.9 567.2h0M487.9 548.2h0M459.6 557.4h0M482.7 591.5h0M513.4 598.7h0M498 549.3h0M499.6 546.9h0M487.3 614h0M479.8 554h0" stroke="#2a7f0e" stroke-width="0.8" stroke-linecap="round" fill="none" stroke-opacity="0.65"/><path d="M456.3 581h0M476.3 557.2h0M500.1 567.2h0M477 557.5h0M459.2 586.6h0M504.5 596.7h0M466.1 558.3h0M466 571.5h0M470.6 568.8h0M477.4 603.1h0M511.9 589.9h0M513.6 578.3h0M510.7 591h0M502.8 603.6h0M511 575.3h0M478.2 610.5h0M486.3 601.9h0M464.8 564h0M501.7 600.3h0M506.9 596.9h0M506.5 600.1h0M469 588.6h0M506.6 562.9h0M485 609.9h0M510.9 574.1h0M499.1 604.2h0M458.5 588.4h0M511.1 602.7h0M496.8 556.9h0M515.6 586.1h0M506.5 594.3h0M493.5 599.9h0M464.3 555.7h0M467.8 568.1h0M492.3 554.5h0M504.2 605h0M514.5 585h0M512.1 574.7h0M469.4 560.6h0M459.3 581.2h0M519.1 584.1h0M469.3 587.2h0M509.1 571h0M465.6 579.7h0M471 556.3h0M479.5 571h0M507 587.3h0M457.8 577.2h0M473.7 548.2h0M460.8 577.7h0M458.6 570.6h0M504.1 598.6h0M500.8 565.3h0M500.5 562.5h0M512.4 566.4h0M513.2 586h0M468.8 566.3h0M501.7 563.8h0M513.5 577h0M466.4 558.1h0M461.2 591.1h0M459 578.5h0M509.9 581h0M508.8 568.1h0M480.6 562.2h0M517.2 574h0M505.1 599.6h0M500.5 609.9h0M461.1 594.8h0M515.8 592.5h0M511 589h0M464.9 585.9h0M517 570.9h0M520.3 583.5h0M508 559h0M513.4 558.9h0M461.3 575.9h0M460.4 576.7h0M514.9 591.2h0M460.6 563.4h0M481.1 605.2h0M513.1 567.8h0M497.7 556.5h0M507.7 591.7h0M464.5 586.2h0M504.6 563.7h0M518.8 596.7h0M466.1 569.8h0M474.7 564.9h0M518.6 568.6h0M469.7 600.2h0M464.9 564.5h0M470.1 565.1h0M463.6 593.9h0M501.1 602.1h0M462.8 572.8h0M485.6 600.1h0M459.9 577h0M497.9 600.3h0M504.7 600.8h0M469.3 557.8h0M482.9 557.9h0M495 557.6h0M487.2 598h0M511.5 584.3h0M502.2 563.6h0M513.9 574.7h0M493.3 552.2h0M517.4 563.9h0M511 573h0M468.4 562.3h0M460.1 589.7h0M464.4 587.8h0M509 568.4h0M517.2 577.4h0M493.9 558.5h0M461.6 564.7h0M506.2 593.2h0M513.2 577.2h0M468.4 601.1h0M513 581.9h0M501.5 608.3h0M507.2 568.7h0M492.3 609.7h0M507.8 588.4h0M508.4 568.8h0M514.8 595.5h0M465.7 590.3h0M517.3 581.1h0M513.4 598.3h0M500.7 560.8h0M457.3 582h0M514.3 578.2h0M467.2 589.1h0M475.1 554.6h0M492.3 556.7h0M466.2 576.3h0M516.2 584.6h0M505.4 569.6h0M479.2 554.9h0M469.6 563.1h0M473.1 561.7h0M493 560.4h0M511 578.2h0M463.3 563.7h0M510.6 565.4h0M465.6 564.3h0M464.8 560.1h0M507.7 573.1h0M480.6 604.8h0M477.9 546.1h0M510.8 573.4h0M490.7 609.5h0M506.2 595.3h0M515.9 566.2h0M493.3 558.9h0M479.5 554.4h0M485.8 598.9h0M501.2 598.5h0M501.2 605.4h0M459.1 578.1h0M504.3 573.2h0M515.1 571.9h0M499.3 604.9h0M509.2 584.1h0M479.2 602h0M458.2 595.6h0M504.4 561.7h0M499.6 606.5h0M468.2 572.7h0M486.4 602.8h0M467.8 602.1h0M493.2 562.7h0M512.6 571.4h0M502.1 606h0M460.5 578.9h0M473.6 598.4h0M513.7 594.4h0M461.2 585.6h0M509.6 587h0M522.3 588.7h0M476 560.7h0M457.5 571.8h0M462.9 585.7h0M509.4 586h0M478.9 551.7h0M465 571.4h0M498.8 603.8h0M479.7 606h0M469.4 559.7h0M501.3 556.4h0M507.7 603.5h0M508.2 584.6h0M507.7 598.6h0M470.6 600.6h0M504.7 586.6h0M498.6 613.3h0M508.5 582h0M462.5 576h0M518.9 590.2h0M513.3 568.7h0M464 585.4h0M487.2 554.3h0M505.3 558.4h0M458.2 569h0M513.1 570.6h0M478.2 606.8h0M454.6 582.4h0M507.7 591.7h0M512.7 585.1h0M510.2 593.5h0M465 593.5h0M501.8 562.2h0M457.8 572h0M503.8 560.6h0M511.8 594.8h0M507.6 599.1h0M486.6 603.5h0M516.3 583.9h0M486.2 607.1h0M517 588h0M504.8 587.3h0M511.3 570.3h0M489.8 563.8h0M492.9 556h0M471.1 566.9h0M492.1 563.2h0M460.2 575.8h0M495 556.3h0M458.7 584.3h0M504.4 568.4h0M501.9 562.1h0M465.1 568.5h0M470.6 600.4h0M501.7 602.8h0M517 581h0M506.7 586.7h0M460.5 588.5h0M496.7 554.2h0M456.7 562.5h0M459.6 575.6h0M462.6 566.9h0M487.3 606.3h0M462.3 576.9h0M491.9 602.9h0M503.2 596.7h0M512.3 593.5h0M510.2 560.4h0M467.8 583.1h0M504.4 594.3h0M474.8 548.9h0M495.5 604.7h0M510.2 566.1h0M509.8 568.4h0M493.2 610.3h0M463.4 594.7h0M456.6 578h0M464.5 562.5h0M512.7 583.2h0M457.1 590.8h0M462.1 564.8h0M472.6 601h0M501.6 563.9h0M508.8 562.7h0M471.5 612.2h0M487.8 605.3h0M465.6 588.8h0M471.2 592.4h0M470.6 563.8h0M496.4 604.3h0M496.6 610.2h0M467.5 598.6h0M497.2 604.3h0M464.6 567.9h0M479.3 607.4h0M517.8 585.3h0M507.8 577.7h0M461.7 569.4h0M505.3 557.5h0M496.8 557.1h0M470.3 553.5h0M511.5 590.3h0M509.6 564.8h0M499 560.3h0M463.1 591.5h0M487 604.9h0M513 578.6h0M466.4 563.2h0M505.8 559h0M484.3 603.8h0M461.8 566.3h0M512.2 572.2h0M514.2 573.2h0M499.8 560.9h0M481.1 606.5h0M519.8 583.6h0M471.7 561.8h0M470.5 563.5h0M505.6 609.1h0M510.2 602h0M508.4 561.1h0M510.3 562.9h0M505.3 606.4h0M489.8 558.2h0M513.4 601.2h0M488.2 558.5h0M469.8 567.5h0M507.4 592.7h0M461 567.9h0M467 589.4h0M510.7 589.8h0M482.9 610.1h0M461.3 577.3h0M507.7 569.1h0M486.5 551.3h0M496.6 557.3h0M512.7 593.4h0M455.1 568.4h0M499.5 560.5h0M512.6 583.2h0M507 558.9h0M459.7 574.9h0M510.3 566.1h0M498.7 601.4h0M456.4 584.7h0M515.2 582.8h0M466.6 569.1h0M503.1 562.9h0M484.2 557.9h0M484.5 609.7h0M470.9 555.8h0M465.2 593.4h0M522.9 586.5h0M488.1 549.4h0M496.4 610.5h0M506.3 566.1h0M489.8 564.7h0M460.1 566.1h0M500.5 589.5h0M507.2 567.2h0M509 597.3h0M500.2 606.5h0M460.9 581.7h0M501.8 564.2h0M454.9 581.8h0M478.8 606h0M480.8 552.2h0M463.8 580.5h0M490.2 550.9h0M460.7 571.8h0M506.4 556.6h0M511.4 583h0M516.6 594.3h0M481.5 557.5h0M461.4 589.9h0M505.4 591.1h0M469.2 601.9h0M469.5 571.8h0M472.3 596.4h0M514.1 573.1h0M475.2 599.9h0M506.3 591.4h0M462.5 600.4h0M460.2 598.9h0M502.9 560.4h0M462.2 579h0M479.2 605.9h0M460.4 575.2h0M499.5 596.5h0M515.7 580h0M514.3 590.2h0M509.9 564.3h0M466.4 568h0M471 553.9h0M462.3 581.9h0M517.6 575.5h0M487.9 610.5h0M466.3 592.8h0M506.2 593.3h0M501.4 563.2h0M518.8 595.6h0M482.4 556.2h0M498.2 607.6h0M509.5 573.3h0M506.9 570.6h0M513.2 558.8h0M495.6 603.6h0M464.7 567.4h0M505.3 598.6h0M464.8 559.2h0M466.5 553.8h0M508.4 604.9h0M512.5 587.5h0M504.8 554.9h0M461.6 583.2h0M460.8 580.1h0M496.3 605.2h0M502.3 593.1h0M466.3 551.1h0M504.5 606.8h0M464.4 571.8h0M464.2 581.5h0M511.6 574.7h0M455.6 570.4h0M507.4 575.7h0M470.2 559.4h0M483.8 609.9h0M484.6 553.1h0M459.2 576.2h0M483.8 601.4h0M458.8 577.6h0M460.7 575.7h0M473.4 572.5h0M463.9 582h0M464.1 604h0M512.8 573.6h0M496.9 559.7h0M459.6 573.5h0M510.1 591.6h0M511.1 584h0M458.7 575.5h0M470.5 604h0M511.5 566.1h0M513 568.3h0M467.8 564.1h0M504.3 555.9h0M515.7 589.8h0M462.5 583.6h0M457.8 580.3h0M460.7 591.6h0M515.5 574.1h0M468 592.9h0M470.8 568.5h0M490.3 559.9h0M470.7 557.1h0M512 586.9h0M477.1 551.7h0M464.7 600.3h0M492 560.9h0M462.1 602.5h0M507.2 595.2h0M482.9 553.6h0M484.9 559.5h0M507.7 566.1h0M454.9 565.9h0M508.6 592.3h0M512.7 584.2h0M459.8 570h0M487.1 554.1h0M513.4 583.9h0M516.3 597.1h0M451.3 595.7h0M474.8 600.4h0M470 603.9h0M474.1 598.4h0M502.1 558.6h0M464.2 576.1h0M479.5 603.1h0M461.1 567.5h0M454.8 588.9h0M465.1 588.2h0M502 552.8h0M481.5 605.9h0M463.9 601.8h0M509.1 587h0M504.4 570.8h0M501.9 597.9h0M479.2 563.1h0M522.4 569h0M512 562.7h0M459.3 569.4h0M466.1 563.4h0M499.3 602h0M508.6 563.1h0M477.7 564.2h0M496.4 604.5h0M466 590.1h0M463.4 595.1h0M483.9 556.7h0M503.9 597.2h0M509.3 559.1h0M454.8 578.1h0M459.9 585.3h0M508.6 577.1h0M477 552.9h0M489.3 611.5h0M494.7 600.1h0M498.6 603.3h0M504.5 594.9h0M478.1 602.4h0M479.7 613.3h0M509 570.1h0M515.1 586.1h0M467.7 591.1h0M464.6 585.9h0M503.3 612.2h0M479.1 607.7h0M511.6 575.5h0M501.1 599.6h0M489.9 605.3h0M509.6 588h0M513.1 561.7h0M508.1 591.9h0M460 568.7h0M507.5 567h0M511.8 599.3h0M502.3 559h0M509.9 584.4h0M460.2 594h0M499.8 555.2h0M472.2 562.9h0M483.1 557.1h0M459.6 591.4h0M503.2 593.7h0M514.5 581h0M483.1 612.1h0M517.3 584.2h0M508.1 565.3h0M506.4 563.5h0M472.2 585.4h0M483.5 547.9h0M463.8 566.2h0M505.9 565.9h0M466.3 592.4h0M496.1 567.1h0M498.2 604.9h0M515.9 562.1h0M489 611.4h0M514.1 576.7h0M503.5 594.6h0M503.7 568.7h0M461.4 568.8h0M488.3 555.6h0M463.2 566.4h0M456.9 579h0M482.4 610h0M486.7 609.5h0M512.9 593.7h0M504 567.8h0M501.1 606.8h0M493.7 559.7h0M463.4 591.7h0M511.4 593.1h0M462.8 589.3h0M459.3 574.4h0M459.1 579.8h0M458.2 567.7h0M459.1 581.7h0M486.7 551.1h0M462.5 585h0M474.6 601h0M463.4 593.6h0M488 612.5h0M460.3 585.4h0M495.1 606.1h0M467.3 591h0M505.7 595.4h0M501.8 556.9h0M467 558.6h0M493.3 562.5h0M508.1 594.1h0M459.5 573.6h0M466.9 581.2h0M514.8 582.1h0M508.5 592.2h0M505.3 602.6h0M518.9 570h0M512.8 570.5h0M482.5 600.9h0M504.7 587.2h0M485.4 559h0M458.6 579.2h0M484.1 609.7h0M515.9 583.6h0M478.9 607.5h0M501.8 560h0M516.7 585.2h0M503.2 598.9h0M502.1 558.6h0M507.2 592.4h0M497.2 558.6h0M463 577.3h0M466.8 577.9h0M506.4 570.6h0M512.5 596.7h0M457.1 572.7h0M464.8 573.7h0M518.3 574h0M506 586.2h0M493.2 602.4h0M510.8 584.4h0M484.2 558.2h0M497.4 611.6h0M468.3 557.2h0M509.9 596.1h0M488.9 597.1h0M512.1 566.9h0M514.9 573.8h0M504.3 599.7h0M456.5 585.4h0M508.3 584.5h0M463.6 590.2h0M461.1 584.9h0M503.6 557h0M474 553.8h0M520.6 586h0M509.4 592.8h0M470.2 565.3h0M515.6 573.2h0M458.7 601.1h0M480.9 561.2h0M507.1 577.8h0M493.8 558.9h0M466.2 578.8h0M491.5 606.6h0M469.7 602.3h0M469.4 566.2h0M477 561.3h0M512.6 599.5h0M513.5 577.7h0M498.1 610.3h0M500.3 554h0M506.5 560.2h0M512.4 574.8h0M502.1 568.4h0M497.8 601h0M484.6 607.2h0M509.6 563.7h0M481.8 611.3h0M463.6 581.5h0M488.5 553.2h0M461.4 592.1h0M509.2 599.6h0M469.2 564.7h0M512.5 581.8h0M486.8 551.9h0M507.9 585.2h0M461.3 599h0M518.7 575.1h0M491.2 605.6h0M463.8 599.8h0M465.3 607.7h0M510.9 603.7h0M507.2 603.7h0M511.5 562h0M465.9 587.2h0M469 560.9h0M482.2 560.7h0M474.1 603.2h0M460.7 577.4h0M509 602.7h0M470.8 563.1h0M466.8 566.8h0M504.7 585.8h0M462.9 569.2h0M512.1 565.4h0M485 556.5h0M510.2 568.3h0M507.4 567.3h0M513.8 568.3h0M506.8 592.6h0M507.7 565.8h0M473.1 603.3h0M466.7 561.6h0M495.8 607h0M510.6 573.4h0M516.8 598.9h0M488.9 606.2h0M495 567.7h0M487.6 559.9h0M494.3 607.8h0M495.8 556.4h0M470.8 603.1h0M483.4 607.6h0M514.3 557.6h0" stroke="#33950f" stroke-width="0.85" stroke-linecap="round" fill="none" stroke-opacity="0.75"/><path d="M463.1 563.9h0M489.1 552.1h0M506.3 583.3h0M486.1 547.8h0M471.7 590.2h0M494.4 604.6h0M509.7 596h0M514.2 593.5h0M514.1 572.2h0M510.1 591.7h0M492.7 565h0M462.1 565.2h0M467.4 602.3h0M503.3 605.2h0M513.8 580.5h0M486.8 553.1h0M457.2 599.7h0M500.6 554.9h0M495 607.7h0M489.2 562.7h0M468.6 554.8h0M508.4 553.7h0M505.3 606.9h0M466.6 603.1h0M482.9 605.6h0M521.6 575.5h0M494.5 608.5h0M470.4 603.5h0M512.6 588.5h0M498.8 557.8h0M476.2 560.2h0M469.6 571.4h0M503.4 594.5h0M507.5 586.2h0M462 588h0M465.8 563.5h0M511.9 563.6h0M510.1 575.9h0M470.8 558.5h0M458.7 596.3h0M471 606.6h0M504.7 561.8h0M469.9 556.1h0M510.5 588.6h0M511.6 594.3h0M469.3 574.3h0M514.7 578.8h0M461.5 596.4h0M460.9 596.7h0M517.5 590.9h0M502.4 599.7h0M513.3 571.3h0M518.5 585.2h0M513 571.5h0M500.9 600.8h0M494.8 605.3h0M505.2 560.5h0M466.2 585.6h0M503.4 610.3h0M516.8 589.8h0M461.4 572h0M470.6 588.8h0M512.2 586.8h0M497.3 601.4h0M465.7 567.3h0M502.2 603.2h0M464.2 573.6h0M461.2 591.9h0M505.8 570.9h0M500 612h0M463.2 572.3h0M472.7 562.4h0M458.2 576.3h0M474.2 562.8h0M467.4 564.3h0M476.3 558.5h0M513 570.3h0M500.9 599.2h0M500.6 601.2h0M508.5 568.4h0M472.6 560.9h0M502 557.1h0M459.6 591.5h0M513.3 575.3h0M511.1 593.1h0M505.3 599.5h0M485.3 553.3h0M466.9 568.8h0M512.4 579.4h0M511.8 580.1h0M460.2 574.4h0M516.1 567.6h0M463.5 592.2h0M515.4 563.1h0M495.9 601.6h0M491.9 601.8h0M511.7 596.4h0M513.6 584.7h0M503.2 592.5h0M511.3 586.5h0M464.5 573.9h0M472.1 554.3h0M463.1 581.1h0M457.3 601.6h0M465.5 599.7h0M473.1 602.9h0M494.8 598.9h0M499.6 562.2h0M495.1 554.1h0M468.9 562.6h0M505.5 593h0M494.5 555.8h0M508.7 566.6h0M505 597h0M499.4 605.3h0M475.8 612.8h0M463.7 595.7h0M457 583.8h0M482 555.8h0M506.8 597.1h0M460.2 596.4h0M469.9 597.8h0M466.2 588.7h0M463.6 572.4h0M502.6 555.7h0M465.3 589.7h0M459.6 576.7h0M462.7 574.6h0M505.4 604.9h0M471.7 612.1h0M507.5 565h0M451.9 584.8h0M474.4 561.1h0M512.1 595.4h0M507.8 594.8h0M467.6 563.2h0M509 588.1h0M466 577h0M495.1 557.9h0M468.4 581.6h0M514.7 580.8h0M498.8 597.9h0M512.5 587.6h0M504 553.8h0M469.6 591.3h0M515 574h0M479.4 611.8h0M466.9 559.2h0M492.3 606h0M511.8 593.8h0M485.3 602.6h0M505.1 566.2h0M516.5 585.7h0M458.6 580.5h0M496.6 608.8h0M454.9 585.9h0M469.5 560h0M501.7 594h0M496.2 610.9h0M500.4 560.8h0M504.7 599.2h0M463.6 573.5h0M497.2 556h0M459 573.2h0M509 601.8h0M459.8 579.1h0M484.5 607.6h0M459.3 595.7h0M501.8 596.3h0M461.6 578.3h0M488.1 552.8h0M486.8 554.6h0M506.5 571.3h0M467.6 569.5h0M465.9 560.4h0M463.7 584.8h0M489.9 560.1h0M507.2 598.5h0M515 576.7h0M487.1 612.4h0M454 569.5h0M501.3 601.5h0M498.9 555h0M456.7 584.8h0M469.5 594.1h0M505.5 611.8h0M468.7 561.8h0M508.4 577.6h0M507.5 568.3h0M506.2 566.2h0M500.7 560.4h0M507.4 594.9h0M509.6 574.7h0M461.5 585.1h0M518.3 560.3h0M462.3 564.8h0M455.4 565.2h0M495.7 562.4h0M511 594.8h0M467.9 607.1h0M464.3 602h0M471.7 593.5h0M497.9 594.5h0M457.8 578.3h0M494 554.8h0M499.4 607.2h0M470.2 572.4h0M508.3 564.5h0M489.5 560.3h0M464.2 566.3h0M468.7 558h0M506.7 571.1h0M520.9 575.8h0M506.9 565.3h0M467.1 592.2h0M473.3 606.2h0M484.9 556.2h0M484 595.6h0M451.2 581h0M464.7 563.9h0M492.7 564.2h0M511.5 578.3h0M506.3 586.4h0M500.3 555.5h0M459.3 584.2h0M500.1 597.8h0M514.9 594.3h0M519.3 573.9h0M468.8 563h0M501.1 559.2h0M509.8 600.2h0M472.1 558.5h0M510 588.7h0M508.6 593.5h0M464 577h0M507 594.3h0M473.1 556.5h0M510.2 571.1h0M470.2 567h0M470.7 596.8h0M516.5 584.3h0M484.7 556.2h0M475.1 594.2h0M498 563.8h0M471.7 583.2h0M495 602.2h0M521 577.3h0M510.6 582.2h0M464.4 585h0M516.4 591.1h0M508.8 561.2h0M504.9 596h0M490 614.1h0M466.5 566h0M474.4 566h0M502.8 604.5h0M509.8 574.4h0M498.8 555.7h0M478.5 605.5h0M506.6 558.3h0M488.4 565.7h0M489.1 600.7h0M464.8 564.8h0M467.2 564h0M498.6 561.8h0M467 571.8h0M458.3 589h0M460.1 597.4h0M468.1 590.5h0M507.7 587.6h0M509.3 583.5h0M509.5 575.9h0M475.7 553.8h0M460.5 590.2h0M459.7 584.5h0M491.4 551.3h0M515.4 591.2h0M496.5 555.5h0M516.8 570.9h0M507.5 576.3h0M512.5 571.9h0M508.3 588.1h0M507.8 563h0M509.6 565.1h0M516.3 579.6h0M497 610.7h0M504.2 561.5h0M512.2 578.1h0M510.1 588h0M512.6 566.6h0M505 593.3h0M467.2 566.9h0M499.9 557.3h0M512.6 578.2h0M497.9 593.5h0M475.2 607.1h0M494.5 604.5h0M513.3 594.3h0M455.6 582.6h0M468 592.6h0M496.2 551.1h0M482.3 608h0M478.8 555.5h0M471.3 554.1h0M463.7 588.5h0M468 568.1h0M466.8 567.2h0M504.4 594.2h0M503.3 561.8h0M460.3 573.5h0M460 578.8h0M508.2 584.9h0M510.8 576.8h0M489.3 614h0M510.9 577.7h0M458.1 592.2h0M497.2 611.9h0M485.6 559.5h0M506.2 596.8h0M473.2 552.5h0M462.7 568.6h0M508.9 573h0M471.6 602.8h0M457.1 581h0M460.6 589.3h0M457 594.8h0M462.5 591.2h0M501.5 558h0M475 608.5h0M464 576.2h0M508.3 563.9h0M462.6 591.7h0M515.4 589.5h0M512.5 584.5h0M518.8 585.4h0M515.4 596.4h0M461.6 588.1h0M467.2 559h0M511.6 581.1h0M502.7 600.1h0M468.5 565.7h0M508.7 571.6h0M458.4 572.9h0M522.9 578.1h0M505.8 590.6h0M509.5 580.9h0M475 557.8h0M469.1 601.5h0M468.8 574.8h0M508.9 598.4h0M469.5 569.2h0M493 559.8h0M502.1 600.5h0M468.7 580.8h0M475.5 609.4h0M513.9 589.9h0M479.1 560.2h0M461.1 565.5h0M505.1 590.1h0M468.5 591.8h0M508.7 592.3h0M462.2 566.1h0M507.5 596h0M507.3 581.2h0M459.4 580.1h0M510.1 572.8h0M482.1 606.9h0M465.9 573.1h0M507.2 593.3h0M512.3 577.3h0M476.6 557.7h0M468.6 557.1h0M503.8 559.2h0M465.9 595.3h0M505 557h0M499.5 561.2h0M489.2 555.2h0M507.9 595.3h0M493.2 563.4h0M517.9 592h0M460.3 574.6h0M509.5 606.3h0M462.4 588.6h0M513.2 567.5h0M513.2 592.5h0M511.2 574.7h0M472.5 601.7h0M481.8 609h0M466.1 576.6h0M454.7 573.8h0M511.8 579.2h0M489.3 564.2h0M517.6 581.8h0M509.6 588.9h0M477.3 613h0M505.8 569h0M469 592.4h0M482.2 606.9h0M515.7 571.9h0M493 599.3h0M489.5 551.1h0M459.4 582h0M503.3 560h0M473.5 592.8h0M493.1 606h0M514.1 573.9h0M477.5 604.6h0M474.1 558.1h0M459.2 585h0M505.7 561.4h0M514.7 577h0M464.1 590.8h0M463.3 597.7h0M514.2 593.4h0M513.4 586.6h0M495.3 557h0M482.9 555.4h0M476.6 607.2h0M463.9 572.2h0M467.7 587.1h0M501.8 602.2h0M505.7 600.7h0M473.4 555.4h0M503.3 602.1h0M502.7 599.8h0M467.8 603.5h0M490.5 606.8h0M508.7 594h0M470.7 582.9h0M516.6 573.1h0M467.2 597.2h0M484.4 611.4h0M472.9 560.8h0M492.1 601.9h0M470.1 591.2h0M488.6 550.6h0M483.1 555.7h0M477.9 603.3h0M505.8 565.4h0M497.4 552.8h0M515.8 568.8h0M512.4 577.8h0M460.8 596h0M478.8 553.4h0M461 572.3h0M520.6 597.2h0M499.9 604.4h0M462.3 571.5h0M465.9 576.5h0M512.2 585.9h0M499.5 563.5h0M514.7 579.8h0M473.9 553.3h0M509 571.1h0M487.6 605.3h0M464 567.8h0M452.5 573.2h0M512.5 565.9h0M461.9 575.1h0M488.8 603.6h0M492.5 607.7h0M465.4 566h0M480.7 552.2h0M500.5 605.1h0M462.6 594.7h0M496.5 557.6h0M462 560h0M503.4 605.4h0M478.4 599.4h0M462.6 566.5h0M466.9 569.6h0M462.7 581.4h0M462 598.1h0M514.6 580.5h0M459.3 583.9h0M514.6 574.7h0M515.6 576.8h0M450.5 583.4h0M469.2 559.3h0M457.4 586.4h0M463.5 584.5h0M471.9 598.2h0M502.8 599.2h0M475.9 554.5h0M514 576.2h0M468.6 576.2h0M505.3 602.9h0M510.7 598.2h0M483.1 553.1h0M466.6 568.7h0M507.8 565.8h0M490.1 606.6h0M510.8 580.7h0M490 550.8h0M461.8 591.9h0M510.6 570.7h0M513.6 583h0M506.3 597.2h0M488.9 558.5h0M514.7 581.4h0M498.1 605.2h0M517.3 589.1h0M486.7 560.9h0M507.9 570.8h0M467.8 585.4h0M475.6 555.8h0M457.6 584.8h0M514.3 581.7h0M504.1 570.4h0M515.4 586.3h0M504.4 607.9h0M500.2 564h0M461.2 570.9h0M496.7 540.4h0M512.5 568.6h0M504.8 566.3h0M504 556.7h0M517.2 577.6h0M463.4 571.8h0M517.3 557.8h0M503.8 560.9h0M509.3 559h0M499.6 559.2h0M487.9 554.5h0M510.7 595.8h0" stroke="#4bbd17" stroke-width="0.95" stroke-linecap="round" fill="none" stroke-opacity="0.85"/><path d="M469.1 562.9h0M487.2 549.4h0M493.6 555.8h0M505.5 592.7h0M513.3 574.1h0M472.9 561.6h0M511.6 573.7h0M516.7 574h0M467.9 593.4h0M498.5 557.8h0M507.1 561.2h0M491.1 606.7h0M464.6 567.9h0M490.6 612h0M498.9 611.7h0M483.3 554.6h0M511.7 576.1h0M479.9 561.8h0M464.2 558.7h0M455 578.6h0M464.9 599.1h0M486.8 602.8h0M470.7 570.6h0M496.4 551.5h0M471.5 571h0M463.5 574.7h0M502.3 565.1h0M461.6 583.3h0M465.5 565.4h0M500.8 556.8h0M509.2 586.3h0M519.1 564.7h0M517.2 577.1h0M460.2 589.8h0M456.8 569.7h0M509.3 605.8h0M463.2 575.8h0M503.2 609.8h0M477.3 608.7h0M494.9 606.8h0M462.7 587.6h0M461.5 581.6h0M463.4 602.6h0M469.9 606.2h0M507.3 589.1h0M468.7 580.9h0M517.3 591.3h0M464.5 579.1h0M482.5 606.3h0M515 569.4h0M506.8 598.4h0M484.8 550.9h0M457.4 575.2h0M513.8 581.7h0M514.5 574.8h0M485.6 557.5h0M461.7 588.8h0M463.1 589.3h0M514.1 605.4h0M510 570.5h0M479.6 566.1h0M464.1 595.6h0M453.4 588.6h0M475.5 553h0M456.4 596.7h0M491.2 607.4h0M511.3 590.3h0M459 557.2h0M464.8 574.1h0M468.2 558.5h0M480.2 562.2h0M458.1 581.7h0M460.4 581.6h0M510.5 591.1h0M463.2 572.4h0M459 582.9h0M469.4 563.6h0M486.7 548.3h0M464.8 565.2h0M489.5 617.1h0M467.4 565.9h0M459.2 569.8h0M505.6 560.5h0M481.5 566.9h0M485.4 604.9h0M468.8 563.6h0M503 584.5h0M503.4 560.9h0M476.7 550.9h0M492.1 557h0M505.5 596.6h0M510.6 592.7h0M479 555.7h0M477.5 605.8h0M471.9 611.6h0M514.2 576.3h0M509 593.9h0M490.4 607h0M518.2 574.2h0M504.2 604.2h0M506.7 566h0M516 584.3h0M516.9 563.9h0M494.6 558.4h0M503.6 573.8h0M482.7 606.7h0M467.2 577.5h0M492 605.5h0M466.9 569.7h0M494.7 605.6h0M472.5 557.9h0M480.7 557.8h0M465.6 583.9h0M488.6 598.6h0M473.4 598.7h0M488.8 608h0M507.4 600.4h0M496.9 553.2h0M465.2 594.7h0M487.5 557.8h0M503.3 590.4h0M463.9 596h0M492.8 601.8h0M487.4 560.5h0M501.7 560.9h0M515.6 569.9h0M475 557.7h0M515 593.6h0M461.1 586.3h0M511.9 575.2h0M466.1 577.9h0M507.3 592.6h0M512.1 576.8h0M457.5 583.7h0M490.3 599.6h0M452.2 579.8h0M505.2 556.7h0M513.9 581.1h0M492.2 610.5h0M460.5 581h0M471.9 556.3h0M509.5 588.3h0M490.8 602.2h0M463 598.8h0M463.4 576.1h0M491.7 553.2h0M511.1 588.2h0M512.3 599.5h0M515.3 586.5h0M484 556.7h0M511.7 570.8h0M501 588h0M511.3 590.2h0M492 554.8h0M509.6 565h0M515.4 572.4h0M473.6 561.1h0M474.3 567h0M495.6 606.9h0M463.1 595.9h0M467.5 566.5h0M504.7 568h0M504.1 595.5h0M490.9 608.1h0M461.2 576h0M473.4 596.3h0M510.9 570.4h0M502.2 562.4h0M469.2 591h0M512.4 564.3h0M500.8 563h0M496.3 609.5h0M500.8 563.1h0M503.4 603.2h0M510.7 589.4h0M492.7 611h0M508.8 593.4h0M509.2 581.2h0M506.4 594.4h0M476.5 605.5h0M466.2 593h0M510.6 559.1h0M477.4 601.8h0M462 574.5h0M478.4 611.7h0M497.1 554.2h0M453.2 572.2h0M495.8 556.3h0M470 569.6h0M504.9 601.7h0M462.2 571.7h0M506.7 586.9h0M504.9 605.9h0M461.5 584.5h0M490.6 609.8h0M468.4 570.9h0M489.2 606.4h0M499 589.9h0M479.3 558.1h0M475.4 606h0M460.8 575.1h0M473.4 569.4h0M466.5 597.3h0M488.1 552.9h0M456.9 561.6h0M489.2 555.9h0M515 574.7h0M516.2 597.4h0M515.4 581.8h0M460.5 592.1h0M461.3 597.2h0M501.5 602h0M474.8 564.7h0M472.8 599h0M467.9 600.6h0M471.3 559.9h0M461.8 567h0M464.4 588.9h0M458.8 585.8h0M511.9 585h0M513 587.9h0M467.4 601.2h0M468.2 566.5h0M478.1 607.1h0M511.1 563.3h0M500.5 606.4h0M509.9 582.8h0M512.7 586.6h0M461.7 588.3h0M487.2 557.4h0M465.8 573.8h0M514 565.8h0M467.5 595.5h0M489 553.6h0M509.7 590.3h0M501.1 599.5h0M499.9 601.4h0M503.2 556.1h0M505.9 577.5h0M460 572.2h0M462.1 592.7h0M457.5 592.4h0M484.3 607h0M503.6 599.1h0M468.2 597.7h0M514.3 593h0M480.8 550.9h0M509.7 551.7h0M472.7 567.3h0M458 589.5h0M470.8 563.5h0M485.5 614.7h0M504.4 572.7h0M517.9 593.7h0M508.7 582h0M494.3 559.6h0M480 561.5h0M515.9 580.3h0M460.1 589.6h0M511.4 577h0M487.5 560.2h0M494.3 558.2h0M460.8 591.9h0M462.2 574.9h0M493.1 601.6h0M461 570.9h0M502.3 601.1h0M486 607.5h0M501.2 594.4h0M502.6 562.8h0M523.9 591.1h0M517.2 583.3h0M470.2 569.6h0M457.1 587.4h0M468.8 567.6h0M513.5 576.1h0M503.9 563.4h0M484.1 558.3h0M496.4 555.9h0M509.3 600.1h0M463.2 585h0M467.3 589.6h0M466 591.9h0M515 572.8h0M481.9 564.7h0M493.6 557.8h0M486.2 558.5h0M477.6 602.2h0M494.1 605.9h0M507.5 595.4h0M454.1 578.2h0M507.6 585h0M495.5 554.9h0M453.3 589.4h0M474.5 580.8h0M513.2 568.3h0M501.8 603.1h0M466.4 566.2h0M509.3 569.1h0M464.5 572.2h0" stroke="#6fe026" stroke-width="1.3" stroke-linecap="round" fill="none" stroke-opacity="0.95"/><rect x="523.3" y="621.9" width="3.8" height="1" fill="#fff"/><text x="262.4" y="549.4" font-size="10.8" fill="#f4f4f4">pTM</text><text x="262.4" y="560.4" font-size="10.8" fill="#36e414" stroke="#36e414" stroke-width="0.25">pTM-EGFP</text><text x="353.8" y="549" font-size="10.6" fill="#f4f4f4">8.1% ITGA6<tspan dy="-3.4" font-size="6.4">+</tspan><tspan dy="3.4"> cell</tspan></text><text x="353.8" y="559.8" font-size="10.8" fill="#36e414" stroke="#36e414" stroke-width="0.25">pTM-EGFP</text><text x="446.4" y="549" font-size="10.6" fill="#f4f4f4">31.7% ITGA6<tspan dy="-3.4" font-size="6.4">+</tspan><tspan dy="3.4"> cell</tspan></text><text x="446.4" y="559.8" font-size="10.8" fill="#36e414" stroke="#36e414" stroke-width="0.25">pTM-EGFP</text></g>
<g id="panel-i"><text x="543" y="532.8" font-size="19.8" font-weight="bold">i</text><path d="M595.5 579.4V539.5H661.5V544.6" fill="none" stroke="#444" stroke-width="0.75"/><path d="M628.5 586.2V548.5H661.5V551" fill="none" stroke="#444" stroke-width="0.75"/><rect x="585.4" y="592.04" width="21.2" height="28.66" fill="#fff" stroke="#111" stroke-width="0.9"/><rect x="617.8" y="599.46" width="21.6" height="21.24" fill="#fff" stroke="#111" stroke-width="0.9"/><rect x="650.6" y="575.18" width="21.4" height="45.52" fill="#fff" stroke="#111" stroke-width="0.9"/><path d="M596 582.93V600.81" stroke="#8a8a8a" stroke-width="0.9" fill="none"/><path d="M628.6 593.72V604.51M623.2 593.72h10.8M623.2 604.51h10.8" stroke="#222" stroke-width="0.8" fill="none"/><path d="M661.3 559.33V590.35M655.9 559.33h10.8M655.9 590.35h10.8" stroke="#222" stroke-width="0.8" fill="none"/><path d="M593.1 581.43l2.3 1.5l-2.3 1.5l-2.3 -1.5z" fill="#fff" stroke="#8a8a8a" stroke-width="0.7"/><path d="M598.9 581.43l2.3 1.5l-2.3 1.5l-2.3 -1.5z" fill="#fff" stroke="#8a8a8a" stroke-width="0.7"/><path d="M593.1 599.31l2.3 1.5l-2.3 1.5l-2.3 -1.5z" fill="#fff" stroke="#8a8a8a" stroke-width="0.7"/><path d="M598.9 599.31l2.3 1.5l-2.3 1.5l-2.3 -1.5z" fill="#fff" stroke="#8a8a8a" stroke-width="0.7"/><path d="M596 590.64l1.6 1.4l-1.6 1.4l-1.6 -1.4z" fill="#fff" stroke="#8a8a8a" stroke-width="0.7"/><circle cx="626" cy="590.35" r="1.3" fill="#eef6fd" stroke="#6fb2ee" stroke-width="0.75"/><circle cx="631.2" cy="589" r="1.3" fill="#eef6fd" stroke="#6fb2ee" stroke-width="0.75"/><circle cx="628.4" cy="594.74" r="1.3" fill="#eef6fd" stroke="#6fb2ee" stroke-width="0.75"/><circle cx="621" cy="599.12" r="1.3" fill="#eef6fd" stroke="#6fb2ee" stroke-width="0.75"/><circle cx="625.8" cy="600.81" r="1.3" fill="#eef6fd" stroke="#6fb2ee" stroke-width="0.75"/><circle cx="631.2" cy="601.82" r="1.3" fill="#eef6fd" stroke="#6fb2ee" stroke-width="0.75"/><circle cx="636.4" cy="598.78" r="1.3" fill="#eef6fd" stroke="#6fb2ee" stroke-width="0.75"/><circle cx="620.8" cy="603.17" r="1.3" fill="#eef6fd" stroke="#6fb2ee" stroke-width="0.75"/><circle cx="631.6" cy="605.86" r="1.3" fill="#eef6fd" stroke="#6fb2ee" stroke-width="0.75"/><circle cx="636.6" cy="603.84" r="1.3" fill="#eef6fd" stroke="#6fb2ee" stroke-width="0.75"/><circle cx="620.8" cy="607.89" r="1.3" fill="#eef6fd" stroke="#6fb2ee" stroke-width="0.75"/><circle cx="631" cy="607.21" r="1.3" fill="#eef6fd" stroke="#6fb2ee" stroke-width="0.75"/><circle cx="658.7" cy="555.28" r="1.5" fill="#f6b77c" stroke="#ec8f3c" stroke-width="0.85"/><circle cx="663.9" cy="553.26" r="1.5" fill="#f6b77c" stroke="#ec8f3c" stroke-width="0.85"/><circle cx="658.7" cy="572.14" r="1.5" fill="#f6b77c" stroke="#ec8f3c" stroke-width="0.85"/><circle cx="663.9" cy="571.81" r="1.5" fill="#f6b77c" stroke="#ec8f3c" stroke-width="0.85"/><circle cx="661.3" cy="575.85" r="1.5" fill="#f6b77c" stroke="#ec8f3c" stroke-width="0.85"/><circle cx="661.6" cy="581.92" r="1.5" fill="#f6b77c" stroke="#ec8f3c" stroke-width="0.85"/><circle cx="661.3" cy="591.03" r="1.5" fill="#f6b77c" stroke="#ec8f3c" stroke-width="0.85"/><circle cx="661.5" cy="598.11" r="1.5" fill="#f6b77c" stroke="#ec8f3c" stroke-width="0.85"/><path d="M574 536.4V620.7H679.5" fill="none" stroke="#8c8c8c" stroke-width="1.05"/><text x="572.1" y="623.6" font-size="7.9" text-anchor="end" fill="#111">0</text><text x="572.1" y="606.74" font-size="7.9" text-anchor="end" fill="#111">500</text><text x="572.1" y="589.88" font-size="7.9" text-anchor="end" fill="#111">1000</text><text x="572.1" y="573.02" font-size="7.9" text-anchor="end" fill="#111">1500</text><text x="572.1" y="556.16" font-size="7.9" text-anchor="end" fill="#111">2000</text><text x="572.1" y="539.3" font-size="7.9" text-anchor="end" fill="#111">2500</text><path d="M574 620.7h-1.8M574 603.84h-1.8M574 586.98h-1.8M574 570.12h-1.8M574 553.26h-1.8M574 536.4h-1.8M596 620.7v2.6M628.6 620.7v2.6M661.3 620.7v2.6" stroke="#777" stroke-width="0.9" fill="none"/><text x="551.8" y="576.4" font-size="8.5" text-anchor="middle" fill="#111" transform="rotate(-90 551.8 576.4)">pTM cellularity/dish</text><text x="628.5" y="531.6" font-size="6.9" text-anchor="middle" font-weight="bold"><tspan font-style="italic">P</tspan> = 0.02</text><text x="628.5" y="539.6" font-size="6.5" text-anchor="middle" font-weight="bold">*</text><text x="617.6" y="545.9" font-size="7.0" text-anchor="middle" font-weight="bold"><tspan font-style="italic">P</tspan> &lt; 0.0001</text><text x="645" y="547.6" font-size="6.5" text-anchor="middle" font-weight="bold">****</text><text x="598.4" y="628.7" font-size="8.4" text-anchor="end" fill="#111" transform="rotate(-45 598.4 628.7)">pTM</text><text x="631" y="628.7" font-size="8.4" text-anchor="end" fill="#111" transform="rotate(-45 631 628.7)">ITGA6<tspan dy="-2.8" font-size="5">-</tspan></text><text x="663.7" y="628.7" font-size="8.4" text-anchor="end" fill="#111" transform="rotate(-45 663.7 628.7)">ITGA6<tspan dy="-2.8" font-size="5">+</tspan></text></g>
</svg>
</body>
</html>
